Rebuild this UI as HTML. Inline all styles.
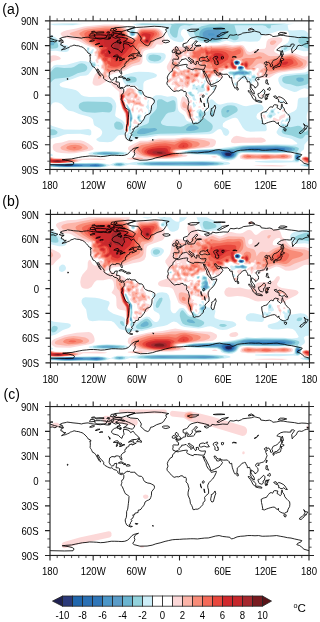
<!DOCTYPE html><html><head><meta charset="utf-8"><style>html,body{margin:0;padding:0;background:#fff;width:320px;height:622px;overflow:hidden}svg{display:block;font-family:"Liberation Sans",sans-serif;will-change:transform}</style></head><body><svg width="320" height="622" viewBox="0 0 320 622" font-family="Liberation Sans, sans-serif">
<rect width="320" height="622" fill="#fff"/>
<g transform="translate(49.92,20.85)">
<clipPath id="clipa"><rect x="0" y="0" width="259.0" height="148.6"/></clipPath>
<g clip-path="url(#clipa)">
<path d="M212.9 145.5l18.5 .1 6.3-.8-15.7-.6-19.1 .6 10 .7zM2.8 142.6l22-1 2.9-.5 5-2.1 17.3 .2 4.5-.3 1.9-.8-10-.8-16.6 .6-23-.6-6.5-1.2 0 6.4 2.5 .1zM254.2 141.8l4.5 .6 0-6.5-3.6-.5-1.4 .2-1.7 1-.5 .8 0 1.5 1.3 2.2 1.4 .7zM81.1 138.9l8.4 .2 10.1-1.1 12.3 .2 9.3-.2 14.2-2.1 2.1-.8-.1-.7-9-2.4-1.6-.6-.7-.7 2.3-1 33.9-3.3 2.6-1.7 1-2.2 .2-2.2-1-1.5-2.8-.9-13.7-1.1-13-.5-11.5 1.4-15.8 0-10.8 2.2-7.2 .1-10.1 5-1.7 1.2-.5 1.5 .5 1.5 4.8 3 3.5 3.7-8 1.2-1.3 .3-.4 .7 4 .8zM195.5 138.9l41.6-.5 4.3-.8 .9-1 .2-1.5-.3-.8-1.3-.6-6.7-.8-9.3 .4-28.1-.5-3.6 .4-2.6 1.2-.8 1.5 .5 1.7 2.2 .9 3 .4zM163.3 136.6l2.6 0 1.4-.7-2.9-.8-3.4 .8 2.3 .7zM11.5 132.2l7.5 .5 5.8-.2 15.1-2.6 2.5-.7 1.1-.7 .2-.8-1.6-2.2-3.7-2.9-4.3-2.3-3.6-1-11.5 .2-7.2 2.2-5.8 .6-2.1 .9-1 1.5-.2 1.5 .4 2.3 .8 1.2 2.9 1.7 4.7 .8zM181.7 121.8l2.9 .7 7.9-.7 19.4 0 3.2-.8 .7-.7 .1-.8-1.8-1.9-2.9-.9-14.4 .2-10.1-2.1-2.9 1-2 2.3-.9 2.2 .8 1.5zM76.5 111.4l.8 .1 1-1.6-.1-3 1.2-3 .2-8.9-.7-3.7-2.6-4.5-.9-4.4-1.7-2.8 0-1.8 .7-.6 .8 .2 1.3 2 .5 2.2 1.8 2.3 .7 .1 .2-.9 1.2-.9 1.5 .2 .8 .7-.1 1.5-1.8 3.7 .3 1.7 1.5 2.4 1-2.6-.2-4.4 .6-.7 3.6-.5 2.9 1.4 2.1 .3 .8-.2 .6-1.8-2.8-1.5-1.3-3 .5-3-2.3-.7-.7-2.2-2.4-2.3 .2-1.4-.3-.8-2.3-1.4-2.9-1.1-3.6 .9-.7 2.4-.7 .6-.8-.1-3.8-2-1.1-4.5-1.5-2.3-1.5-.8-2.1-.3-2.1 .4-.8 .6-.2-2-.8-.8-.4 .8 .2 2.2 1.8 3 2.3 2.4 5 4.2-.1 3.8 .9 6.6 1.8 6 2.9 5.2 .3 1.3 .6 3.9 .2 5.2-.9 5.9 1.4 2.3zM81.6 79l-.6-1.1 .6-1.1 .8-.1 .8 1.2-.5 .8-1.1 .3zM85.2 79.5l-.6-.8 .6-.8 1 .8-.3 .9-.7-.1zM82.6 106.2l1.3 0-.1-1.5-.7 .4-.5 1.1zM88 103.2l1.1-.7-1.7-1.1-2.2-3.1-.7 0-1.2 3.4 .1 .8 .4 .3 4.2 .4zM225.4 100.2l3.1 .4 3.6-3 2.9-1.3 .5-1.3-.5-3.7-.3 1.5-1.2 .9-2.2 .6-2 1.5-.1 2.6-.7 .2-4.3-2-.8 .5-.7 1.6 2.7 1.5zM142.5 99.5l1 .5 1.3-.5 .4-.8-2.2-2.2 .5-2.2-.2-3 1.7-1.1 .4-1.1-1.9 0-.7-.4-1.4-4.1-2.2-.1-.7-1.4 .7-1.3 1.5 .3 .7-.3 .7-1.6-.7-1.3-.7-.1-.8 1.5-.7 .6-.7-.3-.7-1.6-2.9-2.7-1.4-.7-.8 .1-.9 1.5-1.2 4.4-.2 3 .5 2.2 1.1 1.6 3.6 2.4 2.9 6.7 1.4 .8 1.5-1.1 1.1 2.3zM214.5 98l1 0 .2-.7-.6-3-1-.6-.7 .2-.9 1.1 2 3zM92.3 92l.8-.5 .1-.9-.5-.8-.3-1.8-1.4-.6-2.9 2.4 0 .8 .7 1.2 .7-.3 .8-1.2 .7-.1 .8 .4 .5 1.4zM232.5 90.6l1 .2 .7-.2-.2-1.5-.5-.6-1.3 .6-.4 .7 .7 .8zM86.4 88.3l1 .7 .5-.7-.1-1.5-.4-.3-.8 .3-.2 1.5zM152.6 88.3l.3 .4 1-.4 .2-.7-.4-.8-.8 0-.6 .8 .3 .7zM149.1 86.8l1.6-.1 .1-1.3-.8-.3-2.3 1 1.4 .7zM146.2 82.4l1.1 0-.9-1-.7 .2 .5 .8zM148.9 81.6l.4 .8 .7 0 .7-.8 .7-2.2-.7-.8-.7-.2-.7 1-.4 2.2zM153.9 80.9l.4 .3 .6-.3-.6-1.1-.8 .4 .4 .7zM95.9 79.4l.8-.5 .6-1.7-2.7-1.6-.7 .8-.1 1.5 2.1 1.5zM228.7 77.2l1.2 .6 .9-.6-.1-.8-.8-.3-1.4 .3 .2 .8zM139 76.4l1.7 .6 .1-.6-1.6-.4-.7-1.9-2.2-.9 .1 1 2.6 2.2zM211 75.7l.9 .7 .7 0 .5-1.4-.5-1.5-1.4 .1-.9 .6 .7 1.5zM148.8 75l.5 .5 .7 0 2.9-1.2 .2-.8-.9-.9-2.2 .3-1.2 2.1zM202.1 75l1.2 .4 .3-.4-1-.9-.5 .9zM161.8 71.2l.5 .6 .4-.6-.4-.8-.5 .8zM203 71.2l.9 0-.6-1-.7 .3 .4 .7zM156.4 70.5l.8 .5 1.5-.2 1.3-1.8-.2-7.4 1.7-.6 1-.9-.2-.8-2.2-.7 2.9-3.7 .7-.2 2.2 1 .7-.2 2.1 1.5 2.9 .7 .6-.6 .9-3.7-1.6-1.5-.1-.7 .9-1 2.7-1.2 3.8-1.1 .8 1.1 2.1-.4 3.6 .7 1-.3 1.1-3.8-2.8-1.4-.9-2.3 .5-1.5 1.8-.9 2.2-.1 2.3 1 .6 1.5-1.1 2.3 .3 .7 3.6 1.1 .9 1.1 .3 1.5 1 .7 2.1 .5 2.9-.4 2.9 1.7 1.4-1.3 1.5-2.2 1.4-.1 .6 1.1-.5 2.2-1.7 2.3-.1 .7 1.7 3 .7 .4 8 .6 2.8-.6 5.8-3.6 3.6-1.4 13-1.9 9.3-.8 3.2-.9 1.9-1.5 2.1-3.1 0-8.4-2.9 .5-2.8-.2-7.7-2.9-2.4-.5-10.8 1.6-2.9-.4-3.4-1.4-1.6-1.5 .1-1.5 3.6-4.5 4-3.7 .7-1.5-.4-1.5-.8-.7-2.9-.7-6.5 .6-3.6 1.6-1.6 2.2-.9 6-1.1 1.1-8.6 .7-4.4 2.2-2.1 .5-2.2-.9-3.6-5.1-1.4-.9-2.2-.5-7.2 .9-7.9-1.3-7.2 1.1-9.3 .1-.8 .6-2.1-.7-2.2 1.2-3.6-.4-1.4-.6-2.9 .2-5-1.3-5.1 1.3-.5 1-.9 .4-7.9-.9-1.9 .5-1.9 2.3 .1 1.4 1.1 1.5-1.6 .8-.6 5.2-3.9 6.7-.8 2.2 .4 2.2 1.9 2.6 .7 .4 2.1-.5 .3 .5-1 3 .4 2.2-.4 .5-1.4 .5-1.7 2-.6 1.4 .2 .8 1.4 .3 5-2.9 .3 .4-1.3 .7-1.3 2.2-.2 1.5 1.1 .7 1.4-.8 1.1 .9 .4 .7-1.6 1.5-.4 2.2 .5 1.3 2.2-.2 1-.3-.3-2.3 3.6-1.8 1.2 .3 .1 2.3 .8 .5 .8-.5-.1-1.5 .8-.9 2.1 1.1 1.5-.1 2.2-3.1 .7-2.3 1.1 .8 1.7 0 2.9-2.1 .7 .1 1.5 1.9 .6-.6 .3-1.5-.2-.7-1.8-1.5 .1-.8 1.7-1.8 .7 .3 1 1.5 1.2 .9 1.4 .1 1.5-1.1 .8 .1 1.2 3.7 0 2.3-1.6 2.2 1 2.6-.1 2.6zM171.6 56l-.3-.4 .3-.4 .6 .4-.6 .4zM209.8 54.6l-.5-1.2 .5-1.1 1.4-.1 .7 .4-.7 1.8-.7 .4-.7-.2zM128.4 60.9l-.8-.8-.3-1.5 .4-.9 .7-.3 .7 .3 .5 1.7-.5 1.4-.7 .1zM132.7 57.9l-2.8-1.5 0-.9 .7-.4 2.1 .5 .6 .8-.6 1.5zM141.4 50.5l-.3-.8 .3-.4 1.2 .4 .1 .7-1.3 .1zM143.5 51.6l-.3-.4 .3-.6 1 .6-.2 .6-.8-.2zM151.5 53.4l-.6-3 .6-.7 .7-.1 .4 .8-1.1 3zM127.7 50.7l-2.6-1.7-.5-.8 .2-.6 3.6 2.1 .4 .7-.4 .5-.7-.2zM130.6 49l-1.3-1.5 .8-.8-.1-.7-1.5-.8 1.3-1.4 0-3 .8-2.6 1.3-1.1 .8-1.8 .8-.3 2.1 .4 4.3 3.6 1.2 1.8-1.2 0-2.2-1.5 .9 4.5-.5 2.2-1 1.8-.8 .5-2.1 .1-2.2 1.2-1.4-.6zM141.4 26.1l-.5-.9 1.2-.5 .5 .5-.4 .7-.8 .2zM137.1 34.5l-.6-1.1 1.3-1.1 .7 .7 .3 1.1-.3 .5-1.4-.1zM128.2 69.8l.9 .3 .5-.3-1.4 0zM44.7 64.6l2.4 .3 2.9-.6 5.7-3.5 1.6-1.4 2-.8 .7-.7 0-.8-.2-.7-2.2-2.2-.2-.8 .5-.4 1.3 .4 .8 .9 3.7-1.6 11.5-3.1 8-4.4 6.3-1.3 1.5-.6 .9-1 .6-1.5 .5-8.2 .9-2.2 2.1-1.2 7.6-1.8 1.6-1.5 1.6-2.6 4.3 .7 1.5-.4 1.5-1.4 .6-1.7 0-2.8-1-4.4-1.4-3-2.6-2.2-4.3-1.3-14.4 .2-1.5 .5-1.6 1.3-.6 1.5-.7 3.7-.8 1.5-1.3 .9-2.1 .4-2.2-.8-1.4-1.2-2.4-7.5-1.2-1.7-1.5-.9-5.5-1.1-13.9 0-20.2 2.1-7.9 2-9.4 1.6-3.1 1-2.5 1.5-.5 .7 .3 1.5 2.2 2.4 15.2 3.6 7.2 4 4.6 1.9 4 .7 2 2.3-.1 .7-1.6 1.5-.1 .8 .5 1.5-.3 1.4 1.8 .5 .3 1-.1 1.5-1.4 1.5 .4 .1 1.4 2.9 .8 0 .9-.8-.4-1.5 .2-.9 1.5-.7 .7 .3 1.3 2.1 .4 1.5 0 .7-1.1 1.5-.3 3 2.3 1.5 .4 1.4-1.6 2.1-.8-.6-.6-1.5-1.5-.7-.7 .1-3.6 4.2-1.6 3.9-.7 3.7 .3 1.5 1.8 1.5zM151.3 62.3l.9 .1 .7-.5 0-.8-1.4-.2-.7 .7 .5 .7zM46.6 47.5l1.2 .5 .2-.5-.9-1.2-.9 .4 .4 .8zM130.9 45.2l1.1 .4 1.3-.4-1.3-.6-1.1 .6zM.3 42.3l0 .3 1.4-1.6 1.5-.8 6.9-1.6 .7-.8 0-.7-1.8-1.5-3-1-2.8-.1-2.9 .6 0 7.2zM199.6 8.8l.9 0 .8-.7-1.6-.4-.9 .4 .8 .7z" fill="#fcd8d8"/>
<path d="M.3 141.8l0 .4 5.7 .2 11.6-.6 7.3-.7 2.4-.8 .6-.7-1-.7-2.1-.4-20.2-.8-4.3-1.2 0 5.3zM256.7 141.8l2 .3 0-5.8-3.6-.4-2.4 .7-.7 .8 .2 1.5 2.4 2.2 2.1 .7zM81.1 138.1l7.7 .4 3.7-.4 .7-.7-2.9-.5-5.1 .1-3.5 .4-.6 .7zM196.4 138.1l9.8-.2 9.3 .4 10.1-.6 9.4 .2 3.8-.5 1.5-.8 .6-.7-.1-.8-.9-.7-5.7-1-9.3 .6-8.7-.5-9.3 .4-10.1-.5-2.9 .4-2.3 1.3 .1 1.5 .8 .6 3.9 .9zM99.2 136.6l8.3 .7 8.7 0 7.2-.5 6.5-1.1 2-.6 1.1-.7-1.2-.7-6.8-2.3-.6-.7 .5-.8 2.1-.6 9.3-.6 17.6-2.5 4.9-1.5 .8-.7 .6-1.5-.9-1.5-4.6-1.5-6.1-1-11.5-.9-5.1 .1-7.9 1.6-14.4-.3-4.3 .6-7.2 1.8-7.9 .6-5.5 3.5-2.4 2.2 0 1.5 .7 .7 6.4 4.3 5.8 1.9 3.9 .5zM18.8 130.7l6 .2 6.8-1 5.6-1.4 .8-.8 .2-.7-1.9-2.2-3.6-1.8-3.6-.9-5.1-.3-3.6 .2-3.6 1-5.1 2.5-1.3 1.5 .9 1.5 1.4 .7 6.1 1.5zM76.2 110.6l1.1 .4 .7-1.1 0-3 1.2-3 .2-8.9-.7-3.7-2.9-5.2-.8-3.7-1.3-2.2-.3-2.3 1.8-1.5 .7-3.1 .7 1.7 .7 .5 1.5 .2 .7-.2 2.1-3 .8 0 2.1 1.6-.7 2.3 .7 .8 2.2 .1 1-2.3-.4-1.5-2.6-1.5-.8-1.5-.2-1.5-.8-.7-2.7-.8-2.9 1.2-1.1 1.8-1.8 1.3-3.6 1.1-.9 2.1 .7 6.6 1.9 6 3 5.2 .7 4.5 0 5.9-.8 5.9 .8 1.5zM80.9 70.8l-1.4-1 2.1-.2 0 .9-.7 .3zM142.9 98.7l1 0-.3-.7-.5 0-.2 .7zM139.1 96.5l.8 .2 .8-.7 1.4-.1 .7-.9-.2-1.5-1.2-.6-.4-.9 1.6-2.2-1.9-3.7-1.5 1.9-.5-.4 .1-2.2-1-1.1-.7 .2-2.2-3.6-1.4-.2-1.1 1.7-.1 3 1.2 1.5 2.8 .4 1.6 7 1.2 2.2zM82.2 89.8l.2 .4 .7-.4 0-2.8-1.2 1.3 .3 1.5zM90.6 84.6l2.5 .4 .5-.4-1.9-1.2-1.4-2.4-4.4 0-2.1-2-2.2 .8-2.1-1.2-.7 .4-2.2-1.4-.4 .3 1.2 1.5 .3 2.2 1.1 1 1.4-.9 2.2 .1 1.2 .6 .9 1.2 1.4 .3 2.2-.3 2.5 1zM149.9 80.9l.5-.7-.4-.4-.1 1.1zM87.4 78.7l.7 .6 .7-.3 .4-1.1-1.5 0-.3 .8zM95.7 77.9l.4 0-.1-.7-.7 0 .4 .7zM151 73.5l.5 .4 .6-.4-1.1 0zM157.9 70.5l1.5-.8 .5-1.4-.5-3.4-.7-1.3-.8 .4-1.3 2 .4 3.8 .9 .7zM124.3 69l.5 .4 .9-.4-.1-1.5-.8-.5-.5 .5 0 1.5zM128.2 66l.9-.1 1.9-1.3-1.9-1-2.8-3.3-1.7 .5-.4 .8 1.8 2.2 1.2 .8 1 1.4zM136.3 65.3l.8 .5 .7-.3 1.5-2.4 .4-3 1-1.6 .8 .1-.2 2.2 .4 .8 1.1 .4 3.5-2.6-1.3-2.3 2.9-1 2.2-3.4-.1-.8-2-1.5 .6-.7 1.4-.1 1.5-1 .7-.1 1.3 1.2-1.1 5.2 .5 2.2 .7 .2 2.2-1.3 .7 0 2.2 2.1 1.4-.8 2.2-3.6 3.6-.8 .7 .1 1.1 1.2 .3 1.7 .7 .5 .9 0 1.3-2.2 .2-1.5-.9-1.3-.9-.2-.3-.8 .3-.7 .9-.6 .7 .8 2.2-.6 1-1.1-.7-.7 1.1 0 1.4 .8 4.3-1.2 2.9 1.5 2.9 0 .7-1 .5-1.6-.4-.8-2.2-1.1-1.1-3.3 1.1-1.4 1.4-.7 2.9 .1 2.1 1.1 .7 .9-.2 .7-1.1 2.3 .5 .7 3 .8 1.2 1.4 .3 1.3 2.1 .8 3.6-.3 2.9 1 1-.5 .7-1.5-1-.6-2.1-.2 1.7-.7 4-3.2 2.2-.5 2.1 .7 1.2 1.5 .5 2.2-2.6 1.5-2.1 2.2 .5 .8 2.9 .7-.9 3 .5 .3 3.6-2 1.5 .6 2.1-.2 8.7-3 23.7-3.2 1.7-.7 1.6-1.5 1.1-2.2 .3-2.2-.3-.9-1.5-1.1-5-1.8-5.1-2.7-2.8-.8-9.4 1.4-12.2 .5-2.2-.6-5-2.9-4.4-.8-2.8 .5-5.1 2.2-2.9 .1-1.4-.7-.7-1-1.8-4-1-1.5-1.5-1.1-1.5-.4-7.9 1-6.5-1.1-10.8 .6-2.8 0-.8-.7-2.8 .8-2.9-.1-2.2 1-2.1-.8-2.2 .5-1.4-.7-2.9 1.3-1.5-.3-2.1 .8-.7-.1-1.1-2.2-1.1-.2-.4 .2-.7 2.2-2.5 2.5-.6-.3-.1-.6-5.1-.6-.4 .5 1.4 1.5-1 .2-.8-.2-.1-1.5-.5-.7-1.4-.7-.8-.9-1.3 3 1.6 7.5-1 .4-.7 1.1 2.2 .8 1.4-.7 1.4 .3 .8-2.3 1.4-.7 .7-1.2-.7-.9-.8 .2-.1-.7 2.3-2.7 1.2 .4 1 2.3 2.9-2.6 2.9-1.5 .7 0 .4 .3-.4 1.1-1.5 .5-.3 .7 .4 2.2-.6 1.5 2.7 2.2 .1 .8-.6 .7 .9 3 1 1.7 .8 .5 .7-1.5 1.1 .8-.9 2.2-1.7 .4-1.6 1.1 .9 .8 1.5-1.4 1.5 .6-1.6 1.5-.1 .7 1.5 1.5 .1 .7-1.4 .7-.8 0-1.4-1-1.4 .2-.5-2.1 .4-1.5-.7-.6-1.4 .1-.7 .9-1.5 .8-1.4-.4-2.2 1.1-2.1-.1-1.5 1.9-1.4-.4-3.6-2.4-1-.1-.3 2.9-.9 2.3 .8 3.6 4.1-2.2 .1-.7-.8-.7 .2-1.1 .7 .1 .1 1.7 .6 .4 .7 .1 1.5-1.8 4.3 1.6 .6 1.2 0 1.5 .9 1.5 0 .7-1.1 1.5 0 1.5 1.7 2.2zM136.3 53.8l-1.2-1.1 .5-1.4 2.6 1.4 .4 .7-2.3 .4zM149.3 43.9l-.2-1.6 1.7-.8-.6 2.3-.9 .1zM161.5 49.1l-.3-.1 .3-.8 .4 .8-.4 .1zM127 37.1l.7-.5 .4 .5-.4 .5-.7-.5zM145 40.3l-1.8-1.7 1.1-.6 1.2 .6-.1 1.4-.4 .3zM127 32.9l-.3-.3 .3-.3 .4 .3-.4 .3zM131.6 64.6l1.1 .4 .8-.4-.8-.7-1.1 .7zM157.9 62.3l.8 .3 0-.3-.8-.8 0 .8zM118.1 60.8l.2 .5 .8 0 .7-.5 1.7-2.2 0-.7-1.7 .5-1.5 1.5-.2 .9zM130.5 60.8l2.2 .6 .7-.6-.4-1.4-2.4-1.7-.4 .9 .3 2.2zM53.8 57.9l.5 .3 1.3-1.8 1.6-.6-1.1-2.4 .5-1.5 .6-.2 2.1 .8 2.2-1.3 10.8-2.2 3.4-1.5 5.9-4.1 6.5-1.9 1.3-.7 .9-1.1 .6-1.9 .1-6.7 .7-2.2 1.4-1 7.2-1.6 1.5-1.2 2.9-4.8 1.4-.8 5-1.5 .8-1.3 .1-1.9-.4-2.3-1.2-1.9-2.3-1.8-3.4-1-10.8 0-2.8 .3-2.3 1.5-1.8 5.2-1 1.5-1.5 .8-1.4 .3-2.2-.4-2.3-1.5-1-1.5-1.7-4.6-1.6-2.1-2.7-1.5-3.6-.8-13.7 .1-17.3 1.9-5 1.1-11.3 3.7-.8 .7 0 .8 .6 .7 10 4.1 5.8 4.2 6.7 3.6 2.2 .8 1.9 1.6 .1 1.3-2 2.3 .4 .7 1.5 0 .5 .8-.1 4.4 .3 .5 2.9-.5 2.3 3.7 .3 2.3-.8 .7-.5 2.2 1.6 .9 .8 2.1 .1 .7-1.4 3.8 .7 3.7zM48 57.1l.5 .7 .7 0 2.1-1.4 .8-1.5-.7-1-.7-.6-1.8 .9-.9 2.9zM57.8 57.1l1.1 0-1-.6-.1 .6zM208.8 55.6l.6 0-.4-.3-.2 .3zM207.7 54.2l.6 .6 0-2.3-.8 .2 .2 1.5zM127.8 48.2l.6 .3 .5-.3-.5-1-.9-.5-.4-2.2 .9-2.2-.3-.5-2.2-1.4-3.6 1.4-1.4 3.4 .7 2.6 .7 .3 1.5-1 2.1-.1 2.3 1.2zM46.9 40l.2 .7 0-1.6-.2 .9zM220.7 23.7l1.3 .5 2.2-.5 2.2-2.2-.1-1.4-2.1-.7-2.9 .6-1.3 1.5 .1 1.5 .6 .7zM199.6 8.1l.8 0-.8 0z" fill="#fcb4a8"/>
<path d="M.3 141.8l6.5 .4 8-.4 8.5-.9 2.1-.6 .4-.7-3.9-.9-18.1-.6-3.5-1.2 0 4.9zM256.1 141.1l2.6 .7 0-5.1-2.9-.5-2.8 .8-.5 1.1 .5 .7 3.1 2.3zM197.2 137.4l9-.6 10 1 9.4-1 7.9 .5 3.6-.5 1.4-.9-.2-.8-1.4-.7-3.4-.4-8.6 .9-8.7-.8-10 .8-8.7-.9-2.7 .4-1.3 .7-.1 .8 .7 .7 3.1 .8zM109.7 136.6l10.1-.2 7.4-1.3 1.6-.7-.4-.7-4.9-2.3-.6-.7 .5-1 2.9-1 8.6-.3 11.2-2.2 2.9-1.5 .8-1.4-.1-.8-2.1-1.5-2.8-.7-7.7-1.5-3.6-.1-9.4 2.5-9.4-.7-9.3 .8-6.5 1.6-7.2 1.2-2.3 1.4-1.8 2.2-.2 1.5 .3 .7 3.2 3 2.7 1.5 7.5 1.6 8.6 .6zM20.2 129.2l3.8 .4 4.1-.4 2.7-.7 1.8-1.5-1.1-1.5-2.4-1-3.6-.5-4.3 .2-3.7 1.3-1.2 1.5 .3 .7 1.1 .8 2.5 .7zM75.9 109.9l.7 .7 .7 0 .5-.7-.1-3 1.3-3 .2-8.9-.7-3.7-3-5.2-.8-3.7-1.4-3 0-1.5 1.6-2.2-.1-1.5-1.1-1.2-2.1 .2-.8 .4-.5 1.4 .5 5.9 2.1 6.7 3 5 .6 4.7 0 6.6-.9 5.2 .3 .8zM139.3 95l.6 .3 1.3-1-.8-2.3 1.1-2.2-.8-1.5-2.2 .7-.4 .8 .4 3.5 .8 1.7zM86.6 83.1l1.5-.4 2.2 .4-.8-1-4 .3 1.1 .7zM84.3 81.6l.4 0-.2-.7-.7-.8-.8 .1-.5 .7 1.8 .7zM85.3 76.4l.6 .2 1-.9 .2-1.5-.4-.5-.8 0-.4 .5-.4 1.5 .2 .7zM77.3 74.2l.7 .7 .8-.2 1.6-2-.1-.7-.8-.2-1.5 1.1-.7 1.3zM157.6 69.8l1.1 .2 1-1.7-1-3.5-.9 .5-.7 1.5 .5 3zM137.2 63.1l.6 .3 .7-.5 0-3.1-1.9 1.8 .6 1.5zM142 60.8l.8 .6 2.3-2-1.6-1.2-1.5 2.6zM138.2 58.6l1-.1 .8-.6 .3-1.5-1.8-1.4-2.9-.2 .3 3.1 2.3 .7zM158.5 57.1l.9 0 .7-.7 1.4-3.2 2.2-.8 4.3-.5 .8-2.9-.1-1.7 5.1-.4 2.8 1 2.5-1.2 .4-.6 3.6 2 2.2 .4 .7-.4 .9-2.1-2.3-1.6-1.3-3.6 .5-1.1 2.2-1.7 5-1.2 1.8-1.2 .6-1.5 .2-2.2-.3-2.3-.8-1.5-1.5-1.2-1.4-.4-7.9 1.5-7.2-1.3-12.2 .1-.8-.9-.7 .9-.7 .2-2.2 .1-1.4-.6-2.9 .9-2.1-1-.8 .2-1.4 1.6-2.9 1.5-.7 .1-1.4-.8-1.5 .8-.6 2.1 .7 1.5-1.5 1.7 .3 1.2 1.8 1.1 2.9 .1 .4 .3 0 2.2 1.1 .9 2.8-1.3 1.5 .9 .2 1.8-1.2 1.5 .3 .6 2.1 .2 2.2 2.1 1.4 .6 2.2 .6 2.1-.6 1.5 .9 .2 .8-.9 .8-6.5 0-1.1 .6-.1 .8 1.2 1.4 2.9-1.5 1.3 .8 .2 .8-2.3 .9-.7 1.3 1.3 2.2zM155.8 45.5l-1-1.7 1-1.1 .7 0 .8 1.1-.2 .7-1.3 1zM160.8 45.3l0-.9 .7-.4 .2 1.2-.9 .1zM153.5 56.4l1.5-.8 .1-.7-.8-1-.7 0-.3 1 .2 1.5zM122.6 55.6l.8 .6 2-.6-.1-2.2 1.3-1.5-.3-.7-2.2-1.1-.6 .3-1.1 3.8 .2 1.4zM143.8 55.6l.5 .5 2.8 0 1.3-1.2 .7-2.2-1.2-.8-3.8 1.5-.6 .8 .3 1.4zM141.3 54.2l.8 .2 .7-.2 .3-.8-1.3-.7-.7 .7 .2 .8zM131.5 53.4l.5 .4 .6-.4-.6-1.6-.8 .1 .3 1.5zM58 51.2l1.3 .4 1.8-1.2 .4-1 6.5-.7 4.2-1.2 2.6-1.5 5.4-4.5 7.2-2.8 1.4-2.4-.4-6.7 1.1-3.2 1.5-.8 5.7 .2 2.9-1.1 4.3-5.9 5.3-3.3 .5-2.2-1-2.2-2.1-1.5-2.7-.8-12.2 .2-1.4 .6-1.3 1.5-1.2 3.7-1.1 2-1.5 1-2.1 .4-2.9-.7-1.8-1.2-1.2-1.5-2.2-4.5-2-2-2.2-1.1-2.8-.7-13 .2-15.8 1.7-5.2 1.2-4.1 2.2-.6 .7 .5 1.5 6.5 6.1 9 5.8 2.9 .8 1.2 1.5 0 1.4-.9 .6-.4 .9 .1 5.2 .3 .7 2.2 0 .7 .7 .6 1.6 1.4 1.5 .7 2.2 1.1 3.7 0 2.3 2.8 2.2zM93.9 18.4l-.6-.7 0-.7 .6-.5 .7 0 .3 1.2-1 .7zM133.2 51.2l1 .3 .3-1.1-.8 0-.5 .8zM137 51.2l1.5 .6 .7-.1 .5-1.3-.5-1.4-1.9 .7-.6 .7 .3 .8zM146 50.4l1.1-.4 .2-1-1.9 0-.4 .7 1 .7zM211.2 50.4l1.4 .1 0-1.2-.7-.2-.7 1.3zM219 50.4l2.3 .2 5.7-1.2 8.7-.8 14.4-2.5 2.7-1.6 .4-2.2-1.3-1.5-6.5-4.5-3.2-1.3-2.9-.1-12.3 2.1-8.7 2.3-1.3 .8-.5 2.2 .3 5.2-2 .3-.5 .4 0 .8 1.2 1.1 .7 .1 1.5-.6 1.3 .8zM154.1 49l.2 .2 .8-.7 0-1.4-1.2 1.1 .2 .8zM197.1 48.2l4-.7 .7 .1 1.5 .9 1.4-.3 .2-.7-.9-.3-2.9 .2-2.8-.7 4.2-3.7 3.7-4.9 5-.4 1-.6-.2-.8-1.4-.7-1.6-.1-4.3 1.7-8.6 0-4.3 1.3 1 2.3-1.8 1.8-.3 1.2 .8 .7 2.4 .4 1.5 2.6 1.7 .7zM125.1 43.8l1.2-.2 .5-.6-.1-.7-1.9-.9-.9 .9 .3 .7 .9 .8z" fill="#f88c78"/>
<path d="M1.9 141.8l10.6 0 10.1-1.3 .9-.2 .3-.7-4.1-.6-16.5-.6-2.9-1.1 0 4.3 1.6 .2zM257.5 141.1l1.2 .3 0-4.3-2.9-.6-2.6 .9-.1 .7 .6 .6 3.8 2.4zM211.9 136.6l5.1 .4 2.7-.4 1.1-.7-2.4-.9-4.3-.1-1.9 .2-1.4 .8 1.1 .7zM106.5 135.9l9.7 .1 7.9-1.1 1.3-.5 .2-.7-4.1-3 0-.8 1.2-1.1 2.8-.9 7.2 .2 4.4-.5 4.1-1.4 .9-.7 .5-1.5-1-1.5-2.5-1.5-2.8-.8-2.8-.2-3.6 1-5.1 2.8-9.3-1.4-10.1 .8-10.1 2.6-2.1 1.2-1.3 1.5-.4 1.4 .5 1.5 2.7 2.3 4.9 1.4 6.9 .8zM196.4 135.9l2.6 .4 2.3-.4-.6-.8-2.5-.2-1.6 .2-.2 .8zM230.6 135.9l2.2 .3 2.4-.3-.3-.8-2.1-.1-1.5 .1-.7 .8zM22.4 127l2.4 .7 1.8-.7-1.8-.8-2.4 .8zM76.2 109.9l.4 .4 .9-.4-.1-3 1.5-3 .1-8.9-.7-3.7-3.1-5.2-.5-3-1.6-3.7 0-1.5 1.3-2.2 0-.8-.7-1.2-2.1-.1-1.1 1.4 .7 6.6 2 6 2.8 4.4 .8 5.3-.1 6.6-.8 5.2 .3 .8zM139.2 92l.7-.1 .8-2.1-.8-.6-1.2 .6 .5 2.2zM157.7 69l1 .6 .7-1-.7-2.8-.8 .2-.4 .8 .2 2.2zM137.6 57.9l.9 .1 1.1-.9-.1-.7-1-.8-1.4 0-.8 .8 .1 .7 1.2 .8zM146.7 55.6l1.2-.5 .2-.9-.2-1-.8-.2-1.5 .4-.8 .8 .2 .9 1.7 .5zM158.3 55.6l.4 .6 1.4-.7 .4-1.3-.4-.5-.7-.2-1.3 .7-.2 .7 .4 .7zM123 54.9l1.1 .6 .8-.6-.1-1.5 .6-1.5-.4-.7-.9 .1-1.2 2.9 .1 .7zM156.4 51.9l1-.7-.1-.8-1.6 0-.4 .8 .5 .7 .6 0zM161.1 51.9l.4 .3 1.2-.3 1-1.1 0-.6-2.9 .7 .3 1zM138.4 51.2l.8-.8-.7-.6-1 .6 .9 .8zM166.6 51.2l.7 0 .5-.8 .2-3.3 1.6-.4 4.2-2.3 .5 .1 .4 2.2 1.9 .8 1.7-.8 .1-1.5-2.1-2.2 2.5-1.1 .7 .4 1.1 2.9 1.7 2.3 2.3 .6 1.4-.4 .5-1.7-2.2-1.5-1.1-3 0-1.5 1-1.4-.4-2.3 1.5-1.7 5.2-2 .8-2.2-.7-1.5-1-.5-1.4 0-4.4 2-1.4 .3-7.2-2-4.3-.5-9.4-.3-1.4 1.7-.7 0-1.5-.5-1.4-1.5-.7-.1-2.2 .8-2.1-.9-1 1.5-1.2 .7-3.6 1.2-2.2-.4-.4 1.5 .9 2.2-1.3 1.5 .3 .7 4.1 .4 1.5 2 .8-.9 .1-2.2 1.7-1.5-.4-1.5 2.8 0 .7-1.3 .8 .9 .3 1.9 2.5 2.8-.1 .9-1.3 .4-1.7-1.9-1.9-.7-.7 .2-1.3 1.3 .5 1.5 2.2 1.4 0 1.7 .7 .4 .7-2.1 .8-.2 5.7 3 .8 3 1.2 .9-.5 .8 .9 .7 .5 1.2 1.5 .8 .7 1zM58.6 50.4l1.1 0 .6-.7-2.4-1.6-.4 .1-.5 .8 1.6 1.4zM61.4 47.5l5.1 0 5.1-1.5 2-1.5 4.4-4.7 6.1-3.5 1.1-1.6 .7-6.5 2.2-5.2 1.4-.6 6.5 1.9 2.9-.9 1.4-1.4 2.8-4.3 3.7-3.2 .6-1.2-.5-1.5-2.1-1.5-2.3-.5-7.9-.1-2.9 .5-1.4 .9-.8 1-2.1 6.1-.7 .7-2.2 .4-2.9-.4-2.8-1.2-1.7-1.4-4.1-6.2-2.2-1.3-2.8-.8-11.6 .3-15.1 1.5-3.6 .7-2.5 1.3-.6 .7-.2 1.5 1 2.3 1.7 2.2 2.6 2.2 5.2 3.2 2.4 2 2.2 .8 .5 .6 .6 2.3-1.6 3 .2 2.7 .8 .6 1.5 .4 .7 2.3 3.1 4.4 .4 1.8 .7-.3 .8-1.3 .7 .3 .7 1-1 1.5 .3 .4 .7 .5 2.2-.1 .6 .7zM93.1 18.6l-.3-1.6 1.1-1.1 .7 0 .7 .8 .1 1-.8 1-1.5-.1zM196 47.5l2 0-.5-.8 .8-1.5 .4-2.2-.7-2.2-1.9-.8-2.2 1.7-2.1 .5-.9 1.6 .9 .6 2.1 .2 2.1 2.9zM220.5 47.5l2.9 .5 13-.7 10.1-2.7 1.2-.8 .3-1.5-2.1-3-3-2.4-2.9-.7-3.6 .4-7.2 1.7-7.9 3.5-1.3 1.2-.5 1.5 .1 1.5 .9 1.5zM158.2 45.2l1.2 0-.7-.4-.5 .4z" fill="#f46a58"/>
<path d="M4.7 141.8l4.9 0 6.9-.7 4.6-.8 0-.7-11.5-.9-7.2 0-2.1-.7 0 3.2 4.4 .6zM257.5 140.3l1.2 .7-.1-3.6-2.8-.5-1.8 .5-.2 .7 3.7 2.2zM104.5 135.1l5.9 .4 6.5-.1 5-.9 1.4-.8-3.2-3 0-1.5 1.2-2.2-1.5-1.2-2.9-.8-7.2 0-7.2 1.1-5.8 1.7-2.3 2.1 0 1.5 1.6 1.6 3.6 1.3 4.9 .8zM129.1 127l3.6 .5 3.7-.5 2.2-1.5-.1-1.5-1.4-1.5-1.5-.6-2.1-.2-1.5 .3-2.1 1.3-1.3 1.4-.4 1.5 .9 .8zM76.5 109.9l.5 0 .4-.8-.8-1.6-.5 1.6 .4 .8zM77.1 105.4l.2 .4 .7-.6 .8-1.8 0-9-.6-3.1-3.3-5.2-.5-3-1.5-3.7 0-1.5 1.1-2.9-1-1-1.4 0-.8 1 .7 6.6 2 6 2.8 4.4 .7 5.3 .1 8.1zM158.2 69l.5 .2 .4-.9-.4-1.5-.8 .2-.1 .5 .4 1.5zM137.5 57.1l1 .2 .2-.9-1.3 0 .1 .7zM145.9 54.9l1.2 .2 .4-.9-1.1-.4-.6 .4 .1 .7zM165.3 48.2l1.3 .3 .6-1-1.3-.3-1.7 .3 1.1 .7zM183 47.5l2.3 .3 .7-.5 .1-1.3-2.1-1.5-1.3-3.7 .4-1.5-.4-.7-1-.2-1 .9 0 4.5 1 2.2 1.3 1.5zM175.4 46.7l1.2 .5 .8-.3 .5-.9-.3-.8-1.7-.4-.7 1.2 .2 .7zM195.4 46l.7 .6 .7 0 1-1.4 0-2.2-1-1.6-1.4 .1-1.5 1.3-1.4-.5-1.2 .7-.1 .8 .6 .3 2.1-.2 1.5 2.1zM228.7 46l4.8 .3 5.2-1.1 4.4-2.2 .5-.7-.1-1.5-1.3-1.9-2.2-.9-3.6 .1-4.7 1.2-4.1 2.2-2.2 2.3 0 .7 .8 .7 2.5 .8zM60.5 45.2l3.1 .7 2.9-.1 2.3-.6 2.1-1.4 3.5-5.5 4.9-4.2 1.8-2.2 3.3-6.7 .1-3.1-1.4-1.3-5.3-2.3-1.5-1.5-3.6-5.2-1.9-1.3-2.1-.8-4.3-.3-7.2 .5-15.2 1.8-2.8 .9-.8 .7-.5 1.5 .4 1.5 1.6 2.2 7.2 5 2.2 2.4 3.6 .8-.1 .7-1.3 .8-1.2 4.4 3.5 3 .1 .7-1.1 1.5 .1 .8 2.1 2.2 2.2-.7 .5 2.2 1.6 1 1.2 1.9zM60.8 41.9l-.8-1.5-2.1-.4-.3-.7 .2-1.5 .8-.6 2.2 0 0 4.7zM55 27.6l-.3-.2 .3-.7 1.4 0-1.4 .9zM166.8 43.8l1.9 .1 2.2-.8 7-4.5 1-3-.7-2.2-2.3-1.9-3.6-1.3-5-.5-5 .2-.8-.5-.7 1.1-1.4 .3-1.5-.4-1.6-1.5-1 0 .2 2.2 1 2.9 .7 .3 3.6-1.7 1 .8-.3 1-2.1 1.2-.6 .7-.2 1.5-1.1 1.5 .4 .6 2.2 .2 1.4 1.9 .6-.5 .2-1.1 2.1 2.1 2.4 1.3zM153.1 38.6l1.9 0-.1-.8-.6-.8-1.4-.6-.9 .7 .1 .7 1 .8zM144.8 32.6l.9 0-.7-.7-.2 .7zM95.7 23l2.5-.3 1.5-1.2 1.7-3.8 2.9-3.7 .1-1.5-.7-.7-2.6-.7-6.5-.2-2.2 .3-1.7 1.3-1 3 .3 3 2.8 3 2.9 1.5zM93.1 19.7l-1-1.2 0-1.5 1-1.4 1.5-.2 1 .9 .2 1.4-1.2 1.5-1.5 .5z" fill="#e8473c"/>
<path d="M1.2 141.1l7.7 .5 8.9-1.3-1.4-.7-6-.6-10.1 .1 0 1.5 .9 .5zM258.5 139.6l.2 .5 0-1-.2 .5zM256.4 138.9l1.6 .2 .5-.2 0-.8-1.2-.8-2.4 .1-.3 .7 1.8 .8zM103.5 134.4l10.5 .6 5.1-.5 1.9-.8-.1-.8-2.4-2.2-.9-2.3-.7-.7-2.2-.6-5.7 0-6.5 .8-4.2 1.3-1.5 1.5 .4 1.5 1 .7 5.3 1.5zM132.4 125.5l1.1 .4 .9-.4-.2-.8-.7-.1-1.1 .9zM76.4 109.1l.2 .4 .4-.4-.4-.5-.2 .5zM77.3 104.7l.7 .1 .5-1.6-.3-3 .4-4.4-.6-4-3.4-5.7-.6-3-1.4-3.7 .9-4.4-.5-.6-1.4-.1-.5 .7 .5 6 1.9 5.8 3.1 5.2 .7 5.3 0 7.4zM158.4 68.3l.3 .2 0-.8-.3 .6zM184.1 47.5l1.2 0 .6-.8-.3-.7-1.8-1.1-1.4-3.8-.7 0-.6 1.9 .3 1.5 1.5 2.2 1.2 .8zM176.5 46.7l.8-.7-.7-.6-.8 .6 .7 .7zM195.9 46l.9 0 .6-1.5-.2-1.5-1.1-.9-.7 .3-.7 1.4 1.2 2.2zM191.6 43.8l1.5 0 .2-.8-.8-.4-.7 .2-.2 1zM232.5 43.8l3.3 0 1.6-.8 1.1-1.5-.6-.7-.8-.2-2.9 .4-2 1.3-.3 .7 .6 .8zM64.8 40.8l1 0-.4-1.5 .7-.7 6.2-3.8 3.3-2.9 5.3-6.4 .4-1.1-.2-1.4-5.2-3.9-4.3-6-3.6-1.8-4.4-.3-6.3 .8-13.9 3-.8 1.5 .7 1.4 5.9 4.9 2.4 3.3 6.1 .8-1.3 1.7-3.6 .7-1.5 2 .1 1.5 .7 .3 2.6-.3-.4 1.5 1.4 2 5.1-.1 .7 1.2 2.9 1.4 .6 .7-.2 1.5zM55 32.3l-.2-.4 1.6-2.2 0 1.9-1.4 .7zM161.5 40.8l0-1.2 0 1.2zM167.8 40l2.4 0 3.2-2.2 .7-2.2-.7-1.5-.9-.7-1.6-.8-2.9-.5-2.9 .4-1.3 .9-.4 1.4 1 2.3 1.5 1.7 1.9 1.2zM55.5 38.6l.9 0 0-1-.7-.2-.2 1.2zM159.2 38.6l.2 .3 1.3-.3 .7-2.3-1.3 .2-.9 2.1zM156.6 32.6l.6 .4 .6-.4 .1-.7-.7-.7-.7-.1 .1 1.5zM161.5 31.9l0-.9 0 .9zM96 22.2l2.2-.2 1.3-1.3 .3-3 1.2-3.7-1.4-1.1-2.9-.5-2.8 0-1.5 .7-.6 .9-.1 .8 2.9-.2 1.6 1.7 .1 1.4-2.2 3 .5 .8 1.4 .7z" fill="#d0292d"/>
<path d="M2.6 141.1l7 .3 5.5-1.1-1.7-.7-5.9-.4-5.7 .4-.8 .7 1.6 .8zM256 138.1l.9 0-.9 0zM108.7 134.4l7.5-.2 2.3-.5 .5-.8-3.5-3.2-3.6-1.1-4.4 0-4.3 .6-2.9 1-1 1.2 .4 .8 2.1 1 6.9 1.2zM77.7 103.9l.3 .3 .3-1-.3-2.5-.3 3.2zM77.9 98.7l.1 .5 .2-4.2-.7-3.7-2.3-3.6 0 1.2 1.9 3.1 .8 6.7zM74.4 87.6l.6 0-.6-1-.3 .2 .3 .8zM73.6 86.1l.1 .3 0-2.9-1.4-4.1 .7-3.7-.2-.7-1.2-.2-.1 3.1 .6 .8-.1 2.2 1.6 5.2zM183.8 46.7l.8 .3 .7-.3-2-1.5-.2-2-.7-1.3-.7 .4-.1 1.5 2.2 2.9zM195.7 45.2l.4 .4 .7-.4 .2-.7-.2-.9-.7-.7-.9 .9 .5 1.4zM192.5 43.8l0-.9-.4 .1 .4 .8zM56.3 34.8l1.6 .5 1-.5 0-1.4 1.6-1.5 .3-1.9 .7 1.9 5.7 1.1 2.9-.8 2.9-2.6 1.6-3.7 0-2.9-3-6.3-2.2-2.4-2.9-1-3.6 .2-5.7 2-3.2 2.2-.4 1.5 1.4 6.7 2.9 .3 .5 .5-.3 2.2-1 3.7-1 1.5 .2 .7zM95.6 21.5l1.9 .3 1.5-1.1 .1-1.5-.9-1.4-.7-.3-2.5 2.5-.1 .7 .7 .8z" fill="#c6282c"/>
<path d="M4.3 141.1l6.1 0 2.8-.8-2.1-.7-3.6-.2-3.6 .2-1.6 .7 2 .8zM107.6 133.7l6.4 0 2.5-.8-.2-.7-1.6-1.2-3.6-1.1-5 .1-2.8 .7-.9 .7 .3 .8 1.4 .7 3.5 .8zM72.1 77.2l.2-1.4-.2 1.4zM182.1 43.8l.3 .5 .3-.5-.3-1.1-.3 1.1zM58.1 31.9l.5 .4 .9-.4 .2-1.5-.4-1.1-1.1 1.1-.1 1.5zM66.1 28.9l2.6-.2 1.1-1.3 .5-1.5-.2-2-.7-1.8-1.4-1.8-.8-.3-.7 .2-1.4 1.8-1.2 3.2 .4 2.2 1.8 1.5zM59.2 26.7l1.1 0-1.1 0zM95.6 20.7l1.9 .6 .9-.6 0-1.5-.9-.6-.8 .1-1.2 1.3 .1 .7z" fill="#a5282e"/>
<path d="M3.8 140.3l3.7 .7 3.9-.7-3.9-.6-3.7 .6zM110.1 132.9l1.8-.1 1.1-.6-1.4-.8-2.6-.2-1.8 .2-.4 .8 3.3 .7zM96.3 20.7l1.2 .2 .7-.9-.7-.8-.8 0-.7 .8 .3 .7z" fill="#781b20"/>
<path d="M5.9 140.3l3.1 0-3.1 0z" fill="#5a1418"/>
<path d="M.3 146.3l54.5 0 6-2 4.3 1.2 5 .4 3.6-.5 5.8-1.8 10 1.1 13.7 .6 56.2 .1 14.4-1 5.7-1.1 .9-.7-1.6-1.1-2.9-.6-17.2-.9-59.1 .3-13.7 .7-7.9 1.3-6.4-.9-4.4 0-3.6 .7-3.6 1.8-6.4-1.6-6.5-.4-46.8 1.1 0 3.3zM252.9 145.5l5.8 .8 0-3.3-6.9 .3-2.2 .8 3.3 1.4zM216.9 141.8l11.6 .2 14.4-.7 4.3 .4 1.4-.4 1.1-1 1.7-5.2-.8-3.7 3.5-2.9 .3-4.5 4.3-5 0-15.5-1.3-2.5-.7-4.5 .3-3 1.7-5.8 0-12.9-.7 1-1.4 .9-6.5 .2-1.5 .8-.7 1.7-.5 6-.9 3-2.2 1.9-6.9 3.2-.3 1.1 .7 .4 .8-.6 .7 .1 .4 .5-.3 1.5-2.3 .4-2.8 3.3 1.4 1.3 2.1-1 .7 1.2-.3 1.5-1.1 .5-2.1-.9-3-.3 .1-1.1 2.1-1.2-.7-1.4-1-.1-1.9 3 .2 1.5-1.4 .7 .1 2.3-2.8 4.4 0 1.5 2 2.2 3.4 1.5 7.2 1.5 2.9 1.1 4.7 3.4 .5 .7-.3 .8-4.2 .5-17.3-.5-11.5 .7-20.2 .2-25.6 3.5-25.5 1.4-11.2 1.6 .3 .7 2.8 .8 7.4 1.1 10.1 .7 14.4 .3 2.9 1.1 .5 .5 .4 1.5 1.2 .9 2.9 1.1 2.9 .5 4.3-.5 2.9-1 2-1.8 2.7-3.7 3.2-1 32.4 .4 16.5-.3 2.2 .2 .7 .7-.6 6-1.5 .9-17.3-.3-19.7 .8 .2 .8 11.5 .7zM.7 135.1l1.8 0 .4-.7-.5-1-1.4-.5-.7 .4 0 1.5 .4 .3zM44.2 134.4l9.4 .6 12.9-.2 7.9-.6 3.3-1.3-.2-.7-1.5-.8-3-.6-16.6-.7-12.2 .9-5.1 1.2-.8 .7 1.5 .8 4.4 .7zM49.2 121l8.7 .4 3.6-.5 2.5-1.4 3-3.7 1.7-1.3 2.9-.7 2.8 .2 .8-1 0-1.6-.9-2.3 .6-5.2-.5-2.3-2.1-2.3-6.3-3.5-.8-1.5 1.2-8.9-.4-3-1.5-3-3-2.7-2.9-.9-19.4 .3-5.1-.6-2.7-1.3-3-3.3-2.2-1.4-3.6-1.2-10.1-1.9-2-1.1-.9-1.5 .7-1.5 3-1.5 8.6-2.4 8.6-3.2 5.8-.6 2.1-.9 4.7-6.2 1.1-.5 2.2-2.4 .6-.1-.6-.5-1.5-3.2-2.1 .5-.8-1.3-1.4-.7-1.4 2.2-3.6-1.2-5.1-.1-13.7 3.6-4.3 .4-5.7-.2-2.9 .7-3.6 4 0 37.6 1.4-2.9 1.5-1.4 2.1-.7 2.9 .3 3.6 1.7 4.3 4.7 2.2 1.6 5 1.1 5.8 2.5 9.3 2.4 2.9 1.2 1.7 1.9 .8 4.5 .8 1.5 5.4 3 1.4 1.4 .8 1.5 .1 1.5-.9 2.3-1.4 1.4-3.6 2.3 .3 1.4 2.5 1.5zM78.8 119.5l.7 .3 3.6-.6 6.4-2.2 8-.3 10.8-2 15.8 0 10.8-.7 24.5-.5 3.6-1.1 5-3.7 2.2-.6 1.4 1 2.2 4.9 2.1 1.2 1.5-.6 1-1 .9-1.5 .1-1.5-1.5-2.2-4.8-2.2-.4-1.5 .5-2.2 2.8-2.3 6.4-2.9 2.2-.5 1.4 .2 1.7 1 5.2 8.9 2.2 2.2 1.7 1.1 3.6 .7 15.1-.6 1.4-1.2-.5-5.2-3-1.6-1.1-1.3 .6-1.5-.2-2.2-.8-.3-.3 .3 0 1.4-.4 1-1.1-.2-2.8-1.5-.9-2.2 .7-2.3 1.2-1.4 4.8-3 .5-1.5-.2-1.5-1.5-2-2.1-.8-3.6 .1-10.1 1.9-2.9-.5-6.5-2.4-4.3-.8-5 .2-6.5 1.8-2.2 0-2.1-1.2-3.6-3.6-1.5-.4-1.4 .7-.7 1.1 0 6.6-.9 3-1.3 1.1-1.4-.2 0-.9 1.5-2.2-.8-.9-.7 .4-1.3 2.7-.9 .7-.7-.1-2.2-2.3-2.8 .7-1.5 1.8 .2 .7 1.7 1.5 .3 1.7-.7 .8-1.5-.2-.9 .7 .1 .7 .8 .7 2 .8-.7 2.2 .4 .8-2.4-.3-2.9 1.5-1.4-1.4-2.2 .2-2.1-.9-1.2-1.4-1.9-4.4-4.1-3-1.3-1.5-.8-3-.5-8.1-.5-1.5-1.3-1.4-2.8-.6-5.1 .7-6.5-1.6-5 .1-2.6 1.3-1.2 1.5-.1 .7 1.7 2.3 .4 1.4-1.1 1.6-1.2 .7 .4 1.5-.4 1.4-2 0 .1 1.5-.5 .8-1-.8 .8-1.5-1-4.4 .6-3-.8-.3-.2 .3-.7 2.2 .5 1.5-1.1 1.8-.7 .5-.1 .7 2.5 3 0 2.9-.9 1.7-2.6 1.3 0 1.5-.6 1.5-1.9 1.3-1.4-.4-.5-.9 0-.7 1.3-2.3-1.5-1.3-2.2-.1-1.3 2.9 .2 .8 2 3.7 2.1 .7 .3 .8-1.1 1.2-1.5 .7-2.9-.2-.4 .5-.1 2.2-1.6 1.2-.7 1.4-.7 .5-1.5-2.3 1-3.8-.4-2.2 1.3-3.7-.1-3-2.5-7.4-2.9-4.2-.7-.5-.2 .2-.1 2.3 3 5.9 .6 3.7-.1 8.9-1.2 3.8 .3 2.9-.9 1.8-1.7 1.2 .1 3 2.4 2.9zM164.4 91l-.5-2.7 .8-2.9 .4-.5 .5 1.2-1.2 4.9zM78.8 114.7l-.2-1.1 1.7-.7-.3 1.4-1.2 .4zM.3 118.1l0 .4 2.1-1 6.5-1.5 5.1-2 3.6-.8 12.9-.2 9.4 1.6 1.4-1 .1-3-.8-1.7-2.2-.8-7.9 .7-16.5-.1-11.6-3.6-2.1-1.1 0 14.1zM216.9 100.2l.8-.4 0-.6-1.3 .3 .5 .7zM219.2 97.3l1.4 .4 .7-.3 2.1-2.3 2-.8 .5-.8-.1-.7-1.4-1.5 0-1.5 .5-.9 .7-.4 2.2-.2-1.5 0-.2-.7-1.2-.2-1.5 1.1-2.1 0-.7 .3-.8 2.6-2.3 2.9-.5 1.4 .7 1 1.5 .6zM94.5 93.5l.8 .2 1.1-2.4-.4-.2-1.2 .9-.3 1.5zM228 92.8l.5 .1 1.1-.9 .1-.7-1.9-.7-.4 1.4 .6 .8zM214.7 92l1.5 .6 1.7-.6-.1-.7-1.6-1-1.4 .3-.5 .7 .4 .7zM231.1 87.6l1 .3 .7-.3 .7-.8-.2-.7-.5-.4-.7 .3-1 .8 0 .8zM143.3 86.1l.2 .5 .8 0 1.4-1.1 .5-.9-.2-.7-1.1-.8-.6-1.7-.8-.4-.9 1.4 .7 3.7zM81.2 84.6l.5 0-.1-1.1-.8 .4 .4 .7zM155.3 83.1l.5 .6 2.5-2.8 .4-4.7-.8-.1-2.1 2.6 .4 2.9-.9 1.5zM208.4 81.6l.6 .5 1.5 0 .7-1.2-1.4-1.1-.8 0-.7 .3-.3 .8 .4 .7zM75.1 80.9l.8 .1 0-.8-1.5-2.1-.2 1.3 .9 1.5zM229.7 80.9l.9 .7 1.5 0 2-.7 0-.7-4.2-.7-.2 1.4zM143.5 79.4l.8 .4 2.5-.4-1.8-2.2 0-2.2-.7-1.3-1.7-1-1.2-2.1-.7-.2-3.2 .8-.1 .8 2.5 2.7 2.7 1.7 0 1.5 .9 1.5zM90 74.2l1.7 .5 1.1-1.2 .1-.8-1.2-2.9 1.4 0 .3-.8 0-5.9 .8-2.3 2.5-1.4 9.1-3 1.3-1.5-.6-1.5-3.3-1.4-5-.9-9.4-.3-4.3 .6-8.1 2-2.7 1-1.4 1.2-.3 1.5 1.1 3 1.3 2.4 1.5 1.3-.4 1.5 1.6 0 .1-.7 .8-.3 1.5 .1 2.1-.4 4.3 .8 1.6 1.2 1.4 2.3 .1 .7-1.1 .8-.2 1.4 2.3 3zM155.5 74.2l2.1 0 .5-.7-.2-.8-1.1-.7-1.4 0 .1 2.2zM147.2 72.7l.7 .4 2.1-2.3 .7 .5 1.5 .1 2.9-1.5 .4-1.6-1-1.5-.3-1.5 1.8-4.5-.9-1.5-.8 .1-.4 .7 .8 1.5-3.1 2.2-.9 1.8-.7 .3-.7-2.1-2.9 1.7-.7-.3-.7-2-2.7 .6 .4 2.2-.6 2.3 .7 .4 2.2-.4 2.7 1.5 .2 .7-.7 2.2zM199.9 72l.8 0-1-.9 .2 .9zM213.8 72l.3 0 .1-.8-.8-1.2-.8 0-.3 .5 .2 .7 1.3 .8zM242 70.5l2.3 .6 2.2-.1 5-2.6 2.9-.9 2.9 .3 1.4 1 0-19.4-1.4 1.2-2.2 1-20.1 1.9-3.6 1-2.2 1.6-.8 1.8 0 2.2 1.1 3 1.6 2.2 3.1 2.2 7.8 3zM163.7 69.8l1.7-2.3 .4-1.5-1.4-.7-.7 .2-1.2 2.8 .1 .7 1.1 .8zM185.2 64.6l1.4 0 .4-.8-.3-1.1-1.4-1.4-.7 .4-.5 1.4 1.1 1.5zM162.2 62.3l2.1-.7-.6-.7-1.5 1.4zM200.1 62.3l.3 .6 1.7-.6 .5-2.9 .7 .6 .7 2 1.3-2.6 .9-.2 0-1.3 .7-1.5-2.2-2.7-.7-.2-.8 .7-1.4 .2 .4-3.2-1.1-1.1-1.4-.2-1.5 .4-4-1.3 .1-2.3-1.1-1.1-3.6-.7-1.4 .7-.7 1.9 .6 2.2-3.5 .6-4.4 0-1.9 .9-.3 .7 1.1 1.5 .1 1.5 1 .3 1.5-.8 .7 .1 .7 1.1-.1 1.5 .5 .8 1.1-.1 .7-.7-.1-1.5 .5-.7 3.2-.4 1.1 .4 .6 .7-.8 .8-2 .7-.1 .8 1.2 1 .7 .2 2.2-1.2 5.7 .9 2 1.3 .6 2.2zM200.4 57.4l-.7-.3-.7-1.3-2.2 0-.5-.9 1.2-.8 1.5 .7 2.1-.3 .4 .4-.4 2.2-.7 .3zM165.7 60.1l.9 .7 2.1-2.2-1.4-.6-.9 .6-.7 1.5zM48.1 45.2l1.1 .6 .3-.6-1-1.3-.7-.1-.7 .7 1 .7zM185.1 43.8l1.6 .5 2.2-.2 1.3-1.8 0-1.5-2-1.3-2.9 .2-1.2 1.1-.1 .7 1.1 2.3zM100.6 42.3l6.9 .4 2.2-.4 2.2-.9 2.3-2.1 1.4-2.2 .3-2.3-.6-1.4-1.3-1-2.9-.4-10-.1-3 .7-1 .8-.8 1.4 .1 3.8 1.8 2.6 2.4 1.1zM40 32.6l1.3 .6 1.3-.6 1.3-3.7-.3-.7-.9 0-2.8 3.1-.7-1.7 .5-2.2-.2-.7-1.8-.3-.5 1 .1 3 1.1 1.5 1.6 .7zM13.6 31.1l2.5 .1 2.2-.8 1.2-2.2-.5-2.5-1.4-1-5.8-1.5-5.7-6.2-5.8-3.6 0 16.8 5.7-.2 7.6 1.1zM233.3 31.1l2.4-.2 5.7-2.2 2.9-.4 2.9 .3 6.5 1.7 5-.1 0-17.4-2.1-2.2-2.2-1.1-2.9-.3-9.3 .4-2.9-.2-.7-.6-.9-4.4 1.3-.8 5.7-.7-162.5 0 4.5 1.9 18.7-.1 8.6 1.1 1.8 1.5 2.5 7.3 2.2 3.3 3.6 2.3 5.8 1.1 2.8-.5 1.4-1.6-.3-1.5-2.5-3.3-.5-1.9 .8-2.9 1.9-1.5 1.4 .2 1.6 1.3 2.9 5.9 7.2 5.2 4.1 1.1 12.3 .7 5.7-.4 7.9-2.5 7.2 2 9.4-1.3 6.5 .6 7.9-.3 2.2-1.1 1.9-4 2.3-1.5 7.2-1.5 8-2.5 7.9-.1 1.3 1.2 .7 2.2 .4 3-.2 2.9-1.5 2.7-5.3 3.3-1.8 2.2 0 2.2 .7 .8 1.9 .7zM199.7 9.6l-1.5-.2-1-1.3 1.8-1.1 1.4-.1 1.4 .4 1.2 .8-.2 .7-1 .6-2.1 .2zM81.5 15.5l2.4 0 1-.7 .8-1.5-.8-6.7-.4-.8-1.4-.1-1.5 .6-1 1-.6 1.5-.7 3 .1 1.5 .9 1.5 1.2 .7zM4.2 4.4l19.1 0 9.4-1.2 7.7-.3-40.1 0 0 .6 3.9 .9zM256.6 2.9l2.1 .5 0-.5-2.1 0z" fill="#cdeef8"/>
<path d="M.3 145.5l9.3 .8 40.8 0 3.9-.6 2-.9 0-.7-1.6-.8-6.2-.8-27.3 .1-20.9 .7 0 2.2zM257.3 145.5l1.4 .2 0-2.3-5 .7 .3 .7 3.3 .7zM65.6 144.8l3.1 .4 2.9-.2 2.8-.9 .4-.8-1.2-.7-2-.5-5.1 .1-2.6 1.1 .1 .8 1.6 .7zM148.1 144.8l18.5-.4 6.7-1.1 .7-.7-2.3-.8-5.1-.6-14.4-.5-50.4 .2-10.1 .7-4.8 1 .8 .7 3.3 .6 10.1 .7 47 .2zM224.4 140.3l1.8 0-1.8 0zM245.6 140.3l1.6 .3 1.4-.4 1-1.3 1-3-.5-2.3-1.5-1.6-1.3-.6-.2-.7 1.5-1.5 .4-1.5-.7-.7-2.5-1.1-6.5-1-13-.6-29.5 .5-6.5 .6-11.9 2.3-9.9 .8-22.3 .7-7.9 .7-3.4 .8-.1 .7 7.3 1.3 24.5 1 3.6 1.4 2.9 2.6 5 .9 3.6-.3 2.9-1.2 1.4-1.2 2.6-3.7 2.4-.9 35.3 .5 18.7-.8 1.5 .4-1.4 2.3-.6 2.2 .4 3.7 .7 .7zM45.6 133.7l8.7 .6 10.8-.2 7.2-.7 1.7-.5 0-.7-6-1.1-13.7-.3-7.9 .6-3.1 .8-.4 .7 2.7 .8zM248.5 117.3l2.3 .5 2.1-.5 2.9-3.4 2.9 .5 0-5.5-3.6 2.6-2.9-4.6-2.1-1.7-2.2-.2-7.2 1.3-2.9-.4-.3-1.2-2.5-.1-1.5-.9-1.4 .2-.7 .8 1.4 .7 2.2-.4 .6 1.2-.6 .4-1.5-.2-1.4 2.4-.4 1.8 1.1 1.8 2.2 1.1 6.4 1.2 7.1 2.6zM82.9 115.8l13.1-.8 8.7-1.6 5.7-.6 28.8-.4 18-1.2 2.4-.6 1.9-1.3 1-1.6 .4-2.3-.5-1.5-1.2-1.4-6.9-5.4-2.1 1.8-.6-.9 .2-1.5 1.1-1.3 .1-.9 1.6-1.5-.3-.9-1.4-.2-.7-.6-1.5-2.1-.7 .1 .2 .7-1.5 1.5 .2 4.5 1.4 1.5 0 .7-1 1.5 .3 1.5-1 1.2-1.5 0-1.4-.8-1.1 .3-1.1 1.1-2.1-.5-3.6 .6-4.4 2.5-2.8 .6-5.8-.7-7.9-.1-4.3-1.2-1.5-1.5 0-1.5 5.1-7.5 2.1-1.7 5.8-1 1.2-1 .5-2.2 0-4.5-.4-2.2-1.3-1.5-1.4-.1-5.1 2-1.4-.4-4.3-2.4-2.2-.2-1.4 .4-1.2 1.5 0 5.2-.4 2.2-1.5 2.2-4.9 5.2-.6 1.5-.9 5.2-1.7 1.5-6.8 2.4-7.7 5.8-.7 2.9 1 1.5zM.3 114.3l2.9 .2 3-.9 1.4-1.5-.2-1.5-2.8-1.9-2.2-.4-2.1 .2 0 5.8zM79.7 109.9l.5 .6 .8-.6-.6-2.2 .8-2.3-.2-3.7 .8-1.5 .7-2.9-.5-3-1.8-6-1.4-1.6-1.5-2.7-.7-.3 0 1.6 2.6 5.3 .7 2.2 .2 11.1-1 2.3-.1 1.5 .7 2.2zM66.6 108.4l2.1 .6 2.1-.1 1.5-.4 .7-.8 .3-1.5-.5-2.3-1.2-1.7-2.2-1.3-2.9-.2-2 1.8-.3 1.4 .3 2.3 1 1.5 1.1 .7zM90.1 101l1 0 .2-.8-1.6-1.5 .3-2.9-.3-.8-.9-.4-1 1.2-.3 1.5 2.6 3.7zM236 99.5l.4 .4 1.4-.4 .6-.8-.4-.7-1.1 0-.9 1.5zM173.8 96.5l2.1 .3 2.2-.6 8.2-4.9 .9-.7 .7-1.5-.7-2.3-2.6-1.8-3.6-.7-3.7 .3-3.5 1.6-2.1 2.1-.5 2.3 .6 3.7 .9 1.5 1.1 .7zM219.6 96.5l1 .4 .9-.4 .8-1.5-.3-.7-.7-.6-.7 .1-1.5 .9-.3 .3 .8 1.5zM161.3 95l1 .5 1.2-2-.3-3.7-.9-1.8-.8 .3-.2 .8 .6 2.2-1.4 1.5-.2 .7 1 1.5zM222 92l1.4 0 .4-1.4-.4-1.1-1.4-.2-.9 .5-.1 1.5 1 .7zM37 91.3l7.9 .7 7.9-.8 6.5 .5 1.5-.7 1.3-1.9 .5-3.7-.6-1.5-1.2-1.5-3.6-1.2-19.5-.6-4.3 .4-2.9 1.1-1.1 1-.6 1.5 .2 2.2 .8 1.4 2.9 2.1 4.3 1zM143.3 82.4l.2 .7 .4-.7-.4-.4-.2 .4zM208.9 80.9l1.5 0-.6-.3-.9 .3zM75 80.2l.3 0-.1-.8-.8-.1 .6 .9zM144.2 78.7l.1-.9-.8 .1 .7 .8zM141.7 75l1.1 .5 1.2-.5-.5-1.1-1.8-.4-.4-2.3-1.3 0-1.1 .8 1.3 2.2 1.5 .8zM90.8 73.5l1.2 0 .3-.8-.3-.7-1.7-2.1-1.5 .2-.3 1.1 2.3 2.3zM146.4 68.3l1.4 0-.1-.8-1.3-.5-.4 .5 .4 .8zM152.7 67.5l1-.7 0-1.5 .5-1.5-.6-.5-1.4 1-.8 1.7 .1 .8 1.2 .7zM143.5 65.3l.8 0 0-1.4-.8 .4 0 1zM246.5 65.3l2.1 .1 4.3-.8 3.7-1 2.1-1.1 0-9.9-2.9 1-8.6 .2-11.5 1.7-2.2 .7-.9 .9-.4 2.3 .6 1.4 1.4 1.4 2.2 .7 4.3 .4 5.8 2zM185.2 63.8l1 0-.2-.8-.7-.1-.1 .9zM.3 61.6l0 .5 2.9-2.9 2.1-1.2 13.7-1.7 3.8-1.4 4.8-2.5 7.2-1.8 1.5-.9 .9-1.5 .2-1.5-.5-1.5-2.1-2-2.8-.7-2.9 .5-5.1 3.1-2.8 .9-7.2 .2-6.5-.8-2.2 .3-1.9 1.5-3.1 3.8 0 9.6zM77.7 61.6l3.2 .4 4.3-.6 1.4-1.3 .1-2.2-1.3-1.5-1.6-.6-2.9-.2-2.9 .6-1.5 .9-.6 1.5 .7 2.1 1.1 .9zM199.7 59.4l.7 .5 .8-.5-.2-.8-1.3-.3-.5 .3 .5 .8zM202.2 57.1l2.5 .4 1-1.1-1-1.3-.7-.2-1.8 .7 0 1.5zM183.6 54.9l.2 .7 1.5-1.1 2.9-.7 2.1 .4 2.2-.1 1.4 1.2 .7 .1 1.5-1.4 3.6-.3 1.4-2.5-.7-.8-2.2 .4-5-1.5-.2-.3 1.1-2.3-.6-.7-1.7-.7-2.2-.1-.7 .2-1 1.3 .1 1.5 .8 .8 .1 .7-.7 .5-3.6 .7-4.4 0-1.4 .9 1.4 1.4 2.2 .5 1.2 1.2zM43.6 45.2l1.3 .1 .5-.8-.5-1.8-1.4 .2-1.5-.9-.6 .3 .6 1.5 1.6 1.4zM185.4 43.8l2 .3 1.5-.5 1-1.3 0-1.5-2.5-1.2-2.4 .4-.8 1.5 .4 1.4 .8 .9zM41.2 41.5l.1 .6 .2-.6-.2-.3-.1 .3zM100.9 40l3.8 .7 3.6-.6 2.5-1.5 .7-2.3-1.4-1.5-2.4-.7-4.5-.4-2.9 .4-1.4 .9-.6 2.1 .6 1.5 2 1.4zM41.2 31.9l.8 .1 0-.9-.8 .8zM37.6 29.6l.8-.3 .4-1.1 0-.8-1.1-.5-.1 2.7zM233.9 28.9l1.1 .2 1.4-.6 1.2-1.1 .1-.7-1.3-.5-1.8 .5-1.2 1.5 .5 .7zM.3 27.4l0 .3 2.1 .1 3.8-.4 1.7-.7 .6-1.5-.9-3-1.9-3-2-1.5-3.4-1.2 0 10.9zM257.3 27.4l1.4 .2 0-11.3-4.3-1.2-2.8 .4-2.9 3-.5 2.2 1.1 1.5 3.3 3 2.4 1.5 2.3 .7zM155.4 20.7l6.9 .6 5-.3 3.4-1 4.5-2.5 2.2-.6 1.4 .3 5 2.2 2.2-.1 1.8-.8 .7-.8 .3-1.4-2.4-5.2-1.9-6.7 28.1 .1 3.1 .6 2 2.1 1.4 .5 1.1-.4 .7-.7 .1-2.2 16.1-1.5-151.3 0 5.9 .9 16.6 0 8.6-.5 3.9 .3 .9 .8-1.9 4.4 .4 3.7 2.1 3 1.8 1.1 1.4 .2 1.5-.5 .4-.8 .9-5.9 .8-2.5 1.5-1.8 1.4-.7 2.9-.4 5 .5 3.7-1.1 4.3-.4 12.2 .4-8.6 1.9-7.6 4.1-.1 1.5 1 2.9 3.1 4.5 2.8 1.5 4.7 .7zM81.2 14.8l1.2 .4 1.4-.2 1.3-1.7-.6-2.6-1.4-1.4-1.5 .2-1.4 1.9-.1 1.9 1.1 1.5zM2.1 2.9l20.5 .4 6.5-.4-27 0z" fill="#92d2dc"/>
<path d="M2 145.5l12 .6 21.6-.3 10.8 .3 5-.3 3.1-1-.1-.7-2.1-.8-5.2-.5-11.5 .3-17.3-.2-18 .8 0 1.6 1.7 .2zM256.9 144.8l1.8 .4 0-1.4-1.8 .3 0 .7zM65.9 144.1l4.2 .5 2.4-.5 .3-.8-2-.7-2.7 0-2.4 .7 .2 .8zM101.4 144.1l55.1 .2 9.4-.6 2.4-.4 .7-.7-6-1-10.8-.4-46.1 .2-9.3 .4-3.7 .8 1 .7 7.3 .8zM246.3 139.6l.9 .2 1.4-.5 1.4-2.7-.2-2.2-1.9-1.6-1.4 .2-1.4 2.1 .1 3 1.1 1.5zM174.3 137.4l4.5 .6 4.3-.9 2.6-2 1.8-3.7 2.1-1 15.8 .7 25.2 .1 10.1-.7 2.9-.7 1.7-1.3-.2-.8-2.2-1.1-7.9-1.3-8-.3-25.2 .2-9.3 .7-8.7 2.3-14.3 .8-18 .3-9.7 .6-4 .8 0 .7 5.7 1 23.8 .7 2.2 .9 4.8 3.4zM52.8 133.7l11.6-.2 4.5-.6 .1-.7-11.8-.9-5.1 .1-4.7 .8-.2 .7 5.6 .8zM87.8 112.9l2.5 .5 4.3-.3 10.8-2.9 1.8-1.1-.1-.7-1-.7-1.4-.5-5.8 .5-6.5-.3-2.1 .7-2.3 1.8-.9 1.5 0 .7 .7 .8zM137 109.9l3.7 .3 3.6-.5 3.5-1.3 .9-.7 .2-.8-1.8-1.5-1.9-.7-2.4-.4-2.1 .3-2.2 1.1-2 2-.5 1.4 1 .8zM79.4 106.9l.1 .4 .7-.1 .6-1 .1-.8-.7-.7-.8 2.2zM80.1 100.2l.8 .6 .4-.6 .8-2.9-1.9-8.2-1.4-1.6-.3 .8 1.4 3 .6 3.7-.4 5.2zM88.1 97.3l.7 .4 .3-.4 .2-.8-.5-.7-.8 .7 .1 .8zM149.7 95l1 .7 .7-.7-.3-1.5-1.1-1.5-.5 .8 .2 2.2zM161.3 94.3l1 .3 .2-.3 .3-.8-.5-1.1-1.1 .4-.3 .7 .4 .8zM176.6 91.3l.8 .3 .8-.3 1.2-1.5-.2-.7-1.8 .1-.8 .7 0 1.4zM221.8 90.6l.9 .3 .2-.3-.2-.3-.9 .3zM89.7 71.2l.6 .5 .2-.5-.2-.2-.6 .2zM248.6 60.8l2.2 .2 2.2-.7 .9-.9 0-1.5-1-.8-2.1-.5-2.2 0-1.6 .5-.7 .8 .2 1.5 2.1 1.4zM203.1 56.4l1 0-1 0zM184.3 54.2l3.9-1 5.7 .7 5.1-.9 .4-1.1-2.6-1.1-5.7-1.1 2.1-1.8 .6-1.2-1.3-1-2.9-.3-1.1 .6-.6 1.5 2.3 2.2-2 1-6.1 1.2 2.2 2.3zM185.9 43.8l1.5 .1 1.5-.6 .8-1-.2-1.5-2.1-1-2.1 .3-1 1.4 .6 1.5 1 .8zM37.7 28.2l0 .4 0-.8 0 .4zM1.3 24.4l2.2 0 1.1-1.4-.9-2.3-2-.8-1.4 .3 0 3.7 1 .5zM258.7 23l0-2 0 2zM155.8 19.2l8.6 .7 5.1-1.1 3.3-2.5 3.4-3.8 .6-1.4-.5-2.3-2.4-2.2-3-.7-13.7 .8-3.6 .9-2 1.2-1.3 1.5-.9 2.2 0 2.3 .6 1.5 1.5 1.4 4.3 1.5zM81.2 14l1.2 .7 1.7-.7 .4-1.5-.7-1.2-1.4-.6-.8 .4-.9 1.4 .5 1.5zM88.9 2.9l4.2 .3 17.9-.3-22.1 0zM123 2.9l4 .5 13.1-.5-17.1 0zM167.4 2.9l6.4 .4 7.5-.4-13.9 0zM188.3 2.9l26.6 0-26.6 0z" fill="#6ab4d0"/>
<path d="M5.6 145.5l13.4 .5 17.3-.6 10.1 .4 4-.3 2.5-.7-.1-.7-.7-.3-4.3-.7-12.2 .4-14.4-.5-17.3 .7-3.2 .4-.3 .7 5.2 .7zM68.7 144.1l.8 0 .9-.8-2.4 0 .7 .8zM100.6 143.3l12.7 .5 18.7-.7 22.3 .8 9.1-.6 1-.7-5.5-.8-6.7-.1-21.6 .7-21.6-.6-10 .8 1.6 .7zM246.5 138.9l1.4 .1 .7-.5 1-1.9-.2-2-1.5-1.1-1.4 .3-.9 1.3-.1 2.3 1 1.5zM176.8 137.4l4.2-.2 3-1.3 1.7-2.2 0-3-1.9-1.2-5-.4-9.3 .5-16.6 0-11.6 1.1 .2 .7 6.6 .8 19.9 .4 1.5 .6 4.3 3.3 3 .9zM53.3 132.9l8.3 0 .4-.7-9 0 .3 .7zM221.3 130.7l15.1-.3 3.6-.6 1.5-.6 .7-.7-.3-.8-1.2-.6-2.9-.7-10.8-.8-28.8 .3-6.3 1.1-1.6 .7-.4 .8 1.9 .9 6.4 .8 23.1 .5zM79.9 106.2l.3 .3 .2-.3-.2-.8-.3 .8zM80.6 99.5l.3 .5 .8-2.7-.8-1.2-.3 3.4zM79.4 89.8l.1-1-.1 1zM185.1 53.4l4.5-1 1.4 .6 2.2 .2 1-.5 .4-.8-.7-.7-1.4-.4-5.8 .6-2 1.3 .4 .7zM195.6 52.7l2 0 .2-.8-1.7-.7-1.4 .7 .9 .8zM188.8 48.2l1.5 .6 1.5-.2 1.8-1.9-1.1-.9-2.9-.2-1.3 1.1-.1 .8 .6 .7zM185.1 43l.9 .6 2.2-.1 1.2-1.2 .2-.8-.4-.7-1-.7-2.2-.1-1.4 1.1 .5 1.9zM157.9 17.7l5.8 .5 4.3-1 1.5-1 1.5-2.2 .5-1.5-.3-1.4-1.7-1.7-2.9-.6-7.9 .1-3.6 .9-2.2 2-.3 1.5 .2 1.5 1.5 1.7 3.6 1.2zM81.6 13.3l.8 .6 .7-.1 .5-.5-.1-.8-1.1-.6-.8 .6 0 .8z" fill="#5a9cc8"/>
<path d="M9.5 145.5l12.4 .2 14.4-.7 10.1 .6 4.9-.8-.1-.7-4.1-.7-10.8 .5-15.9-.7-15.1 .7-2.1 .2-.4 .7 6.7 .7zM150.3 143.3l4.8 0 3.2-.7-12 0 4 .7zM108.8 142.6l7.3 0-7.3 0zM246.5 138.1l1.4 .3 1.3-1.8-.1-1.5-1.2-1-1.3 .3-.6 .7-.2 1.5 .7 1.5zM175.5 136.6l4 .4 3.6-1.1 1.8-2.2-.2-2.3-2.3-1.4-3.6-.4-10.1 .8-12.2-.5-9.8 .8 .6 .7 6.3 .5 14.4-.2 2.2 .9 2.9 2.8 2.4 1.2zM217.9 129.9l14.9 .2 5-.8 1.4-.8-.5-.8-2.3-.7-9.4-.8-11.5 .4-15.1-.1-4.3 .5-2.1 .7-.1 .8 2 .7 5.2 .6 16.8 .1zM191.8 52.7l1.4 0 .3-.8-1-.5-.7 .2-.5 .3 .5 .8zM189.4 48.2l2.4 0 1.6-1.5-1.6-.9-2.2 0-1.1 .9-.1 .8 1 .7zM185.3 43l1.4 .6 1.5-.3 1-1 .1-.8-1.1-1.2-2.2-.2-1.1 .7-.3 .7 .7 1.5zM159.8 14.8l3.9 0 1.1-.8 0-.7-1.8-.8-3.9 0-1 .8 .2 .7 1.5 .8z" fill="#4b96c8"/>
<path d="M15.9 145.5l16.7-.7-.3-.7-12.6-.7-13.9 .7-.6 .7 10.7 .7zM40 144.8l5.6 .4 4-.4-.2-.7-3.8-.4-5.4 .4-.2 .7zM246.5 137.4l1.4 .4 .7-.8 .3-1.1-1-1.3-1.4 .6-.3 1.4 .3 .8zM174.8 135.9l3.3 .7 3.6-.6 2.2-1.6 .2-2.2-1.8-1.5-3.5-.7-5 .4-2.9 1 1.8 3 2.1 1.5zM154.1 130.7l2.4 .4 3.1-.4-5.5 0zM219.7 129.2l10.2 .4 3.9-.4 1.8-.7-.9-.8-1.2-.2-6.5-.6-11.5 .7-12.9-.4-3.8 .5-.1 .8 5.3 .6 10.8-.3 4.9 .4zM188.7 47.5l.9 .5 1.4 .2 1.5-.7 .6-.8-1.1-.7-1.7-.2-1.4 .7-.2 1zM185.6 43l1.1 .4 1.5-.4 .9-1.5-.9-1-2.2-.2-.9 .5-.3 .7 .8 1.5z" fill="#2f76b8"/>
<path d="M7.6 144.8l10.7 .5 11.1-.5-.3-.7-10.1-.5-10.6 .5-.8 .7zM43.9 144.8l3 0-.5-.7-.8-.1-1 .1-.7 .7zM246.8 136.6l.4 .5 .7-.1 .3-1.1-.3-.5-.7 0-.4 1.2zM176 135.9l2.8 .3 2.9-.7 1.8-1.8-.3-1.5-1.5-1.1-2.9-.6-3.6 .2-2.3 .7-.4 .8 .5 1.5 1.4 1.4 1.6 .8zM189 47.5l2 .4 1.8-1.2-1-.6-1.5-.2-1.4 .8 .1 .8zM185.9 43l.8 .2 1.5-.4 .6-1.3-.4-.7-1.7-.5-1.4 .5-.2 1.5 .8 .7z" fill="#2a70b4"/>
<path d="M10.3 144.8l8 .3 8-.3-.3-.7-7-.3-7.7 .3-1 .7zM175.4 135.1l2.7 .7 2.1-.2 2.2-1.2 .3-1.5-1-1.2-1.5-.6-2.1-.2-2.9 .3-1.4 .8-.3 .9 .8 1.5 1.1 .7zM189.4 47.5l1.6 .2 1.5-1-2.2-.6-1.1 .6 .2 .8zM186.6 43l1.8-.7 .2-.8-.6-.7-1.3-.3-1.4 .7 0 1.1 1.3 .7z" fill="#2167ad"/>
<path d="M14.1 144.8l8.4 0-1-.7-3.2-.1-2.7 .1-1.5 .7zM176.6 135.1l3.6 0 1.3-.7 .4-1.5-.7-.7-1.7-.7-3.6 .1-1.1 .6-.3 .7 .7 1.5 1.4 .7zM190 47.5l1.2 0 1-.8-1.9-.4-.8 .4 .5 .8zM185.5 42.3l1.2 .5 .7-.1 .7-.4 .2-.8-.9-.8-1.4 .1-.7 .7 .2 .8z" fill="#2b3a7a"/>
<path d="M176.3 134.4l1.8 .5 1.4-.1 1.5-1-.1-.9-1.4-.8-2.9 0-1.1 .8 .1 .8 .7 .7zM189.9 46.7l1.1 .5 .8-.5-1.9 0zM185.8 42.3l1.6 .2 .6-1-1.3-.7-1.1 .7 .2 .8z" fill="#1f2152"/>
<path d="M176.8 133.7l1.3 .5 1.7-.5-.2-.8-1.5-.3-1.1 .3-.2 .8zM186.3 42.3l1 0 .4-.8-1-.4-.7 .3 .3 .9z" fill="#1f2152"/>
<path d="M60.4 9.9L63.3 10.3L66.9 8.7L64.8 7.4L61.2 7.8L60.4 9.9M56.8 14.9L59.7 15.3L60.4 13.6L58.3 13.2L56.8 14.9M58.3 17.7L60.4 17.5L60.4 16.7L58.3 16.9L58.3 17.7M56.8 12.0L59.7 12.0L59.7 11.1L57.6 10.9L56.8 12.0M41.7 11.6L45.3 11.1L44.6 10.3L41.7 10.7L41.7 11.6M71.9 14.0L74.8 14.2L74.1 13.4L71.9 13.6L71.9 14.0M69.8 23.0L71.2 22.5L70.5 22.3L69.4 22.6L69.8 23.0M0.0 15.7L1.4 15.2L2.9 15.4L1.4 15.8L0.0 15.7M149.3 39.6L149.6 37.6L151.1 36.7L153.2 36.3L155.0 37.0L156.5 35.5L157.6 35.3L156.8 36.7L157.9 38.0L159.4 40.0L156.8 40.5L154.7 39.6L153.2 39.7L151.8 40.3L150.4 40.3L149.3 39.6M163.1 37.4L163.7 36.6L164.8 35.9L166.6 35.5L167.6 35.8L167.8 37.0L166.4 37.6L165.7 37.8L166.6 38.8L167.4 39.8L167.6 41.3L168.3 40.8L168.3 42.2L168.3 43.5L166.6 43.9L165.7 43.4L164.8 42.9L165.1 41.1L164.5 39.8L163.7 38.8L163.1 37.4M171.4 36.1L172.7 35.8L173.7 36.2L173.4 37.6L172.7 38.3L171.6 38.0L171.4 36.1M182.4 36.2L183.5 35.7L184.9 35.7L186.3 36.0L186.3 36.5L184.9 36.2L183.5 36.1L182.4 36.4L182.4 36.2M204.2 31.7L205.0 31.2L206.5 30.4L207.6 29.3L208.3 28.2L208.5 28.5L207.7 29.9L206.5 31.0L205.0 31.7L204.2 31.7M63.3 35.7L65.5 34.4L67.6 34.0L68.7 35.7L66.9 35.9L63.3 35.7M66.3 39.9L66.5 38.0L67.3 36.5L68.3 36.3L67.5 38.0L67.3 39.5L66.3 39.9M69.1 36.3L70.1 38.8L70.7 37.6L71.9 37.5L71.2 36.4L69.1 36.3M69.4 39.9L71.2 39.5L72.7 39.0L71.9 39.2L69.8 39.6L69.4 39.9M72.1 38.6L74.7 38.4L74.5 37.8L72.7 38.1L72.1 38.6M39.6 20.5L42.4 19.0L44.6 19.4L43.2 20.2L41.0 20.6L39.6 20.5M45.3 23.8L47.5 22.7L50.0 22.5L48.2 23.3L46.0 24.0L45.3 23.8M59.7 32.6L59.4 31.4L58.6 29.9L59.0 30.1L60.1 31.4L60.1 32.5L59.7 32.6M49.3 25.8L51.1 25.2L52.9 25.4L51.1 25.6L49.3 25.8M152.4 74.7L153.2 74.1L154.0 74.3L154.3 75.1L153.6 76.4L152.5 76.4L152.3 75.5L152.4 74.7M150.5 77.0L150.8 78.8L151.4 80.5L151.8 81.5L151.4 81.2L150.6 79.7L150.4 78.0L150.5 77.0M154.0 82.1L154.4 83.4L154.7 85.0L154.9 86.1L154.5 85.4L154.2 84.2L154.0 82.1M163.3 7.8L166.9 7.5L171.2 7.4L174.8 7.8L171.2 8.1L165.5 8.2L163.3 7.8M85.3 116.6L87.9 116.8L87.4 117.5L85.6 117.4L85.3 116.6M17.3 57.6L18.0 57.8L18.1 58.4L17.4 58.7L17.3 57.6M102.2 118.9L103.6 119.0L103.2 119.4L102.2 118.9M8.6 20.1L11.2 19.4L13.0 19.7L11.9 18.6L9.7 17.9L12.2 16.7L16.5 15.8L16.9 15.4L20.1 15.9L23.0 16.3L28.1 16.8L31.7 17.3L33.1 16.8L36.0 16.5L38.1 16.3L40.3 17.0L43.2 17.3L46.8 17.7L50.4 18.2L53.2 17.7L56.8 18.3L59.0 18.3L60.4 17.7L61.2 15.0L63.3 16.5L65.5 17.5L68.3 16.7L70.5 19.0L67.6 19.4L66.9 21.1L64.4 21.9L61.9 23.9L61.5 25.6L63.0 27.2L66.2 28.1L68.3 28.6L70.3 30.7L71.9 31.8L72.7 29.3L74.1 27.7L73.7 26.0L73.4 24.4L73.7 22.7L77.0 23.1L79.1 23.9L80.6 26.0L82.7 24.8L83.1 24.5L84.9 26.8L86.3 28.5L88.5 30.1L89.2 31.4L86.3 32.9L82.7 32.9L80.6 33.8L78.4 35.7L82.7 34.4L83.1 33.8L83.3 34.7L83.1 36.2L85.6 36.7L86.3 36.3L84.2 37.6L82.0 38.4L82.0 37.1L81.3 37.6L79.1 38.2L78.8 39.8L78.4 40.0L76.3 40.9L76.3 42.1L75.2 42.5L74.8 43.8L75.2 45.2L74.1 45.8L72.7 46.6L71.2 48.3L71.1 49.9L71.9 52.2L71.6 53.5L70.6 52.4L69.9 51.2L69.8 49.9L68.7 49.5L67.6 49.2L65.5 49.3L65.1 50.4L64.0 50.1L61.9 49.9L59.6 51.3L59.4 53.2L59.1 55.7L60.4 58.2L61.5 59.3L63.7 58.9L64.4 57.0L66.9 56.6L66.4 59.0L66.0 61.1L68.3 61.2L69.6 61.9L69.3 65.2L70.5 66.9L72.3 66.5L73.7 67.1L74.8 66.5L75.2 65.6L76.3 65.1L77.7 64.4L78.1 65.4L79.1 64.4L80.6 65.5L83.5 65.5L84.9 65.5L85.6 66.9L87.1 67.7L88.5 69.3L91.4 69.7L92.8 71.0L93.5 73.1L94.2 74.3L95.0 75.1L97.8 76.4L100.0 76.7L101.8 77.4L104.2 78.8L104.5 80.5L104.2 81.7L102.9 83.4L101.6 85.0L101.4 88.7L100.7 90.8L100.0 92.5L98.6 93.3L97.1 93.8L95.0 95.4L94.5 97.4L93.5 99.1L92.1 100.7L91.0 102.4L89.9 103.2L88.5 103.2L88.1 104.4L88.1 105.7L84.9 106.5L84.5 108.1L82.7 108.1L83.5 109.4L82.7 111.4L80.9 112.7L82.0 113.9L80.6 115.6L80.2 117.5L79.1 118.1L80.2 119.3L82.4 119.7L80.6 120.1L78.4 119.3L76.6 118.1L75.5 115.6L75.2 113.1L76.3 110.6L76.6 108.1L76.6 104.8L77.7 102.4L78.1 99.1L78.4 96.6L78.8 93.3L79.0 89.6L77.7 88.3L75.5 87.1L74.6 85.4L73.4 82.6L72.3 80.1L71.0 78.4L71.6 76.8L71.9 76.0L71.6 74.7L71.9 73.5L72.8 73.1L73.7 71.4L73.9 68.9L73.4 68.1L72.3 67.3L71.6 68.1L70.1 67.5L67.8 66.0L67.8 65.1L66.5 63.6L63.7 62.7L61.9 61.1L60.1 61.3L57.6 60.3L54.7 58.6L53.6 57.4L53.7 55.7L51.8 53.2L49.6 51.2L48.3 48.3L47.1 48.3L47.3 49.5L48.2 50.8L50.0 54.1L50.7 55.3L50.0 54.9L48.9 53.7L47.5 51.2L46.4 49.1L45.3 47.5L44.2 46.2L42.7 45.7L41.7 43.8L41.4 42.9L40.5 41.7L40.1 40.9L40.3 38.8L40.3 36.3L39.8 34.3L41.0 34.5L40.6 33.4L38.1 32.2L37.4 31.0L36.0 29.3L33.8 27.2L32.0 26.0L30.6 25.8L28.8 25.0L26.3 24.8L24.1 24.2L22.7 24.8L21.6 25.2L20.5 25.4L19.1 26.6L17.3 27.2L15.5 28.1L13.7 28.5L11.5 29.1L13.7 27.7L15.8 26.0L13.3 25.9L13.0 24.8L10.8 24.2L11.2 22.3L13.7 21.1L10.8 21.1L8.6 20.1M77.0 9.9L80.6 11.4L87.8 12.0L89.9 14.9L91.4 17.3L90.6 19.8L92.8 21.9L95.0 23.9L97.8 24.9L99.3 23.9L100.7 20.6L102.9 20.2L106.5 18.2L111.5 16.5L113.7 14.9L115.1 12.4L116.5 10.7L115.8 8.3L118.7 7.0L111.5 5.8L104.3 5.4L93.5 6.2L86.3 6.6L82.7 7.4L79.1 8.7L77.0 9.9M84.9 19.4L83.5 21.5L82.4 22.7L80.6 22.3L77.7 21.5L75.5 21.1L73.4 21.1L77.0 19.0L77.7 17.7L74.1 16.9L71.9 16.5L68.3 16.3L65.5 15.7L69.1 13.6L73.4 14.4L75.5 14.4L78.4 15.7L81.3 16.9L84.2 18.6L84.9 19.4M44.6 15.7L45.3 14.0L50.4 14.0L56.1 14.4L56.8 16.5L54.0 17.3L46.8 17.3L44.6 15.7M39.6 14.9L40.6 12.8L44.6 13.2L44.6 14.9L39.6 15.3L39.6 14.9M71.9 10.7L77.0 9.1L82.7 7.4L84.9 6.2L77.7 5.8L64.8 7.0L63.3 9.1L66.2 10.7L71.9 10.7M71.9 12.8L64.8 12.8L62.6 11.6L68.3 10.7L71.9 11.6L71.9 12.8M46.0 12.4L54.0 12.0L54.0 11.1L48.9 11.1L45.3 11.6L46.0 12.4M63.3 14.9L61.2 14.4L61.2 13.2L64.0 13.2L63.3 14.9M67.6 21.9L71.6 21.6L69.8 20.2L67.3 20.1L67.6 21.9M86.7 35.0L89.6 31.7L89.6 33.4L91.4 34.3L91.4 35.7L89.2 35.0L86.7 35.0M0.0 17.4L4.3 19.0L7.4 19.7L6.5 20.3L5.0 21.2L2.9 20.4L0.0 20.6M259.0 20.6L256.8 20.8L257.9 21.1L258.3 22.7L256.8 22.7L254.7 23.3L253.6 23.9L251.8 24.8L249.3 24.4L247.8 24.9L247.0 26.4L246.4 28.1L244.6 29.3L243.5 30.5L242.2 32.2L241.7 28.1L242.8 26.4L244.6 23.9L243.2 23.1L241.0 23.5L241.0 25.3L238.9 25.6L236.3 25.3L233.8 25.3L230.9 26.0L228.4 27.7L226.8 29.1L228.4 29.7L231.3 30.5L230.6 31.8L230.6 34.3L228.8 36.3L227.0 38.1L225.2 39.0L223.5 39.4L222.8 40.5L221.8 42.5L222.7 44.2L222.5 45.2L221.2 45.8L220.4 45.4L220.5 43.3L219.6 42.9L218.9 41.3L217.3 41.7L216.7 42.1L216.6 40.6L214.4 41.9L214.4 42.5L215.1 43.6L216.6 43.2L217.6 43.8L216.2 44.4L215.3 45.4L216.2 46.2L216.6 47.9L217.1 48.9L216.2 51.2L215.5 52.8L214.8 54.1L213.3 55.4L211.2 56.0L209.4 56.6L208.5 56.6L207.2 56.6L206.1 57.4L205.5 58.8L206.5 60.3L207.8 61.5L208.1 63.2L207.9 64.8L206.1 66.5L205.0 67.2L204.7 65.7L203.6 65.2L203.2 64.4L202.2 63.9L201.4 63.3L200.9 66.0L201.8 67.7L203.0 69.2L204.0 70.6L204.5 73.1L204.0 73.2L201.8 71.2L200.2 67.7L200.4 66.5L200.4 63.2L199.6 60.7L197.3 61.1L197.3 59.4L195.9 57.2L195.5 55.9L194.6 55.7L193.5 56.1L192.1 56.6L190.7 58.2L188.7 60.3L187.2 61.5L187.3 63.2L186.9 65.8L185.8 66.9L185.3 67.6L184.2 66.0L183.1 63.2L182.4 61.1L181.9 58.6L181.7 56.6L180.2 57.1L179.1 55.9L179.9 55.6L178.8 54.9L177.3 53.3L173.7 53.5L170.9 53.1L170.5 52.0L168.7 52.4L166.6 51.3L165.5 49.4L164.0 49.5L164.4 50.8L165.5 52.4L166.6 52.8L166.6 54.1L168.3 54.4L169.8 53.8L170.1 52.6L171.6 54.7L172.5 55.8L171.6 57.4L170.5 58.8L169.1 60.3L166.9 61.4L164.4 62.7L161.9 63.7L160.7 63.8L160.3 61.9L159.0 59.0L157.6 56.1L156.1 53.2L154.7 51.2L154.5 49.9L154.0 51.2L152.9 49.5L153.6 51.6L155.0 54.7L156.0 56.1L156.5 59.0L157.9 61.5L160.7 64.6L161.2 65.6L164.0 65.1L166.3 64.6L166.3 65.6L164.4 69.8L162.6 72.4L160.4 74.3L159.0 76.0L157.7 78.4L157.8 80.9L158.6 83.4L158.6 86.7L156.1 88.7L154.5 90.8L154.9 92.5L155.0 94.1L153.1 95.8L152.9 97.8L151.1 99.9L149.3 101.5L147.8 102.4L145.7 102.4L143.9 103.0L142.8 102.5L142.7 101.1L141.7 98.7L140.4 96.6L139.9 92.9L138.0 88.3L138.1 85.4L139.0 81.7L138.3 79.3L137.8 77.2L136.0 75.1L136.3 73.5L136.3 71.8L135.6 70.6L133.8 70.8L132.7 69.2L130.9 69.1L128.8 70.2L126.6 70.0L124.1 70.7L121.6 68.7L120.1 66.9L118.7 65.2L117.4 64.0L116.9 62.2L118.0 59.4L117.3 57.0L118.0 54.9L120.1 51.6L122.3 50.4L122.7 47.9L124.8 46.2L125.5 44.7L128.1 45.2L129.5 44.7L133.1 43.9L136.3 43.5L137.4 43.8L136.7 45.8L137.4 46.9L140.7 48.3L143.2 49.1L143.9 47.9L147.5 48.0L151.1 48.5L152.7 48.5L154.1 48.5L154.7 47.1L155.4 45.4L155.4 44.2L152.9 44.5L151.1 44.4L149.3 43.8L148.6 42.9L148.6 41.3L148.2 40.6L146.0 41.0L146.8 42.8L146.0 42.9L145.7 44.2L144.6 42.9L143.5 41.3L143.5 39.6L142.1 38.8L140.3 37.6L139.4 36.7L138.3 36.9L139.2 38.4L141.0 40.0L142.8 41.3L141.7 42.1L141.0 42.9L140.8 41.3L138.5 40.0L137.1 38.8L136.0 37.7L134.9 38.1L133.1 38.6L131.7 38.6L131.7 39.6L129.9 40.9L129.1 41.7L129.5 42.4L128.1 43.9L125.5 44.6L125.2 44.2L123.2 43.8L122.7 42.1L123.2 40.5L122.8 38.8L123.7 38.2L126.6 38.4L128.4 38.4L128.6 36.3L127.7 35.3L126.3 34.3L128.1 34.2L128.8 33.4L130.6 33.0L130.9 32.2L132.4 31.6L133.1 30.5L134.5 30.3L135.6 30.1L135.3 28.5L135.6 27.1L136.7 26.8L137.1 28.1L137.4 29.7L139.6 29.7L143.5 29.4L144.6 28.5L144.6 27.2L145.7 26.4L146.8 25.3L149.6 25.2L151.1 24.8L149.6 24.4L146.0 24.8L145.0 24.4L145.0 23.1L147.5 20.6L145.7 20.0L144.6 21.5L142.1 23.9L142.5 25.6L141.0 27.7L139.6 28.6L138.5 28.1L137.8 26.4L136.7 25.6L135.3 26.4L133.8 26.4L133.1 25.6L133.1 23.1L136.7 21.9L138.1 20.6L138.9 19.0L141.0 17.3L143.9 16.5L147.5 15.7L151.1 16.5L154.7 17.2L159.0 18.6L156.8 19.5L154.0 19.8L156.1 21.5L158.3 21.1L159.0 19.6L161.2 19.4L161.9 17.7L165.5 18.4L169.1 18.0L172.7 17.5L177.7 17.7L178.4 16.5L179.9 14.0L183.5 14.4L187.1 13.6L187.8 14.4L191.4 13.2L192.8 12.2L197.8 11.6L201.4 11.1L204.3 10.2L205.0 10.3L210.1 11.6L210.8 13.5L215.8 14.0L219.4 13.6L221.6 14.4L223.0 15.7L226.6 15.3L230.2 14.4L233.8 14.6L237.4 15.3L241.0 15.7L244.6 16.1L248.2 16.8L251.8 16.5L256.1 16.7L259.0 17.3M125.5 33.0L130.6 32.2L130.7 30.8L129.5 30.1L128.4 28.9L128.1 27.2L127.0 25.9L125.9 25.9L125.2 27.2L125.5 28.5L127.3 29.3L127.3 30.2L126.3 30.3L125.9 31.6L127.3 31.9L125.5 33.0M125.2 31.4L125.2 29.7L124.1 28.6L122.3 29.7L122.3 31.4L123.7 31.8L125.2 31.4M113.7 21.5L112.2 20.2L113.7 19.5L118.0 19.4L119.8 20.6L118.7 21.3L115.8 22.0L113.7 21.5M137.4 9.5L141.0 8.3L148.9 8.3L145.3 10.3L140.3 10.7L137.4 9.5M166.9 15.3L169.8 13.6L171.9 12.0L178.4 10.9L175.5 12.4L170.5 14.9L169.1 15.9L166.9 15.3M198.6 9.5L201.4 8.7L204.3 9.1L201.4 7.4L198.6 8.3L198.6 9.5M228.1 13.2L231.7 13.6L236.7 12.4L233.8 11.6L230.2 11.6L228.1 13.2M223.7 46.2L224.8 45.0L227.0 45.0L227.7 43.6L229.1 43.0L230.2 41.3L230.2 40.1L231.3 40.2L231.7 42.1L230.9 42.9L230.7 44.6L230.1 45.4L229.1 45.7L227.9 45.8L226.6 46.6L224.8 46.2L223.7 46.2M223.0 46.6L224.1 46.8L224.1 48.3L223.4 48.7L222.9 47.5L223.0 46.6M230.2 39.6L231.3 36.9L234.2 38.6L232.7 39.6L230.9 40.0L230.2 39.6M231.7 36.3L232.7 35.9L232.4 33.8L233.5 33.8L232.4 29.5L232.0 30.1L231.7 32.2L231.5 34.7L231.7 36.3M216.0 55.7L216.6 53.4L217.3 53.7L216.4 56.2L216.0 55.7M207.6 58.4L209.0 57.8L209.4 58.1L208.3 59.3L207.6 58.4M215.8 62.3L216.2 59.0L217.4 59.0L217.3 61.1L218.7 63.6L217.3 63.0L216.2 62.7L215.8 62.3M217.3 68.5L218.4 67.7L219.8 66.5L220.5 68.5L219.8 69.6L218.7 68.9L217.3 68.5M207.9 73.1L208.6 75.5L209.4 76.8L211.9 77.5L213.3 76.4L213.0 74.3L214.4 73.5L215.1 70.2L213.7 68.5L213.0 68.9L212.2 70.2L211.2 71.0L209.4 72.6L208.3 72.6L207.9 73.1M198.2 69.8L199.6 70.0L201.8 72.6L203.6 74.3L204.7 75.5L205.8 76.9L205.8 79.1L204.7 79.1L202.9 77.6L201.8 75.1L200.4 72.8L198.6 71.0L198.2 69.8M205.4 79.9L207.2 79.4L209.4 79.7L211.9 80.7L211.9 81.5L208.6 81.1L205.8 80.3L205.4 79.9M215.5 78.8L215.1 76.8L215.5 74.3L215.8 73.6L218.0 73.5L219.4 73.1L218.0 74.0L216.6 73.9L216.9 75.1L218.4 75.1L216.9 76.0L217.6 78.0L216.6 78.4L216.2 76.8L216.2 78.8L215.5 78.8M223.7 75.5L225.9 75.0L227.0 77.0L228.8 75.8L230.9 76.4L233.8 78.0L234.9 79.3L236.0 80.9L237.4 82.8L235.3 82.6L233.8 80.9L232.7 81.7L230.9 81.9L229.5 80.9L228.8 81.2L228.6 78.4L225.9 77.4L224.5 76.6L223.7 75.5M211.2 92.5L211.5 95.8L212.2 98.7L212.7 102.0L212.2 102.6L214.3 103.2L216.6 102.2L218.7 101.5L220.2 101.0L222.3 100.5L224.1 100.3L225.9 101.4L227.2 103.0L228.4 101.5L228.6 103.7L230.2 105.3L232.7 106.3L234.8 106.6L236.0 105.5L237.4 105.2L238.1 102.4L239.6 99.9L239.9 97.4L239.6 94.9L238.1 93.7L237.1 92.7L234.8 90.0L234.1 87.5L232.7 85.9L232.0 83.1L231.4 85.0L231.3 87.9L230.2 88.9L228.4 87.5L227.0 86.7L227.9 84.4L224.8 83.8L223.7 84.4L222.7 86.5L221.2 85.9L219.8 86.3L218.4 87.9L217.4 89.2L216.6 90.5L214.8 91.1L213.3 91.4L211.9 92.3L211.2 92.5M233.8 108.0L236.2 108.1L236.0 109.8L234.9 110.3L234.0 109.1L233.8 108.0M253.7 102.8L255.0 104.4L255.8 104.8L257.9 105.4L256.8 106.7L256.1 108.4L255.3 108.4L255.0 106.9L254.5 106.7L255.0 105.7L253.7 102.8M253.7 107.7L254.9 108.6L254.0 110.2L252.5 111.4L251.1 112.8L249.3 112.3L250.4 110.6L252.2 109.8L253.2 108.6L253.7 107.7M165.0 84.2L165.8 87.1L165.1 88.3L164.0 92.5L163.4 94.9L161.9 95.4L160.8 93.7L160.7 92.0L161.4 89.2L161.2 87.9L163.0 87.1L163.7 86.3L165.0 84.2M186.9 68.5L187.1 66.2L188.1 67.3L188.4 68.9L187.4 69.3L186.9 68.5M68.3 56.3L70.5 55.1L71.9 55.3L74.1 56.6L76.1 57.6L73.7 58.0L73.4 57.2L71.2 56.3L69.8 56.6L68.3 56.3M75.9 59.2L77.1 57.9L79.1 58.0L80.3 58.9L78.4 59.4L76.0 59.2M0.0 143.8L14.4 144.1L23.0 143.9L24.1 142.0L22.3 140.8L18.0 139.7L12.2 138.9L15.8 138.5L21.6 138.1L25.2 137.3L28.8 136.6L32.4 135.9L36.0 135.6L39.6 135.1L43.2 135.2L46.8 135.4L50.4 135.8L54.0 135.6L57.6 135.0L61.2 134.4L64.8 134.4L68.3 134.6L71.9 134.7L74.8 134.4L77.7 133.3L80.6 130.4L82.0 128.8L84.2 127.5L88.5 126.5L86.3 127.5L84.9 128.8L84.2 130.9L84.9 132.5L84.2 134.6L82.7 136.6L84.2 137.9L89.9 139.4L97.1 139.2L102.2 138.3L105.8 137.0L110.1 136.1L115.1 134.6L118.7 133.7L122.3 132.9L125.9 132.7L129.5 132.5L133.1 132.3L136.7 132.1L140.3 131.9L143.9 131.9L147.5 132.1L151.1 131.7L154.7 131.3L158.3 131.1L161.9 130.2L165.5 129.2L169.1 128.8L172.7 129.6L176.3 130.0L179.9 130.4L181.3 132.1L183.5 131.7L187.1 130.0L190.7 129.4L194.2 129.2L197.8 128.8L201.4 128.8L205.0 129.0L208.6 128.8L212.2 129.4L215.8 129.4L219.4 129.2L223.0 129.0L226.6 128.8L230.2 129.4L233.8 130.0L237.4 130.9L241.0 131.3L244.6 132.1L248.2 132.9L251.8 133.7L251.1 135.0L247.5 136.6L246.8 137.9L249.6 138.7L251.8 140.3L254.0 142.4L259.0 143.8" fill="none" stroke="#000" stroke-width="0.85" stroke-linejoin="round"/>
</g>
<path d="M0.00 0V-5M0.00 148.6V153.6M43.17 0V-5M43.17 148.6V153.6M86.33 0V-5M86.33 148.6V153.6M129.50 0V-5M129.50 148.6V153.6M172.67 0V-5M172.67 148.6V153.6M215.83 0V-5M215.83 148.6V153.6M259.00 0V-5M259.00 148.6V153.6M0 148.60H-5M259.0 148.60H264.0M0 123.83H-5M259.0 123.83H264.0M0 99.07H-5M259.0 99.07H264.0M0 74.30H-5M259.0 74.30H264.0M0 49.53H-5M259.0 49.53H264.0M0 24.77H-5M259.0 24.77H264.0M0 0.00H-5M259.0 0.00H264.0" stroke="#222" stroke-width="1.1" fill="none"/>
<path d="M7.19 0V-2.6M7.19 148.6V151.2M14.39 0V-2.6M14.39 148.6V151.2M21.58 0V-2.6M21.58 148.6V151.2M28.78 0V-2.6M28.78 148.6V151.2M35.97 0V-2.6M35.97 148.6V151.2M50.36 0V-2.6M50.36 148.6V151.2M57.56 0V-2.6M57.56 148.6V151.2M64.75 0V-2.6M64.75 148.6V151.2M71.94 0V-2.6M71.94 148.6V151.2M79.14 0V-2.6M79.14 148.6V151.2M93.53 0V-2.6M93.53 148.6V151.2M100.72 0V-2.6M100.72 148.6V151.2M107.92 0V-2.6M107.92 148.6V151.2M115.11 0V-2.6M115.11 148.6V151.2M122.31 0V-2.6M122.31 148.6V151.2M136.69 0V-2.6M136.69 148.6V151.2M143.89 0V-2.6M143.89 148.6V151.2M151.08 0V-2.6M151.08 148.6V151.2M158.28 0V-2.6M158.28 148.6V151.2M165.47 0V-2.6M165.47 148.6V151.2M179.86 0V-2.6M179.86 148.6V151.2M187.06 0V-2.6M187.06 148.6V151.2M194.25 0V-2.6M194.25 148.6V151.2M201.44 0V-2.6M201.44 148.6V151.2M208.64 0V-2.6M208.64 148.6V151.2M223.03 0V-2.6M223.03 148.6V151.2M230.22 0V-2.6M230.22 148.6V151.2M237.42 0V-2.6M237.42 148.6V151.2M244.61 0V-2.6M244.61 148.6V151.2M251.81 0V-2.6M251.81 148.6V151.2M0 140.34H-2.6M259.0 140.34H261.6M0 132.09H-2.6M259.0 132.09H261.6M0 115.58H-2.6M259.0 115.58H261.6M0 107.32H-2.6M259.0 107.32H261.6M0 90.81H-2.6M259.0 90.81H261.6M0 82.56H-2.6M259.0 82.56H261.6M0 66.04H-2.6M259.0 66.04H261.6M0 57.79H-2.6M259.0 57.79H261.6M0 41.28H-2.6M259.0 41.28H261.6M0 33.02H-2.6M259.0 33.02H261.6M0 16.51H-2.6M259.0 16.51H261.6M0 8.26H-2.6M259.0 8.26H261.6" stroke="#333" stroke-width="0.85" fill="none"/>
<rect x="0" y="0" width="259.0" height="148.6" fill="none" stroke="#222" stroke-width="1.15"/>
<g font-size="11.5" fill="#000"><text transform="translate(-11.40,4.20) scale(0.835,1)" text-anchor="end">90N</text><text transform="translate(-11.40,28.97) scale(0.835,1)" text-anchor="end">60N</text><text transform="translate(-11.40,53.73) scale(0.835,1)" text-anchor="end">30N</text><text transform="translate(-11.40,78.50) scale(0.835,1)" text-anchor="end">0</text><text transform="translate(-11.40,103.27) scale(0.835,1)" text-anchor="end">30S</text><text transform="translate(-11.40,128.03) scale(0.835,1)" text-anchor="end">60S</text><text transform="translate(-11.40,152.80) scale(0.835,1)" text-anchor="end">90S</text><text transform="translate(0.00,168.60) scale(0.835,1)" text-anchor="middle">180</text><text transform="translate(43.17,168.60) scale(0.835,1)" text-anchor="middle">120W</text><text transform="translate(86.33,168.60) scale(0.835,1)" text-anchor="middle">60W</text><text transform="translate(129.50,168.60) scale(0.835,1)" text-anchor="middle">0</text><text transform="translate(172.67,168.60) scale(0.835,1)" text-anchor="middle">60E</text><text transform="translate(215.83,168.60) scale(0.835,1)" text-anchor="middle">120E</text><text transform="translate(259.00,168.60) scale(0.835,1)" text-anchor="middle">180</text></g>
</g>
<text x="2.3" y="14.0" font-size="14" fill="#000">(a)</text>
<g transform="translate(50.45,214.42)">
<clipPath id="clipb"><rect x="0" y="0" width="259.0" height="148.5"/></clipPath>
<g clip-path="url(#clipb)">
<path d="M211.8 145.4l19.6 .1 6.3-.8-15.7-.6-19.2 .6 9 .7zM4 142.5l21.5-1.1 2.9-.6 4.3-1.9 17.3 .2 5-.3 1.8-.8-10.4-.9-15.9 .7-25.2-.5-5-1.3 0 6.4 3.7 .1zM254.2 141.7l4.5 .6 0-6.5-3.6-.5-1.4 .2-1.7 1-.5 .8 0 1.5 1.2 2.2 1.5 .7zM81.4 138.8l9.6 0 8.6-1.5 21.6-.2 12.3-1.6 1.9-.4 .4-.8-7.5-2.2-1.5-.8-.1-.7 2.4-.8 33.2-3.5 2.9-1.6 1.1-1.5 .4-1.5-.6-1.5-.8-.7-2.8-1.5-2.4-.7-13.7-.4-14.4-1.5-7.2-1.3-12.9 2.5-13.7 1.4-16.6 3.9-2.1 .9-1.4 1.1-.9 3 .7 2.2 4.6 3 2.5 2.2 3.4 1.5-9.6 1.2-1.2 .3-.4 .7 4.2 .8zM191.3 138l6.2 .8 38.9-.4 5-.9 .9-1 .2-1.4-.3-.8-1.3-.7-5.2-.7-10.8 .3-28.8-.6-3.6 .6-2 1.1-.7 2.2 .3 .8 1.2 .7zM163.3 136.5l2.6 0 1.4-.7-2.9-.7-3.4 .7 2.3 .7zM5 132.8l1.8 .4 12.9 .1 19.2-3.4 2.8-.8 2.1-1.5 .4-1.5-.2-2.2-.7-2.2-1.3-2.2-1.4-1.2-2.2-.6-12.2 .7-11.5 2.3-10.8 4-2 1.4-.8 1.5-.1 2.3 .5 .7 3.5 2.2zM180.3 122.4l2.1 .3 2.9-.4 2.3-1.4 .3-1.4-1.2-1.3-1.4-.5-3.4 .3-1.5 .7-1.5 1.5 .2 1.5 1.2 .7zM76.1 110.5l.5 .5 1.1-.5 1.5-2.9-.6-2.2 1-8.2-.6-6-3.1-5.2-2.1-5.2 0-2.2 .6-1.7 2.9 1.7 .7 2 2.8 1.7 0 .8-1.2 1.5 .6 1.5 2.9 2.7 2.8 .4 .4 .6 .8 4.4 1.2 1.5 0 .7-3.8-.1-.9 .9 .1 2.2 2.1 1.5-.6 1.4-.7 .3-1.4-.6-.7 .3-.1 .8 2.2 2.3 2.2 0 1.2-1.5 .1-1.5-1.4-2.2 .8-.1 1.9 .8-.3 1.5 .5 .5 .8-.2 1.7-3.3-.4-2.2 3.7 .6 1.5-.6 1.4-1.5 1.8-4.5-.4-.7-1.4-.9-2.2-.4-1.5-1.7 .1-.3 2.1-.5 0-2.3 .8-.4 1.4 1.1 .7 .1 .2-1.4-.4-1.5-.5-1-2.2-.2-1.2-1-.2-1.5-1.8-2.2-.6-2.2 .8-1.5-.6-1.1-1.4 0-.5 1.8-1.8 2.3 .6 1.4-.1 .8-.4 .3-.7-.6-.2-2.7-1-1.5 0-.7 1.3-1.5 .6-1.5-2.1-2.2-.7 .1-1.5 1.8-.7 .2-2.9-4.2-2.1 0-2.2-1-1.1 .1-.5 .8-.7-1.5-2.7-1.9-9-3.3-3.3-2.5-.7 1.9-2.1 1-1.9-.4-.3-1.5 .7-.9 1.5 0 1.4-1.4 1.4 .5 .8-1.3 1.4-.8 7.9-1 12.3-3.3 7.1-1.3 2.4-.9 2-1.4 1.6-3.1 .5-8.1 .9-2.3 2-1.2 13-4.8 1.4-1.2 .7-1.2 .5-3.4-.5-4.5-.7-1-2.9-1.6-1-1.1-.7-4.5-1.9-1.3-2.1-.5-8 1.3-6.4-.9-2.2 .2-1.4 .9-1 1.8 .5 3.7-.5 2.3-1.2 1-1.4 .4-2.4-.7-1.7-2.2-.2-8.2 .6-2.2-41 0-12.2 2.5-9.4 .5-7.2 1.7-3 1.2-1.1 1.5 .3 1.5 2.7 3.7 2.6 2.4 2.1 .9 5.1 .3 2.8 .9 10.1 6.5 5.8 1 .7 1 1.5-1.1 1.4 .6 .3 .9-.4 3.7 .6 3-1.1 2.9 .3 3 .3 .3 .8-.3 .6-2.1 .9 .6-1.2 2.2 1.1 2.2 .7 .3 3.6-1.1 1.4 1.7 2.2-.9 2.3 1.6-.2 1.2-2.1-1.3-1.5 .3-1.4 1.2 1 .8-.1 .7-1.6 1-.7 1-1.5 .4-1.4-.4-1.5-1.2-2.1-4.1-.7-.3-1 .7-.9 2.2-.1 4.4-.5 2.3-4.6 5.2-1.6 3.2-.7 4.2 .5 3.7 .9 1.6 1.5 1.1 2.1 .5 2.9-.1 3.3-1.6 3.2-5.2 2.2-1.6 6.4 0 5.8-1.4 2.9 .7 1.6 2.3 .6 4.4-.5 3-1.9 3-.1 .7 3.2 2.3 1.1 1.4 .4 2.3 .1 6.6 .8 2.3 1.9 1.5 2.1 .7 3.6 .3 .8 1 .6 6.9-.6 5.2 .9 1.4zM74.4 75.4l-.2-2.7 1-.4 .5 1.1-.5 2-.8 0zM76.6 70.1l0-.8 .7-.1 .7 .5-.7 .5-.7-.1zM79.5 79.4l-.2-.8 .9-.6 .2 1.4-.9 0zM83.1 76.4l-.7-.7 .4-.8 1.7-1 .4 1-.4 1.4-1.4 .1zM88.1 81.7l-.3-.9 1 0-.7 .9zM89.5 91.6l-.5-.4 .7-1.4 .3-2.3 1-.7 1.4 .1 .7 .6-.2 .8-1.7 1.5-.9 1.6-.8 .2zM225.6 100.9l.7 .3 .4-1-1.1-.4-.6 .4 .6 .7zM229.8 100.9l.1 .5 .4-1.2-.1-1.5 1.1-2.3-2.5-3.7 1.2-1.5-1.2-.7-1.8 0-.5 .7-.1 1.5 1.1 1.5 .5 2.2 1.6 2.3 .2 2.2zM139 97.9l.9 .5 .8-.3 1.9-2.4 .2-3 1.5-2.5 1.4 .8 .7 0 .7-1.2-1.4-1.3-2.2-.2-1-.8 .1-.7 1.1-.8-.1-.7-1.5-.1-.7-.5-.5-2.4 .4-.7 2.2-1.1 1.5 1.1 5 1.5 .9 .7-.7 1.5 .5 .3 2.9 .1 1.5-1.3 1.4 0 1.7-.6 .5-.7-.8-3 1-3.7-1-.2-.7 .6-.8 2.6-.6 .3-1.5-1.5-2.1 .2-1.5-1.4-.7-2.3-.7-.5-1.5 0-.2-.8 2.2-2.9-.3-1.5 .8-2.3-.3-.9-.7-.6-2.2 .5-3.6 3.8-.5-.5-.2-3.5-3.6-.2-1.4 1.3-.7-1.2-.4-2.4 1.8-1.2 .7-.2 3.6 2 2.2-2.8 2.9-.2 1.4-2.2 3.6-.9 1.4 .2 1.5-1.7 .3 1.8-1.1 .8-.1 1.5 1.6 1.1 2.9 0 .4-3.4 1-.4 .6 1.2 .1 2.1 1.5-.2 1.4-2 1.2 2.3 1.7-.5 1.4 .2 2.8-2.7 0-.7-1.7-.8 .4-.8 2.1-.8 .5-.6-.6-1.5 1.6-.4 1.4 1.5 1.5-1.1-.8-.9-1.4-.3 .1-2.5 2.8 .3 2.1-1.6 1.5-.2 2.8 2.3 4.4 .8 1.4-.8-.6-.8-1.8-.7-.3-.8 .5-2.2-2.1-.8-1.3-2.2-.1-1.4 .5-.8 3-.9 2.2 .4 1.6 1.3-1.1 2.9 .3 .8 2.8 .6 1.1 .9 .3 1.4-1.2 1.5 .5 .8 1.5 .5 2.1-.3 2.2 .3 1.4-1.9 3.1 .6 .1 .8-1.7 1.8-2.2 .5-2.9 1.9-1.3 1.7 .6 .6 2.2-1.1 .7 .8 1.4 4.1 1.6-2.2 .3-1.5 1.7-1 3.6 .7 .6 .3-.2 .8 .3 .3 .8 .1 8.6-2.1 5.8-2.7 2.1-.5 2.9 .6 5.8 3.4 3.6 .2 4.3-.6 3.6-1.2 7.2-3.9 2.1-.3 2.9 .3 0-16.8-4.3-1-10.1-.2-4.3-1.3-2-1.8-3.8-4.9-2.5-1.8-1.9-5.9-1.3-1.2-1.5-.6-5.7-.4-7.2 .7-2.9 1.1-4.3 3.6-1.5 .5-1.4-.8-2.8-3.6-2.2-.9-2.2 .5-4.6 2.6-2.6 .6-3.6-.2-5-1.4-2.2 .2-6.5 3.5-2.1 .6-2.2-.1-5.7-2-8.7 2.1-2.9-.8-2.2-1.8-1.7-2.2-3.3-5.9-1.4-1.6-1.4-.6-1.5 .4-1.4 1.3-1 1.9 .1 2.3 1 3.7 0 2.2-1.2 2.2-2 1.5 1.9 .8-1 .8-2.1 .4-1.5-1.4-5.7-.7-1.5 .3-1.9 1.3-1.7 3-.9 7.4-.7 3-1.3 2.2-3.4 4.5 0 2.2 3 4.4-.2 3 .6 .6 2.2-1.2 .7 0 2.3 3.6-1.9 2.2-.3 2.2-1.5 1.1-.7-.2-.4-.9 .5-2.2-1.6-.6-.7 1.3 .3 1.5-.3 1-7.4 2.7-1.6 1.5-.4 1.5 .9 1.5 2 1 8.7 .7 2.8 1.2 1.1 1.6 5.1 12.6 1.8 1.3 5 1.9 4.1 6.4zM139.2 76.7l-.7-1 1.4-.2 .3 .9-1 .3zM140.7 73.4l0-.9 1.4-.3 0 1.6-1.4-.4zM137.1 49.9l-1.2-1-.2-1.5 1.4-.1 1.5 .9 .3 .7-.4 1.2-1.4-.2zM140.7 58.1l-.2-.3 .9-.4 .8 .4-1.5 .3zM199 30l-.8-.5-.5-1.4 .4-2.2 1.6-1.3 1.4-.1 1.1 1.4-.2 2.2-1 1.5-2 .4zM224.2 31.1l-1.5-.5-.6-1 .7-3 2.8-2.5 2.2-.6 1.4 .2 .8 1.5-1 3.7-2 1.7-2.8 .5zM122.7 49.8l0-1 .7-.6 1 0 .4 .7-.7 1.3-.7 .1-.7-.5zM124.8 70.2l-.5-1.2 .5-.7 1.9-.1-.4 1.6-1.5 .4zM134.2 71.4l-2.7-1.7 1.1-1.5-.5-.7-1.5-.4-1.5 .8-2.1 .1-.1-1.3 1.5-.7 2.2 .6 1.4-1 .7 .2 .9 1.7 1.3 .5 3.5-.5 2.3-1.2 .2 1.2-1.4 .7-.3 2.9-5 .3zM137.1 75.2l-1.1-1 .3-.4 2.1 1.1-1.3 .3zM125.5 63.8l-1.3-.8-.1-.7 .7-.9 1.5 .4 .6 1.2-1.4 .8zM129.9 59l-.9-1.2-.2-2.2 1.1-.5 .7 .5 0 2.2-.7 1.2zM132.7 64.2l-2.1-2.1 0-1.6 3.5 1.8 .7 .7-.6 .8-1.5 .4zM126.3 54.9l-.2-.8 .7-.7 .9 .3 .3 1.2-.3 .3-.7 .1-.7-.4zM130.6 50.3l-.6-.6 .6-.9 1.1 .9-1.1 .6zM127 48.5l-1.4-1.1 2.1-.4 2.9 .4-2.9 1.2-.7-.1zM127.7 50.9l-.4-.5 .4-.7 1 .7-1 .5zM128.4 45.2l2.5 0-2.5 0zM145.3 97.2l.4 .7 1.1-.7-.1-1.5-1-1-1 .3-.3 .7 .9 1.5zM232.6 94.2l.9 .7 1.8-.7-1.1-1.7-.7-.2-.9 1.9zM83.5 92.7l1 0-.7-.3-.3 .3zM211.2 92.7l.7 0-.7 0zM233.1 88.3l1.1 .4 .7-.4 .1-2 10.8-5.5 1.8-1.4 .6-1.5-1.3-1.5-1.9-.8-13.6-2-3.6-1.5-1.1-1.6 0-1.5 2.3-3.7 .4-1.5-.2-1.5-1.4-.7-1.7 .7-2.7 3.8-3.6 1.2 .9 .9-.9 1-3.6-1.6-8.6 .5-2.2 1.5-1.4 2.3-2.2 .2-2.1-1.5-.7 0-.4 .6 1.9 3-.8 .6-1.5 .2-2.8-.3-5.8-1.6-5.8 .4-5.7-.6-2.6 1.3-1.6 2.9 0 1.5 .6 1.8 1.2 1.2 1.7 .7 2.8 .1 6.5-.8 5.8 .5 5.7 1.4 6.5 3 2.9 .7 5-.6 5.8-.1 2.2-1 2.1 .4 1.5-1.2 .7 .7 5.7 1.5 2.5 1.4zM230.6 82.4l-.9-.8 .1-.8 .8-.6 .8-.4 .7 .1 1.1 .9 .1 .8-.5 .5-2.2 .3zM98.1 77.1l2.2 .4 1-.4-1.7-.1-1.4-.9-.1 1zM158.6 69l.8 .6 .8-1.4-1.5-4.8-.8 .3-.2 1.6 .9 3.7zM185.2 66.7l.8-.1 .8-1.3-.1-1.5-.7-.9-2.4 .9-.2 .7 1.8 2.2zM204.5 66l.9 .6 1.2-1.3-1.2-2.1-1.4 2.1 .5 .7zM217.3 62.3l.4 .4 0-.6-.4 .2zM188 59.3l.9 .6 2.2-2.1 .2-2.2-.6-.7-3.2 .7-1.1 1.5 1.6 2.2zM203.8 58.6l.9 .5 1.3-.5-.3-.8-1-.3-1 .3 .1 .8zM182.7 57.8l1.2 0-.8-.8-.4 .8zM207.4 57.8l.8 0-.8 0zM.4 51.1l2-.6 3.4-3.8 4.2-3.7 .6-1.5-.8-2.2-1.8-1.5-7.7-3.7 .1 17zM197.6 8.8l1.4 .7 2.1 0 1.4-.7 .3-.7-1.7-1.1-1.4-.1-2.2 1 .1 .9z" fill="#fcd8d8"/>
<path d="M.3 141.7l0 .4 5.7 .2 11.3-.6 7.6-.7 2.4-.8 .6-.7-.9-.7-3-.5-20.1-.7-3.6-1.2 0 5.3zM256.7 141.7l2 .3 0-5.8-3.6-.4-2.4 .7-.7 .8 .2 1.5 2.4 2.2 2.1 .7zM81.3 138l7.5 .4 2.9-.4 .2-.7-7.4-.3-2.5 .3-.7 .7zM197.2 138l9-.3 9.3 .5 10.1-.6 9.4 .2 3.8-.5 1.5-.8 .6-.7-.2-.7-.9-.8-5.6-1-9.3 .6-9.4-.6-9.3 .5-9.4-.6-2.9 .4-2.3 1.5 .1 1.4 .8 .6 4.7 .9zM110.8 136.5l9.7-.3 7.7-1.1 2-.8-.5-.7-4.6-2.3-.1-.7 1-.7 27.8-3.8 4.5-1.4 1.4-1.5 0-1.5-2.2-1.5-2.8-.7-16.2-2.2-7.2-.4-10.1 .3-9.3 1.4-8.7 .3-6.5 1-12.9 3.8-2.2 1.5-1 1.7-.1 1.5 1 1.5 8 4.2 10.1 1.9 11.2 .5zM15.8 131.3l6.1-.1 13.2-2.1 3.1-1.5 .5-1.5-1-1.6-2.9-1.3-6.4-1.2-5.1-.3-5 .5-4.3 .9-7.7 3-1.9 1.5 0 1.5 1.6 1.1 9.8 1.1zM75.8 109.8l.8 .7 .7-.1 1.4-2.8-.3-2.2 .7-3 .3-5.2-.6-6-3.1-5.2-2.1-5.2 0-2.9 .5-1.5-.4-4 .7-.9 1.2-.3-.2-2.2 .5-.5 2.1 0 1.6 1.2 .4 .8-.5 .6-1.4 .1-1.1 .7-1.1 3 1.2 2.2 .9 .9 .8-.1 5-4.6 1.4-.5 .7 .4 .7-.5 1.4-3-.6-1.2-.7 .3-.8 2.4-.7 .5-2-1.2-.1-1.5-1.5-2.8-1.4-.1-1.4 .6-1.5-.7-2.9 1.3-2.5-1.3 0-.7-1.8-1.3-2.9-.5-1.4 .9-.3 .9 .3 6 .9 2.9 2 2 .7 1.4 .6 4 1.7 5.9 3.6 5.2 .7 5.2 .1 6-.6 5.2 .3 .7zM78 72.7l.8-.6 .5 .6-1.3 0zM86.1 103.9l.6 0 0-1.4-.6 .6 0 .8zM85.1 99.4l2.3-.6 1.4 .8 1.5 .2 .8-1.1-.8-.7-2.2 .3-1.4-1.2-1.5-.2-1 1 0 .8 .9 .7zM139.8 97.2l.9-.1 1.3-1.4 1-5.9-.9-1.1-1.7-.4-1-.8 1.1-2.9-.6-2.3-2.8-2.6-2.2-1-3.6-.8-2.2 .5-.7 1-.2 1.4 .2 3 .7 2.3 2.2 2.2 4.3 1.5 .7 .9 2 5 1.5 1.5zM229.7 97.2l.8-.8-1.3-1.1-.6 .4 .2 .7 .9 .8zM92.8 96.4l1.8 .1 2.9-2.6 .5-1.2-.5-1-2.2 1.6-2.7 .2-.3-.8 2.3-1 .4-1.2-.4-1.2-2.2 .5-.8 .7-.6 1.8-1.5 .4-.8 .8 .1 .7 1.1 1.5 2.9 .7zM87.2 90.5l.2 .4 .7-.3 .5-.8-.5-1.1-.8 .3-.1 1.5zM83.5 88.3l1.7 .2 1.1-1 .3-.7-1.4-1.5-.1-.7 .8-.9 2 .9 .1 2.2 .8 .4 3.6-1.9 2.9 .6 .8-.6-.7-2.2 .2-1.5-1.7-1.4-.1-.8-.7-.5-2.1 0-1 2.7-1.9 1-.7-.1-.9-1.7 1.6-1.4 .2-.8-1.2-1.5 .3-1.4-.7-1.3-.8 .3-.7 2.7-2.8-.2-.9 .7-.1 2.9 .6 1.5-.4 3 1.3 1.5 .6 1.5zM232.9 87.5l.7 0-.1-.7-.7-.5-.5 .5 .6 .7zM151.8 85.3l1.8-.3 .7-1.6 .6-.3 1.6-.1 .4-.7-.4-1.5-2.9 .3-2.1-2.1-2 1.8-.1 .8 .7 .7 2.8 .8-1.5 1.5 .4 .7zM97.7 83.1l1.2 .5 0-.8-.7-.7-.8 .2 .3 .8zM147.3 81.6l1.3 0 .6-.8-1.3-2-1.1 2 .5 .8zM235.4 81.6l.6 0 .1-.8-1.1-2-2.9-1.1-1.5-1.5-2.1-.2-1.5 1-1.4 0 1.4 .3 1.7 1.3 .5 1.6 1.4-1.5 1.5-.2 3.3 3.1zM208.5 80.8l1.3 .6 .9-.6 0-.7-.9-.5-.8 .1-.5 1.1zM140.5 80.1l.9 .4 .7-.5 .8-2.1-.8-2-.7 .1-1.9 1.9 0 .7 1 1.5zM144.4 78.6l.6 .6 .7-1.1 .7-.3 2.2 .8 1.2-1.5-.5-2.1-2.2-.3-.5-.5 .3-2.3 1.7-.6 .7-.8-.5-1.5 1-2.3-.5-.9-1.8 .2-.6 .7 .6 1.5-.4 .5-1.4-.1-.6 .4-2 2.9-.5 3 .3 .8 2.1 1.4-.6 1.5zM204.5 78.6l.5 0-.3-.6-.2 .6zM203.1 77.1l.9 .7 .9-2.1-2.3-1.8-.6 .3 1.1 2.9zM215.2 77.1l.3 .5 1.5-.5 .6-.7-.3-2.2-1.1-1-1.1 1 .1 2.9zM91.6 76.4l.8-.7-.7-.7-.7 .7 .6 .7zM211.8 74.9l.4-.7-.3-1-.1 1.7zM208.3 74.2l3.6-2.3 2.9-.6 .2-.8-.9-1.3-1.5 .1-4.4 3.4 .1 1.5zM137.4 73.4l1.8 .7 .3-.7-.3-1-.7-.5-.8 0-.8 .8 .5 .7zM92.2 72.7l.2 .3 .4-.3-.4-.5-.2 .5zM140.2 70.5l.5 .6 .7 0 .4-.6 .3-1.5-.7-.8-1.3 .8 .1 1.5zM124.1 66.7l.7 .5 2.2-1.6 2.9-.1 1.2-1-.1-.7-1.2-1.5-.2-2.2-1.7-3.8-1.6-.2-.8-.6-.2-1.4 1.8-2.2-.8-1.5-.8-.3-1.4 1.2-2.2-.6-.7 .3-2 2.4 2 .6 1 .9 1.1 2.2 1.7 .7-2.3 3.1-.5 2.1-2.4 2.3 .1 .7 .6 .2 2.9-.6 .7 1.1zM124.1 64.2l-1-1.9 1-1.4 1.4-.5 2.5 2.6-1 1.2-2.9 0zM134.6 66.7l1 0 .6-.7-.6-2.1-1.8 1.4 .1 .7 .7 .7zM185 65.3l.8 0 .1-.8-.6-.9-.8 .2-.4 .7 .9 .8zM204.9 65.3l.5 .3 .3-.3-.3-.8-.5 .8zM133.8 61.5l3.3 .4 2.1-2.1 1.5 2.1 1.4 .2 2.9-1.9 2.3-.1 2.1-3.8 .6-.2 1.5 1 .7-.5 2.1-.1 1.6-2.4-.5-1.5 .4-.8 1.9 1.6-.2 2.2 1.2 2.7 .8-1.2 1.3-.5 .7 .3 .8 2.2 .7 .2 2.1-2.4 1.5 .3 1.4-.8 1.3-1.5-.1-1.5 .8-1.5 2.3-.1 1-.7 .7-2.9 3.4 .3 1.4-1.1 2.2-.3 3.6 2.1 3.6 .8 .7-.3-.7-.7-1.5 .2-.3-1 .7-1.5-.3-1.5-2.2-1.2-.9-2.5 .9-1.9 2.1-.8 2.2 0 2.5 1.2 .5 .8-.2 .7-1.3 2.2 .6 .8 2.9 .8 1.1 1.4 .4 2.1 1.4-.2 2.2 .9 .7-.2 1.4-1.7 2.7-.2-.6-.7 2.2-1.6 .3 1.6-.5 1.5 .2 1.5 1.4 1.4-1.1 3 1.9 1 2.2-.8 1.4 .1 .7 .6 1.5-.4 1.4-1.4 3.6-.5 7.2-2.5 2.9 .2 6.5 2 4-.5 5.3-2.9 14.4-4.9 0-7.3-4.3-1.6-9.4-.7-4.3-.9-2.1-1.1-3.6-3-1.5-.6-5 3.4-5.8 2.3-4.3 3-2.2 .4-4.3-.9-2.1 .5-1.8 1.7-1.8 2.9-.9-4.4-1.2-2.2-1.5-.9-5.1-1.3-1.4-1.2-.8-1.8-.8-6-.9-1.5-1.1-.5-14.4-.6-8.6 2.5-2.2-.4-4.3-2-1.5-.2-6.4 2.4-2.2 .3-2.9-.3-5.7-1.6-3.6 2-.6 .7 .4 1.4-.3 .8-1 .8-1.4-.5-1 1.2 .2 .7-.5 .8-1 0 .1-2.4-2.1 .9-4.4-.6-.9-.2-1.4-1.5-1.3-.2-2 4 .6 1.4-.8 5.2 .4 3 1 1.5-.6 1.2-1.5 .3 .1 1.2 2.1 0 1.5-.8 1.2-1.2 .2-1.7 .7-.8 .7-.2 1.5 1.4 2.1-1.6 0-4.5-3.2-3.7 .4-1.1 .7 .2 .7 1.1 1.4-.7 1.8 .5 .1 .7-.8 3 .6 .8 .5 1.6 3.2 2.1 .1 1.5 1.3 3.7-.3 2.9 .4 3-.3 1.5-.8 .5-2.2-2.1-2.1 1-1.5-.9-4 1.5-.7 .7 1.1 1.5 2 .8 0 4.4 .5 .8 2.2 1.4zM135.6 57.2l-.4-.9 .4-.7 .7-.1 1.2 1.6-1.2 .5-.7-.4zM139.2 58.6l-.4-.8 .4-.4 2.9-.8 1.3 .5-.1 .7-1.2 .9-2.2 .5-.7-.6zM144.3 42l-1-1.2 .2-1.5 2.2-1.4 .8 .6 .2 .8-2.4 2.7zM145 56.2l-.5-1.3 .5-.8 1.4-.5 .5 .5-.3 .8-1.6 1.3zM151.5 51.9l-.1-1.5 .8-.9 .5 .9-.3 .7-.9 .8zM209 51.9l-.3-.8 1.8-.3 .5 1.1-.5 .7-1.5-.7zM139.9 37.4l-1.1-1.1 .4-.8 .7 0 .8 1.5-.8 .4zM145.7 33.6l-.3-.3 .3-.5 0 .8zM151.5 29.1l-.7-1-2.1-1.5 .6-.5 1.4-.2 .8 1.6 1.3 .6-.2 .8-1.1 .2zM57.8 60.1l.8 .3 .8-.3-.1-.5-1.5 .5zM155.8 60.1l.7 .3 .4-.3-.3-.8-.7 0-.1 .8zM165.8 59.3l.8 .3 .1-.3-.1-.4-.8 .4zM54.2 57.8l.8-3.7 1.4-2.2 .8-.4 .7 .3 .7 1.5 .7 .3 1.3-2.5 .2-1.6 0 .9 .7 .5 6.5-.1 2.8-.4 11.6-4.9 6.4-1.7 2.5-1.6 1.1-1.5 .8-2.2-.2-5.9 .7-2.2 .9-.8 6.7-2.2 1.4-1.5 1.2-4.5 .9-1.4 2-1.2 3.6-.6 1.1-1.2 .2-1.5-3-3.7-1.2-3.8-1.4-.9-2.2-.4-6.4 1.2-8-.3-1.4 .9-.8 1.1-.5 4.4-.8 1.5-1.5 1.1-1.4 .2-2.2-.5-1.9-1.5-2-6-1.8-2.8-2.2-1.2-3.6-.6-23.8 0-20.8 4-8 .9-3.6 1-1.6 1-.6 .7 0 1.5 1.5 1.6 8.7 1.8 11.2 7 8.9 3.7 .6 .7-.6 4.5 .7 4 .5 1.2 1.7 .7-1.1 3.7 .3 .8 1.5 .4 1.8-.4 .9-.8 .8-1.4 .8-.2 .3 .9-1.6 1.5 .6 1.1 2.9-.2 2.2 1.3 .1 2.2-.9 1.5-1.4 1.6-1.4-.7-.4 .6 .4 .8 1.4 .1 .5 2.1 1.8 2.2 .5 2.2zM43.5 28.3l-.6-.2-.2-.7 .8-.5 .4 .5-.4 .9zM201.1 57.1l.4-1.5 1.6-1.5-.5-1.3-.8-.3-.7 0-.8 .9 .8 3.7zM189.4 56.3l.4 0-.1-.7-.3 .7zM50.4 48.2l.3 .3 .6-1.1-.6-.7-.8 .7 .5 .8zM.3 43.7l1.8-1.5 .6-1.4-.8-2.3-1.6-1.4 0 6.6zM128.9 43l.8-.8-.6-.3-.6 .3 .4 .8zM217 23.7l.7 .5 1.4-.5 1.4-2.3-.6-.7-1.5 .1-1 .6-.5 .8 .1 1.5zM198.6 8.8l1.8 .4 1.1-.4 .4-.7-1.5-.7-1.4 .2-.8 .5 .4 .7z" fill="#fcb4a8"/>
<path d="M.3 141.7l6.5 .4 7.8-.4 8.7-.9 2.1-.6 .4-.7-3.9-.9-18.6-.6-3-1.2 0 4.9zM256.1 141l2.6 .7 0-5.1-2.9-.5-2.8 .8-.5 1.1 .5 .7 3.1 2.3zM197.8 137.3l8.4-.6 10 1 9.4-1 7.9 .5 3.6-.5 1.4-.9-.2-.7-1.4-.8-3.4-.4-8.6 .9-9.4-.9-9.3 .8-8.7-.9-2.9 .5-1.2 .8 0 .7 .8 .7 3.6 .8zM107.7 135.8l9.9-.1 7.2-1.2 1.3-.9-2.4-2.3-.2-.7 1.3-1.1 2.9-.7 7.9-.5 10.7-2.2 3.1-1.4 .9-1.5-.1-.8-.9-.9-2.2-.8-12.9-2.3-3.9 .3-5.5 1.5-6.5-.4-7.2 .9-8.6 .1-5.8 1-8.6 2.7-3.2 1.6-1.1 1.5 .1 1.5 .7 .8 7.5 3.7 7.5 1.5 8.1 .7zM18.2 129.9l9.4-.8 3-.7 1.5-.8 .6-.7-.7-1.1-2.2-1-7.2-1-6.5 .8-1.8 .8-1.6 1.5-.1 .7 1.4 1.1 4.2 1.2zM76.1 109.8l.5 .4 .9-.4 .9-3-.1-2.2 .6-2.2 .3-5.2-.6-6-3.1-5.2-2-5.2 .2-5.1-.7-3.4-2.5-1.1 .2-1.5-1.3-1.6-.7 .2-.4 1.4 .4 1.1 1.6 1.1-.7 3 .9 6.7 1.9 5.9 3 4.5 .5 1.5 .5 4.4 0 6-.7 5.2 .4 .7zM140.5 96.4l.9-.5 .3-.9 0-4.5-.3-.5-3.6-1.2-.3 1.7 .9 3.7 .9 1.5 1.2 .7zM92.8 95.7l1.1 .1 .4-.8-.4-.5-1.5 .2-.2 .3 .6 .7zM132.1 86l1.4 .7 1.7-.7-.1-2.2-1.6-1.5-1.1 0-.8 .8-.3 1.5 .8 1.4zM137.6 86l.9 0 1.3-1.4 .1-.8-.7-.9-1.4 .9-.4 1.5 .2 .7zM83.1 85.3l.7 .3 .6-1 .1-1.5-.7-.4-.7 .2-.5 .9 .5 1.5zM93.8 83.8l.7-.7 .1-1.1-2.9-2.2-.3 1 .3 1.8 2.1 1.2zM85.1 82.3l.8 .3 .2-.3-1 0zM150.4 81.6l1.1 .6 .8-.6-.1-.8-.7-.5-1.1 1.3zM82.8 80.8l.3 .3 .5-1-.5-.3-.3 1zM84.6 79.4l.6 .6 1.2-.6 .4-.8-.9-.2-1.3 1zM140.8 79.4l.6 .1 .5-.9 .2-.7-.7-.7-1.1 1.4 .5 .8zM77.9 77.1l.9 .1 .7-.8 1.2-1.5-.1-.7-3.3-.6-.6 .6 .2 1.5 1 1.4zM147 77.1l1.6 .3 .4-1-.3-.7-2.6-.8-.3-3-.8-.6-.7 .1-.9 1.3 .1 1.8 3.5 2.6zM228.4 77.1l.8 .4 .9-.4-.9-.5-.8 .5zM216.1 76.4l.9-.2 .2-.5-1-1.5-.5 1.5 .4 .7zM81.5 73.4l.9 .2 .7-.5 .7-1.2-1.4-.4-.8 .2-.3 1 .2 .7zM147.5 70.5l1.1 0-.7-.9-.4 .9zM81.1 69.7l.5 .1 .5-.8-.5-1.9-.7-.6-1.6 1-.1 .7 1.9 1.5zM148.5 67.5l.8-.8-.7-.4-.8 .4 .7 .8zM128.7 64.5l1.2 .2 .2-.9-1-.3-.4 1zM127.6 61.5l.8 .5 .8-1.2-1.5-3-.7-.5-.5 2 1.1 2.2zM133.6 60.8l3.5 .5 .5-.5 .3-1.5-.1-.4-2.2 0-.7-.7-1.4-.3-1.1 .7-.2 .7 1.4 1.5zM140.5 60.8l.9 .7 1.4-.3 1.5-1.4 3.6-2 1.4-2.2 .7-.4 1.5 .1 .7-.4 1.7 .7 .5-1.5-.8-2.2-.7 2.7-.7 .1-.7-1.1-2.2-.8 .2-1.7-1.9-.7 .3-.7 1.8-1.5-1.8-1.1-2.9 .6-2.2 1.7-2.1-.1-.5 2.6-1.7 1.5-.7-.1-1.5-1.6-2.1 1.5-2.2-1.6-1.4 .5-.3 1.3 2 1.5 .4 1.4 .8-.1 1.4-1.9 2.1 .6 1.8 1.4 1.9 .2 2.3-.9 1.1-1.5 1.3-.7 1-.3 1 .3 .2 .7-1.9 2.8-2.2 1.7-2.8 1.2-.2 1zM142.1 54.3l0-1.2 .6 .3 .1 .7-.7 .2zM162.9 57.8l4.4-2.6-.6-2.6 .6-.7 1.4-.2 1.5-.8 2.1 .1 .6-.6 .2-3 .7-.3 2.8 1.1 2.9-1.7 .7 0 4.4 2.1 1.1-.4 1.1-1.5 .1-.7-2.3-1.6-1-2.2-.1-1.4 1.8-1.8 4.5-1.2 2.4-3 .7-2.2 .1-3.7-.5-2.3-1.1-1.4-2.5-.8-5.8 .5-5.7-.2-8.7 1.9-7.9-2.1-.7 .1-1.4 1.9-1.5-.2-.5-.4 .5-.7-.7-.3-1.6 .3-1.2 .7 1.5 3-.1 .8-4.4 .9-2-2.5-1.6-.6-1.7 1.4-.1 .7 .4 .6 1.4 .8 .8 1 .7 .2 1.4-.5 .4 .9-.4 1.3-3.5 2.4 1.4 3-1 1.5 .2 .6 1.5 1.3 1-1.9 .9-.8 .2-1.7 2.2-.3 .7 .5-.2 .8-2.1 .7-.4 .8 .1 2.9-.9 .8 2.2 2.2 2.4 .7 0 .8-1.1 1 0 1.1 2.9 1 1.4 1.4 1.5 .5 .8 1.7 1.3 .7 1.4 2.2zM157.2 45.3l0-.5 .6 .4-.6 .1zM123.1 54.1l.3 .5-.5-2.7-.9 0-.1 1.3 1.2 .9zM53 53.4l1.3 .3 2.1-2.7 .8-.3 2.1 .6 .1-1.6 1.4-1.5 .7 .9 5 .3 5.1-.8 9.3-5.5 7.2-3.2 1.3-1.4 .5-1.5-.1-6.6 .5-2.3 1.4-.9 5 0 2.9-.9 1.8-1.9 2.5-5.7 4.9-3.2 .1-1.5-2.1-4.7-1.4-1-1.5-.3-6.4 1.1-7.2 0-1.6 1.2-2 5.9-1.5 1.1-1.4 .3-2.9-.5-2.1-1.5-2.9-5.3-2.2-2.5-2.1-1.1-3.6-.7-22.4 .3-13.6 2.8-3.6 1.2-2.7 1.5-.7 1.5 .7 1.5 6.8 5.9 8.8 5.4 3.1 .5-.2 2.2-1.4 .4-.6 1.9 .1 1.5 1.7 1.5-.2 .7-.9 .8-.1 .7 .7 .9 2.1 .2 .5 .4-.5 1.2-1.4 1.7-.2 1.5 .9 .7 .7-.1 1.7-2 2.7-1.1 .4 1.1-.4 2.2 3.6 .7 .7 .5-.1 4-1.9 2.9 .1 1.5 .6 .8zM212.4 52.6l1 .3 .7-1.1 1.4 .4 2.2-2 7.2-1.7 2.9 0 5.7 1.2 2.2-.1 2.1-1.1 4.4-3.9 6.4-1.8 2.9-1.3 1.3-1.5 0-.7-2.1-1.5-10.7-2.3-5.8-2.5-2.1 .1-7.2 2.7-5.1 4.3-6.4 3.1-.9 1.3-.3 2.2 2.6 .7 .1 1.5-.8 .7-1.5 0-.9 .8 .7 2.2zM206.5 49.7l3.3 .1 .6-.9-.3-.7-2.5-1.1-1.5 1.1-.1 .7 .5 .8zM150 48.9l.7 .5 .4-.5-.4-.6-.7 .6zM198.5 48.2l.5 .5 .7-.4 .3-.9-1.5-.7 2-3.7 .3-3-.7-1.5-1.1-1-2.9-.3-2.4 1.3-.5 .8 0 1.5-2.2 1.9-.3 1 .9 .8 2.3 .4 1.5 2.4 .7 .5 2.1-.5 .3 .9zM124.7 40l.8 .6 .8-.4 .8-1.7-2.3-.1-.4 .9 .3 .7zM130.4 39.3l.9 0 .4-.8-.4-2.1-.7-.3-.5 1.7 .3 1.5zM142.3 37.8l.5 .3 1.1-.3 1.6-1.5 0-.7-1.2-.6-2.9 0-.2 1.3 1.1 1.5zM128.4 34.8l.3-.7-.3-.1 0 .8zM139.4 32.6l1.3 .7 2.9-.7-1.5-.6-.6-.9 .5-1.5-.6-.5-1.2 .5-.8 3zM141.2 25.9l.9 .3 .4-1-1.1-.3-.4 .3 .2 .7zM198.8 8.1l.9 .7 .7 0 .8-.7-1.5-.3-.9 .3z" fill="#f88c78"/>
<path d="M2.2 141.7l10.3 0 10.1-1.3 .8-.2 .3-.7-12.6-1-7.9-.1-1.5-.3-1.4-.8 0 4.1 1.9 .3zM257.6 141l1.1 .3 0-4.3-2.9-.6-2.6 .9-.1 .7 .6 .6 3.9 2.4zM211.9 136.5l5.1 .4 2.7-.4 1.1-.7-2.4-.9-4.3-.2-2.2 .4-1.1 .7 1.1 .7zM196.3 135.8l2.7 .4 2.3-.4-.3-.7-2.8-.4-1.9 .4 0 .7zM230.6 135.8l2.2 .4 2.4-.4-.3-.7-1.4-.2-2.3 .2-.6 .7zM104.9 135.1l9.8 .1 7.3-.9 1.4-.7-1.2-3 1.9-1.7 2.9-.7 10-.6 4.3-1.5 .9-.7 .4-1.5-1.2-1.5-2.7-1.5-3.1-.8-2.9-.1-2.8 .9-3.6 2.1-1.5 .4-7.2-1.2-17.4 1-8.5 2.6-2.3 1.1-1.5 1.5 0 .7 1.2 1.5 4.1 2.2 5 1.4 6.7 .9zM18.4 127.6l4.2 .4 2.4-.4 1-.7-2-.9-3.6-.1-2.3 1 .3 .7zM76.5 109.8l.8-.4 .8-2.6 0-2.2 .9-5.2-.1-4.4-.5-3.8-3.2-5.2-1.9-5.2 0-6.6-.3-.9-1.4-.5-1 .6-.5 1.5 .7 5.9 2 6.7 3.3 5.2 .6 4.5 0 6.7-.7 5.2 .5 .7zM140.4 95.7l.5 0 .4-.7-.4-1.5 .1-1.5-.3-.9-1.5-.6-.7 .4 .1 1.1 1.8 3.7zM77.6 75.7l.4 .7 .8-.1 .4-1.4-1.2-.6-.7 .4 .3 1zM144.2 74.2l.8-.2 .2-.6-.2-1.2-.7 0-.3 .5 .2 1.5zM134 60.1l.7 0-.5-1-.5 .2 .3 .8zM141.7 60.1l.4 .4 .7-.4-1.1 0zM146.6 57.1l.5 .3 .8-.4 .9-2.1-.2-.4-1.5 1-.5 1.6zM162.8 56.3l.9 .2 .7-.7 2.1-.9 .1-1.2-.7-.9-.8-.1-2.1 2.1-.2 1.5zM139.1 55.6l.8 .4 1.3-.4 .2-.7-.7-1.9-1.6 1.1-.3 .8 .3 .7zM160.9 53.4l1.4 .4 2.1-1.4 .4-.5-.6-1.5 .9-.9 2.1 .2 .8 1.2 .7 .1 3.6-1.1 .2-1-.7-2.2 1.3-.6 2.8 1.6 1.5-.2 1-.8 .4-2.6 .7-.1 2 2.7 2.3 1.3 1.5 0 1.3-1.3-.1-.7-2.1-1.5-1.1-3.7 .5-1.1 3.9-3.4 2.1-3.7 .9-2.2-.4-2.3-.7-.7-1.4-.5-5.8 .6-5-.1-7.9 1.4-7.2 0-.8 .8-1.4-.5-.7-1.2-2.9-.4-.5 .6 .5 1.2 2.3 1.1 .5 1.4-.7 3-.7 .8-.8 0-.1-.8 .8-1.5-.2-.7-1.7-1.5-3.7 .1-.7 .4 .1 4 .5 .7 1.5 .4 2-.4 .2 .7-.9 1.5 .2 .8 2.8 .1 .7 .6 .1 .8-1.1 2.2 1.5 3 3.8 1.4-.6 .6-.3 .9 .8 2.2-2 1.5 .1 .8zM53.5 52.6l1.3-.7 .2-1-.7-.1-.7 .4-.1 1.4zM143.5 52.6l.8 .7 2-.7 1-.7-3.8-1.5-2.1-.1-.3 .8 .3 1.1 1.4-.2 .7 .6zM157.6 51.9l1.1 .4 1-.4 .4-.8 .2-.7-1.1-2.2 .2-1.1-.7-.1-.8 .7-1.4-.7-1 .4 .3 1.4 1.4-.6 .3 .7-.9 .8-.1 .7 1.1 1.5zM154.9 49.7l1.4 0-.5-.7-.9 .7zM57.2 48.9l.7 .6 .7-.2 2.2-2.8 .7 .9 4.3 .5 2.9 0 2.1-.6 2.5-1.3 5.5-4.7 6.1-3.5 1.2-1.5 .5-1.5 .5-8.2 1-4 1.4 .1 2.9 2 2.2 .9 2.1 .1 2.2-.7 1.8-2.1 2.5-5.4 3.7-3.5 0-1.5-.8-1.8-1.4-1-1.5-.2-5.7 .8-6.5 .2-1.5 1.3-2.1 6.5-.7 .8-.8 .2-3.5-.7-2.9-1.3-2-1.8-2.4-3.7-2.1-2.2-2.2-1.2-2.8-.6-22.4 .4-10.6 2.9-2.8 1.4-.5 .8-.1 1.5 2.9 4.4 2.6 2.2 4.2 2.7 1.9 1.8 1.6 .7 .1 2.4-.7 .9-1.3 .5 .2 1.4 1.8 1.5 1.5-.3 1.9 1.1 .9 2.4 2.3 1.3 .2 2.2-.8 2.2 2.7 .7 2.1 1.3 1.5 .2-.8 .8 .8 3.7zM145.8 48.9l1.3 .2 1.1-.9-1.8-.3-.7 .3 .1 .7zM207.5 48.9l1.4 0-.2-.7-1.1-.3-.6 .3 .5 .7zM216.1 48.2l.1 .3 .7-.3 0-.8-.7-.3-.1 1.1zM195.6 46.7l.5 .6 1.6-.6 .8-2.2-.4-3-1.3-1.3-1.4 .2-1.5 1.5-1.4 0-1.4 1.1-.1 .7 .8 .6 2.1 .2 1.7 2.2zM227.8 46.7l5 .6 2.2-.6 1.6-1.5 1.3-2.2 .9-2.2-.2-1.3-3.1-1.7-4.1-1.3-2.9 .1-2.9 1.1-2.3 2.3-3.9 5.2 .4 .8 .8 .2 7.2 .5zM55 46l.7 .2 .6-.2 .1-.8-.7-.5-.7 1.3zM153.5 43.7l1.1 0-.3-.6-.7 .2-.1 .4zM44.6 41.5l.3 .7 .7-.1 1.5-2 1.6-.8 .2-.8-1.1-.6-.7 .2-.7 1.3-1.5 1.2-.3 .9zM160.8 26.6l.8 0-.1-.8-.7-.4 0 1.2z" fill="#f46a58"/>
<path d="M5.3 141.7l10.9-.7 4.7-.8-.1-.7-11.2-.8-7.2 0-2.1-.8 0 3.2 5 .6zM257.6 140.2l1.1 .7-.2-3.6-2.7-.5-1.8 .5-.2 .7 3.8 2.2zM103.1 134.3l10.2 .4 7.2-1 1-.9-.6-2.2 .3-.7 3.2-3-3.9-1.8-2.9-.6-12.9 .2-8 1.6-3.1 1.3-1.7 1.5 .3 1.5 2.1 1.5 3.9 1.3 4.9 .9zM127.3 126.9l4 .7 3.6-.3 3.1-1.2 .5-1.4-.7-1.2-1.5-1-3.6-.5-3.4 1.9-2.2 2.2 .2 .8zM76.4 109.1l.2 .3 .3-.3 .8-2.3-.2-2.2 1-2.2 .3-6.8-.6-4.4-3.2-5.2-1.9-5.2 .1-5.9-.2-1-.7-.8-1.5 .7-.4 1.1 .6 5.9 2 6.3 3.3 5.6 .7 4.5 .2 7.4-.8 4.5zM157.6 51.1l1.1 .5 .5-1.2-.5-.6-.8 .1-.4 .5 .1 .7zM168.6 49.7l2.3-.1 .9-.7-.5-.7-2.6-1.3-2.1 0-1.3 .5 1.3 1.4 2 .9zM162.9 48.9l.8 .5 .4-.5-.4-.6-.8 .6zM57.9 47.4l.7 .7 .7-.7 0-.7-.7-.7-.7 1.4zM183.6 47.4l1 .4 1.7-1.1-.2-.7-2-1.5-1.1-3.7 1.5-2.3 1.3-4.4 0-2.3-1.2-1-4.4-.5-4.3 .1-9.3 1.3-4.3 1.4-.8-2-1.6 2.2-.6 2.3-2.1 1.4 0 .9 2.5 1.4 .8 2.2 1 1.2 3.6 2.4 2.2 .5 2.2-.3 6.4-3.5 2.9-.7 .9 .4 1.9 4.5 2 1.4zM175.1 46.7l.8 .6 1.5-.2 .7-1.1-.2-.8-.5-.6-1.5-.3-1 .9 .2 1.5zM196 46.7l.9 0 .9-1.5-.1-2.2-.9-1.4-1.4 0-1.4 1.4-.1 .6 0-.6-1.4-.7-1.1 .7-.1 .7 .5 .4 2.1-.4 2.1 3zM63.6 46l4.4 .4 2.8-1 1.9-1.7 3.2-4.2 6.5-4.7 1.3-3 .8-5.2 0-2.9-1-2.3-5.5-3.7-5.7-6.5-2.2-1.2-2.1-.6-4.4-.2-9.3 1-7.9-.2-3.9 1.1-4.5 2.2-1.5 2.2 .5 2.2 1.8 2.3 5.5 4.4 1 1.5 .7 3.7 1.1 .5 2.1-1.2 .6 .7-2 .8-1 1.4 1 1.2 1.7 .3-.2 2.3 .7 .7 2.1 .7 1.5 2.6 1.4-1.8 .4-3.7-2.6-1.5 1.5-.6 1.6 1.3 1.2 3 0 1.5-1.2 1.5-2.3 1-.7 1.2 2.1 1.3 1.4 .2 1.5-.3 2.1-1.9 .8 .1 .1 1.3-.7 1.5 .6 1.4 2.8 .9zM159.1 43.7l.3 .3 .4-.3-.4-.8-.3 .8zM227.5 43.7l2.4 .3 1.3-.3 .7-.7-.2-1.5-1.8-1.4-2.2-.1-1.1 .8-.5 1.4 .2 .8 1.2 .7zM152.9 34.8l.7 .5 2.2-1.1 .7-.9-.7-.8-2.2 .3-.7 2zM94 23.7l2.7 .6 1.5-.5 1.4-1.2 1.1-1.9 1.1-3.4 2.4-4-.4-1.5-2-.4-7.9 .3-1.5 .2-1.4 .8-1.1 2.8 .3 3 1.4 2.9 2.4 2.3z" fill="#e8473c"/>
<path d="M1.3 141l7.6 .5 8.5-1.3-1.5-.7-5.5-.6-10.1 .3 0 1.3 1 .5zM256.4 138.8l1.6 .1 .4-.9-1.1-.8-2.4 .1-.3 .7 1.8 .8zM102.1 133.6l9 .7 7.1-.7 1.4-.8-.1-2.2 1-3-1.4-1-2.9-.5-10.8 .1-7.2 1.5-2.2 1-1 1.2 .7 1.4 1.2 .8 5.2 1.5zM132.6 126.1l1 0 .7-.7-1.6-.2-.3 .2 .2 .7zM77.2 103.1l.1 .4 .8-.4 .5-4.4-.6-7.1-3.2-5.6-1.6-4.4-.2-6.7-.7-1.4-.7 .1-.9 1.3 .6 5.9 1.9 6 3.3 5.2 .7 5.2 0 5.9zM167.3 48.2l1.3 0 .2-.8-1.6 0 .1 .8zM184.4 47.4l1.5-.7-.3-.7-1.8-1.2-1-3.3 0-1.5 .6-1.5-1-.8-1.4-.1-.8 .9 .7 2.3 .1 2.9 1.4 2.5 2 1.2zM175.8 46.7l1.4 0 .2-1.2-.8-.5-.7 .2-.4 .8 .3 .7zM195.8 46l1 .1 .6-1.6-.3-1.5-1-.8-.7 .4-.6 1.1 1 2.3zM64.8 43.7l2.4 .4 2.2-1 2.3-5.3 7.8-6.8 1.4-2.5 .8-2.6-.2-2.2-.8-1.5-4.1-3.8-4.7-5.1-1.8-1.3-2.1-.8-3.6-.2-9.4 1.3-7.9 0-4.1 1.7-1.4 1.5-.3 1.5 .6 1.5 3.7 3.8 2.3 3.6-2.3 .7 .8 1.9 .7 .3 1.4-.6 1.5 0 1 .7-.3 1.1-2.9 1.9 2.9 .2 2.9-.9 2.1 .4 1.8 1 1.1 2.3 .3 2.1-.5 1.5-3.2 2.3-.4 .7 .2 .4 .7 .5 1.5-.1 2.1-2.2 1.5-.2 .5 .9 .2 1.3 3.3 1.6zM52.8 27.3l-.5-.7 1.3 0-.8 .7zM191.6 43.7l1.4 0 .1-.7-1.3-.2-.2 .9zM166.5 41.5l1.5 .6 2.2-.4 6.4-4.9 2.9-.5-.3-.7-2.6-.1-4.3-1.2-2.8-.1-2.2 .6-2.1 1.5-.7 1.5 .5 2.2 1.5 1.5zM161.4 40.8l.4-.8-.3-1.1-.4 .4 .3 1.5zM52.8 36.3l.8 .3 .7-1 0-.8-.7-.6-2.2-.5-1.4 1 .1 .9 .6 .3 2.1 .4zM160.6 34.8l1.1 0-.2-2.1-1 1.4 .1 .7zM95.6 22.9l2.6-.2 1.8-2 .6-5.2-.3-1.2-.7-.6-2.1-.5-2.9 .1-1.5 .5-.9 1-.3 2.2 .7 3 1.3 1.9 1.7 1z" fill="#d0292d"/>
<path d="M2.8 141l6.8 .3 5.3-1.1-1.8-.7-5.6-.4-5.4 .4-.9 .7 1.6 .8zM256.1 138l.7 0-.7 0zM106.6 133.6l6.7 0 4-.8 .7-.7 0-3.7-1.2-.8-2.1-.3-7.9 0-5.7 .9-3.2 1.7-.1 .7 .5 .7 1.2 .8 7.1 1.5zM78 102.4l.3-5.2-.8-6-2.7-4.4-2.2-6 .2-5.9-.5-1.1-.7 .2-.6 .9 .6 5.9 1.9 6 3.5 5.2 1 10.4zM183.9 46.7l1.4 0-2-1.5-.2-2.4-.7-1.6-.7 0-.3 2.5 2.5 3zM195.7 45.2l.4 .4 .7-.4 0-1.5-.7-.7-.8 .7 .4 1.5zM56 41.5l1.2 .1 .6-.8-.6-.6-1.1 .6-.1 .7zM60 37.8l.8 .6 .3-.6 .1-1.5-.4-.9-.9 .9 .1 1.5zM63.6 34.8l2.2 .3 3.6-.9 2.9-1.6 2.2-2.2 2.2-3.8 .5-2.2-.6-2.2-1.6-2.2-4.6-5.2-1.7-1.1-2.2-.5-4.3 .3-10.7 2.8-1.4 .7-.7 1.5 1.1 3.7 1.6 2.5 2.6 1.9-1.1 1.9-1.5 0 0 1.4 5.1 .9 1.4-.5 .4 .8-.3 1.5 .6 1.2 2.2-.6 2.1 1.6zM57.2 27.5l-.8-.9 .8-.5 1.8 .5-1.1 .9-.7 0zM49.6 27.4l1.1-.2 .4-.6-1.1-.3-1.1 .3 .7 .8zM95.9 22.2l2.3-.2 .7-.6 .7-1.4-1.4-3.7-1.5-1-1.4 .2-.7 .6-.7 2.1 .2 2.5 1.8 1.5z" fill="#c6282c"/>
<path d="M4.6 141l5.7 0 2.7-.8-2.2-.7-3.3-.2-3.1 .2-1.9 .7 2.1 .8zM105.5 132.8l4.9 .3 3.8-.3 1.7-.7 .4-.8-.2-1.4-.6-.9-1.8-.6-5.4-.2-5.8 .9-1.5 .8-.5 .7 .4 .7 1.5 .8 3.1 .7zM73.7 86l0-1.1 0 1.1zM72.9 83.8l.1-1.5-.1 1.5zM72.2 81.6l.1 .4 0-7.9-1 .8 .9 6.7zM182.4 44.5l.5-.8-.5-1.6-.7 .9 .7 1.5zM59.9 31.8l.1 .6 .8-.2 .4-1.1 .1-3.7-.5-.7-1.5 .8-1 1.4 1.1 1.5 .5 1.4zM67.1 31.1l2.3-.4 2.2-1.8 1.1-2.3 .2-2.9-.7-2.3-2.1-2.8-2.1-1.5-2.2-.4-2.2 .7-1.4 1.1-.9 1.5-.2 1.4 .9 3.8 1.6 3.7 1.5 1.5 2 .7zM95.6 21.4l1.9 .4 1.4-1.1 0-1.5-.7-.9-1.5-.5-1.4 .6-.6 1.6 .9 1.4z" fill="#a5282e"/>
<path d="M4.1 140.2l3.4 .6 3.6-.6-3.6-.5-3.4 .5zM106.2 132.1l6.4 0 1.2-.8 0-.7-1.2-1-3.6-.4-3.6 .5-1.7 .9 .4 .7 2.1 .8zM72.1 77.9l.2 .4 0-1.8-.5 .6 .3 .8zM60.7 31.1l.3-1.5-.2-2.1-1.3 1.4 1.2 2.2zM95.5 20.7l1.2 .7 .8 0 .9-.7 .2-.7-.4-.9-1.5-.5-1.1 .6-.1 1.5z" fill="#781b20"/>
<path d="M6.8 140.2l1.4 0-1.4 0zM96.2 20.7l1.3 .2 .6-.9-.6-.8-.8 0-.8 .8 .3 .7z" fill="#5a1418"/>
<path d="M.7 146.2l54.2 0 5.9-2 5 1.3 4.3 .3 3.6-.5 5.8-1.7 9.3 1 13.7 .6 57.6 .1 14.4-1.1 4.9-1 .9-.7-1.5-1-3.6-.7-15.8-.8-56.9 .1-15.8 .7-8.7 1.4-6.4-.9-4.4 0-3.6 .8-3.6 1.7-6.4-1.5-6.5-.5-46.8 1.1 0 3.3 .4 0zM252.8 145.4l5.9 .7 0-3.2-6.9 .3-2.2 .8 3.2 1.4zM215.7 141.7l12.8 .2 14.4-.7 4.3 .4 2.2-.9 2-5.6-.6-3.8 2.9-1.9 .7-1.1 .1-1.4-1.2-3.7 1.9-1.5 3.5-.5 0-15.8-1.4-3.2-1.5-1.8-2.1-1.1-3.6-.5-10.1 1.5-.7-4.9-.7-.7-.8-.1-1.2 1.1-.2 2.2-.7 .7-2.2-2-.7 .2-.8 1.1 .1 .8 1.9 1.5-.4 2.2 .9 2.2-.3 1-2.1 .1-1-.3-.5-1.1-.7 0-.7 1.5-2.2 1.8-2.8 1.1-5.3 1.1-1.4 .7-.3 .8 .3 1.5 .9 .9 3.6 1.2 5.8 .1 9.3-1.2 5.1 .7 2.6 2 3.1 5.2 .3 .7-.5 .8-1.2 .4-5.1 .4-8.6-.7-19.4-.3-8.7 .5-8.6-.7-13 3-7.2 1.1-11.5 1-23 1.2-9.2 1.5-.3 .7 4.4 1.2 6.5 .9 23.8 .8 2.9 1.1 .5 .5 .4 1.5 1.2 .9 2.9 1 3.6 .5 3.6-.4 2.9-1.1 2-1.7 2.7-3.7 3.2-1.1 32.4 .5 16.5-.3 2.2 .3 .7 .6-.6 6-1.5 .9-17.3-.3-20.1 .8 0 .8 10.9 .7zM.9 135.1l1.2 0 .5-.8-.4-.7-1.2-.4-.7 .4 0 .9 .6 .6zM43.5 134.3l9.3 .6 13.7-.1 7.9-.7 2.1-.5 1.1-.8-.3-.7-1.4-.8-2.9-.6-16.6-.8-12.2 .9-5.5 1.3-.7 .7 1.3 .8 4.2 .7zM.3 120.9l0 .4 1.4-.2 3.6-.9 7.2-4.7 5.9-2 1.8-1.5 .2-1.5-.7-.8-2.1-.9-14.4-1.4-2.9-1.3 0 14.8zM76.8 118l1.2 .7 .8-.2 2.8-2.2 5.8 .5 4.3-.3 15.1-3.8 6.5-1 3.4-1.2 4.5-2.7 2.2-.6 2.9 .6 4.3 3.5 3.6 1.3 13.7 1.6 3.6-.5 5.7-1.6 2.9-.2 2.2 .4 6.4 2.7 3.6 .7 4.3-.6 7.5-3.1 1.3-.7 .5-1.5-1.2-1.5-2.3-1.1-13.4-1.8-4.2-1.5-.7-.8-.2-1.5 1.1-4.4-.3-2.2-1-.2-1.4 .8-1.5-2.8-2.1 .6-2.2-.9-1.6-2-1.7-.7 .2-2.3-.5-.8-1.8 .1-.4 .7 2.2 2.3-.7 .9-2.2-1.4-.7 0-.7 .6-.2 1.3 1 1.5-1.1 2.3 .9 1.4-2.1 3.4-2.1-.6-1.5-2.1-.7-.2-1.3 1 .3 2.3-.4 .7-2.2-.2-1.7-1.3-3.3-4.8-1.5-.9-1.4-.2-2.3 .7-4.2 4.6-2.1 0-1.5-1.2-1.1-2.6-.1-8.2-1.7-6-2.1-2.2-4.3-.8-2.9 .2-2 .6-3.1 3.2-.4-2.4-1-.7-.8 .7 .1 2.9 1.9 1.5-1.2 6 .4 5.2 1 1.7 4.4 2.5 1 1.7 0 3-1.6 2.9-1.6 .9-1.4-.1-1.5-.8-4.3-4.2-2.9-.6-3.6 1.5-8.6 6.1-.7-.6-1.6-5.9 .7-5.2-.2-7.4-3.2-4.7-.6-2-2.3-4.4-1.5-.6-.3 1.3 .3 1.3 4.9 9.8 .7 8.2-1 6 1.3 2.2-.9 2.2-.1 1.5 2.6 2.2-.3 .8-2.8-1.3-2.1 .5-2-3.7-.2-5.2-.8-1.2-2.1-1.2-8.7-2.8-3.6-2.2-1.6-1.5-.5-.7 .1-1.5 1.9-4.5-.3-1.5-.7-.7-9-2.7-4.3-.8-10.1-.4-2.1 .7-.9 1-.7 1.4 .1 2.3 1.1 2.2 3.4 4.5 1.3 8.1 .7 1.8 1.1 1.2 3.2 .8 6.5-.7 12.3 .3 2.8 1.7 5.1 6 2.1 1 3.6 .6 2.4 2.2zM148.6 101l-.9-.8 1.6-1.1 .7 .2 0 1-.7 .7-.7 0zM198 106.8l13.2 .7 1.4-.5 .7-.9 .4-2.2-1.2-.8-.5-.7-.1-1.2-.7-.7-7.9-1.6-3.6-.1-2.9 1.3-1.4 2.3-.1 1.5 .5 1.5 2.2 1.4zM215.7 101.6l.5 .4 1.5-.5 3-2.8-.1-1.4-.8 .5-.7-.2-.4-.4 .4-.4 .7-.4 .8 .8 .7-.1 2.1-.9 .3-.5-3.1-6-.8-.4-1.4 .5-.7 1.4-.4 2.3 .9 4.4-2 .5-2.1-1.2-1 .7-1 2.3 .5 .7 2.2 0 .9 .7zM83.5 90.5l1 .3 .5-.3-.5-.3-1 .3zM231.9 89.8l.2 .3 .5-.3-.7 0zM164.4 87.5l.7 .1 0-.5-.7 .4zM152.7 77.1l2.4-.5 1.4-1.3 2.6-1.1 .7-.8 .1-.7-1.9-2.2-.2-2.3-.9-2.2 0-3-.5-.7-3.5-1.5-.7 .1-.8 1.4-.4 2.2 .3 2.2-.8 2.3 .5 1.5-1.2 2.2 .9 1 1.1 2.7 .9 .7zM161.9 71.9l.4 .1 1.6-1.5 1.2-3-1.4-1.6-.7 .1-.3 .7 .3 1.8-1.5 1.2 .4 2.2zM146.4 64.5l2.2-.1 1.1-2.1-.4-.8-1.4 0-2.1 .8 .6 2.2zM182.9 62.3l.9 .3 1.3-1.1-1-1.4-1-.5-.6 .5 .4 2.2zM118.8 58.6l1.7 .6 1.2-.6-.5-1.4-.7-.7-1.7 1.3 0 .8zM9.9 57.1l1.2 .4 1.4-.1 2.5-1.8 .5-1.5-.1-1.5-1.4-1.9-1.5-.5-1.4 .2-1.9 1.5-.7 1.5 0 1.5 .4 1.2 1 1zM180.8 54.9l.2 .7 2.8-.2 2.2-1.2 4.3-.2 4.3 1 2.1-1.6 .4-1.5-5.3-1.8-2.9 1-3.6-.2-2.2 .9-1.4-.7-1.5 0-.8 1.5 1.3 1.5 .1 .8zM188.6 48.2l1.7 .6 2.2-.3 1.4-1 .3-.8-.5-.7-1.2-.7-3.6-.4-1.2 1.8 0 .7 .9 .8zM185.1 43.7l1.6 .6 2.2-.2 1.4-1.9-.1-1.4-2-1.2-2.9 .2-1 1-.2 .7 1 2.2zM102.8 42.2l1.9 .5 2.1-.1 3.9-1.8 2.5-3 .3-1.5-.6-1.5-2.5-1.5-2.9-.5-3.6 .3-2.1 1-1.5 2-.1 2.4 .9 2.3 1.7 1.4zM8.5 31.8l3.3 .1 2.8-.8 1.5-1.5-.2-2.2-5.5-4-5.8-6.2-2.2-1.1-2.1-.5 0 14.2 8.2 2zM258.6 29.6l.1-14-5.7 .3-8.7 1.4-2.9 1.5-1.4 1.9-.3 2.2 .6 3 1.1 1.9 1.5 1 3.6 .6 7.9-.6 4.2 .8zM120.4 17l1.5 .4 2.2-.3 3.4-1.6 1.1-2.2 .6-5.2 4.3-1.9 3.3-3.3-7.7 0-.2 3.7-.5 .6-.7 .1-2.2-.3-2.1-1.1-1.9-1.5-1-1.5-14.2 0 4.1 1.7 2.6 2 .1 .7-2 1.2-.8 1.1 0 1.5 .7 .7 1.6 .5 3.6-1 2.9 4.7 1.3 1zM153.7 17l2.1 .4 6.5-1.2 6.4 0 1.3-.7 1.1-1.5 .2-2.9-1.1-1.9-2.2-1.5-8.9-3.3-2.8-1.5-10.3 0 4.8 11.1 1.4 1.9 1.5 1.1zM81.8 14.8l1.3 .2 1.4-1 0-1.9-1.4-1.2-1.5 .2-1.1 1.4 .3 1.5 1 .8zM93.7 3.6l3.8 .5 4.7-1.2-10.5 0 2 .7z" fill="#cdeef8"/>
<path d="M.3 145.4l10.1 .8 40.2 0 3.7-.6 2-.9 0-.7-1.7-.8-6.1-.8-27.3 .1-20.9 .7 0 2.2zM257.3 145.4l1.4 .2 0-2.3-5 .7 .3 .7 3.3 .7zM65.6 144.7l3.1 .4 2.9-.2 2.8-.9 .4-.8-1.2-.7-2-.5-5.1 .1-2.6 1.1 .1 .8 1.6 .7zM148 144.7l18.6-.4 6.6-1.1 .7-.7-2.3-.8-5-.6-14.4-.5-49 .2-11.5 .6-5.2 1.1 1 .7 2.8 .5 10.8 .8 46.9 .2zM245.6 140.2l1.6 .4 1.4-.5 .8-.8 1-2.8 .3-1.4-.6-1.5-1.5-1.6-1.4-.7-.2-.7 1.6-1.5 .4-1.5-1.1-.9-2.9-1-10-1.3-38.9-.4-15.9 3.4-12 1-24.7 .9-8.3 1.3-.4 .7 3.7 1 6.5 .6 21.6 .7 3.6 1.5 2.9 2.5 5 .9 3.6-.3 2.9-1.2 1.4-1.2 2.5-3.7 2.5-1 34.6 .6 19.4-.8 2.1 .4-.6 .1-.7 .9-1.1 2.8 0 3.7 .9 1.4zM44.9 133.6l8.7 .6 11.5-.1 7.2-.7 1.8-.6 0-.7-4.7-1-12.2-.5-8.7 .3-5.8 1.2-.3 .7 2.5 .8zM2.2 118l2.4-.3 2.1-2 .7-2.2-.8-1.5-2.7-.7-1.5 .5-1 1-.9 2.9 .6 1.5 1.1 .8zM76.9 117.2l1.1 .6 .8-.3 1.5-1 .5-1.5-2-1-2.3 1-.4 .7 .8 1.5zM86.9 114.3l4.1 .6 6.5-1.3 3.5-1.6 .7-.7 .2-1.5-1.7-3-2-2-1.5-.6-2.1 .3-4.3 2.6-4.6 4.2-.3 1.5 1.5 1.5zM143.6 112l4.3 .5 2.8-.7 2.7-2 .4-1.5-.2-.7-2.1-1.5-7.8-3-.2-.9 2.2-.4 .2-.9-.3-.7-1.7-.8-.5-1.5-.6-.4-.7 .3-.2 .9 .6 1.5-.1 1.4-.3 .7-.7 .3-2.9-.6-1.8-1.1-4-4.8-.7-.2-1.3 .5-1.2 2.3-.2 2.9 1.3 4.5 1.6 3 2.7 1.6 8.7 1.3zM170.1 112l2.2 .5 2.2-.2 1.8-1-.1-.8-2.4-.9-3.6 0-1.5 .9 .3 .8 1.1 .7zM72 111.3l1.7 .3 .3-.3-.9-3.7-1.5-.9-1.5 .1-.6 .8 .3 1.5 2.2 2.2zM80.9 111.3l.7 0 .6-2.2-1.1-6.7 .7-4.5-.4-1.5 .3-5.2-.9-2.2-2.4-3-2.5-5.9-.7-.8-.8 .3 0 1.2 2.8 6 1.4 1.5 .9 2.9 .8 5.2-.4 6-.7 3 .3 .8 1.7 1.4-1.1 2.2 .1 .8 .7 .7zM246.2 106.1l1.7 .7 2.2-.5 1.4-.9 .4-1.5-1.1-.9-2.5 .1-2 1.5-.1 1.5zM234.9 103.1l.3 0-.2-.9-.1 .9zM216.2 100.9l.8 .1 .7-.9-1.5-.4-.3 .5 .3 .7zM237.7 98.7l.9 .1 .5-.9-.5-1.9-.8-.3-.5 1.5 .4 1.5zM150.9 97.9l.6 .8 1.2-.8-.2-1.5 2-2.2 0-2.2-.9-1.1-3.6 2.3-.7 1 .2 .8 1.8 1.4-.4 1.5zM218.9 94.2l.9-.1 .9-1.4-.7-2.2-.9-.2-.7 .9-.2 1.5 .7 1.5zM106.4 93.5l1.1-.1 .9-.7 3.4-6.7 .3-2.2-.9-.7-2.3 .7-2.8 4-.9 3.4 .3 1.5 .9 .8zM149.9 91.2l.5-.7-1.1-.2 0 .7 .6 .2zM152.1 75.7l.8 .7 2.2-.7 3.6-2 .5-1-1.4-1.5-.3-3-1-2.2-.2-3-2.7-1.2-1.1 .5-.7 2.2 .4 .6 1.9 .2-.1 .7-1.8 1.3-1.1 1.7 .7 1.5-1.1 2.2 1.4 3zM146.7 63.8l1.2 .4 .5-.4 .5-1.5-1-.4-1 .4-.4 .7 .2 .8zM119.8 58.6l.8 0-.1-1.3-.9 .5 .2 .8zM192.5 54.1l2.9 0 1.1-1.5-.4-.6-4.3-1.6-2.9 1.1-3.6-.1-1 .5-.2 .7 1.2 .9 2.9 .4 2.1-.3 2.2 .5zM189 48.2l1.3 .4 1.5-.1 1.4-.7 .8-1.1-1.5-1.2-3.6-.1-1 1.3 .1 .7 1 .8zM185.5 43.7l1.9 .4 1.5-.5 1.1-1.4-.1-1.4-1.7-1-2.9 .2-1 1.5 .3 1.2 .9 1zM103.9 40l2.2 .3 2.2-.9 1.3-1.6-.2-1.5-1.1-.9-1.5-.5-1.4 0-1.9 .7-.7 .7-.4 1.5 .6 1.5 .9 .7zM2.8 28.1l2.5 .3 1.7-.3 .9-.7 .1-1.5-1.2-3-2.1-2.9-2.2-1.5-2.2-.5 0 9.4 2.5 .7zM257.1 26.6l1.6 .6 0-9.1-4.3 .6-6.4 2-2.9 1.5-1.1 1.5 .2 1.5 1.6 1 7.2-.3 4.1 .7zM154.9 14.8l3 .2 6.5-1.5 1.5-1 .1-1.4-1.4-1.5-3.1-1.6-5-1.5-2.7 .1-1.4 1.5-.1 2.2 .9 3 1.7 1.5zM82 14l1.1 .2 .7-.7-.1-1-.6-.4-.7-.1-.8 .5-.1 .8 .5 .7zM111.1 11.1l.8 .3 1.4-.3 .3-.8-.3-.7-.7-.4-1.2 .4-.5 .7 .2 .8zM111.6 2.9l2.4 .4 1.3-.4-3.7 0z" fill="#92d2dc"/>
<path d="M2.2 145.4l11.8 .6 21.6-.3 10.8 .4 5-.4 3.1-1-.1-.7-2.1-.8-5.2-.5-11.5 .3-17.3-.2-18 .8 0 1.6 1.9 .2zM256.9 144.7l1.8 .4 0-1.4-1.9 .3 .1 .7zM65.9 144l4.2 .5 2.4-.5 .2-.8-1.9-.7-2.6 0-2.5 .7 .2 .8zM101.4 144l55.1 .2 9.4-.6 2.4-.4 .6-.7-5.9-1-10.8-.4-45.4 .1-9.9 .5-4 .8 1.1 .7 7.4 .8zM246.3 139.5l.9 .2 1.4-.5 1.4-2.7-.2-2.2-1.9-1.6-1.4 .3-1.4 2.1 .1 2.9 1.1 1.5zM174.3 137.3l4.5 .6 4.3-.9 2.6-1.9 1.8-3.8 .7-.6 1.4-.5 15.1 .7 24.5 .3 11.5-.8 2.9-.7 1.6-1.3-.9-1.3-2.1-.8-8-1.2-36-.3-5.7 .7-8.7 2.6-37.4 1.4-8.4 1.1-.3 .7 3.6 .8 5.8 .4 19.5 .4 2.9 1 4.8 3.4zM51.9 133.6l12.5-.1 4.8-.7 .1-.7-5.6-.8-6.5-.2-6.1 .2-4.5 .8 0 .7 5.3 .8zM78.6 115.7l1 0-1 0zM90.4 112l2.7 .5 3.6-1 1.5-1.4-.2-1.8-2-1.4-2.1 .4-3.3 2.5-.7 1.5 .5 .7zM139 108.3l4.5 .5 1.3-.5-1.1-1.5-2.1-1.4-3.1-.6-1.4 .3-.7 1 .2 .7 .6 .8 1.8 .7zM79.8 106.1l1.1 .6 .4-.6-.4-2.9-.7-.7-.8 2.1 .4 1.5zM80.8 100.9l.1-1.1-.1 1.1zM142.7 99.4l.1-1.2-.4 .5 .3 .7zM80.8 98.7l.1 .6 0-2.1-.1 1.5zM80.7 95l.2 .4 .5-1.9 0-2.3-1-2.2-.9-.7-.2 1.5 .9 4.5 .5 .7zM150.8 95l1.4 .6 1.4-1.1 .5-1-.5-1.6-3.1 1.6-.3 .7 .6 .8zM77.3 85.3l0 .5 0-1.5 0 1zM76.5 83.8l.1 .3 .3-.3-.3-.7-.1 .7zM74.9 80.8l.3 .6 .4-.6-.4-.9-.3 .9zM152.5 74.9l1.1 .4 1.5-.3 1.6-.8 1.5-1.5-1-1.5 0-3-1.4-2.1-.7 0-.8 .5-2.2 2.4 2.2 .7-2.3 3 .5 2.2zM152.7 63.8l.9 .5 1.5 .1 .7-.6-.3-.8-1.9-.5-.8 .5-.1 .8zM147.4 63l.5 .4 .3-.4-.3-.4-.5 .4zM187.4 53.4l2.9-.2 2.9 .5 2-.3 .4-.8-3.1-1.8-3.6 1-3.6 .3 0 .7 2.1 .6zM189.4 48.2l.9 .3 2.2-.5 1.2-1.3-1.2-1.1-2.9-.2-.7 .2-.8 1.1 .2 .7 1.1 .8zM185.9 43.7l1.5 .2 1.5-.6 .8-1.1-.1-1.4-2.2-1-2.1 .4-.7 .7-.1 1.3 1.4 1.5z" fill="#6ab4d0"/>
<path d="M5.9 145.4l13.8 .5 16.6-.6 10.1 .5 4-.4 2.5-.7-.1-.7-.7-.3-4.3-.7-12.2 .4-14.4-.5-17.3 .7-3.3 .4-.1 .7 5.4 .7zM68.8 144l.7 0 .8-.8-2.3 0 .8 .8zM100.7 143.2l12.6 .5 18.7-.7 22.3 .8 9.1-.6 .9-.7-5.3-.8-6.1-.1-22.3 .7-21.6-.6-9.8 .8 1.5 .7zM246.5 138.8l1.4 .1 .7-.5 1-1.9-.2-2-1.5-1.1-1.4 .3-.9 1.4-.1 2.2 1 1.5zM176.9 137.3l4.1-.2 3.1-1.3 1.3-1.5 .5-1.5 0-1.5-.6-1.3-2.2-.8-4.3-.3-10.1 .6-15.8 0-11.5 1.1-.1 .7 6.4 .8 19.6 .3 2.2 .7 4.3 3.3 3.1 .9zM52.3 132.8l9.2 .1 1-.1 .3-.7-10.8 0 .3 .7zM221.4 130.6l7.8 .1 7.9-.5 3.6-.7 1.5-1.1-.3-.8-1.6-.7-7.5-1.2-32.4-.2-6.6 .6-2.3 .8-1.3 .7-.2 .8 2.5 .9 7.2 .8 21.7 .5zM80.1 106.1l.8-.2 .1-.5-.1-1.1-.7-.9-.5 1.2 .4 1.5zM151.1 94.2l1.1 .6 .7-.3 .7-1.5-.7-.4-1.4 .9-.4 .7zM80.6 93.5l.3 .4 .2-1.9-.9-2.7-.4 .5 .8 3.7zM153.4 74.2l2.4-.1 1-.7 .2-.7-.4-1.5 .3-2.2-.4-.9-1.4-.9-.3 .3 .5 2.2-2.3 3-.2 .7 .6 .8zM187 52.6l1.2 0-1.2 0zM190.1 52.6l2.4 .7 1.4-.7-.7-1.1-1.4-.4-1.5 .8-.2 .7zM190 48.2l2.5-.4 1-1.1-1-.9-2.9-.2-1.3 1.1 .3 .7 1.4 .8zM185.1 43l1.6 .7 1.5-.2 1.3-1.3 .1-.7-.3-.7-1.1-.7-2.2 0-1.2 .7-.2 .6 .5 1.6z" fill="#5a9cc8"/>
<path d="M9.7 145.4l12.9 .2 13.7-.7 10.1 .6 4.9-.8-.1-.7-4.1-.7-10.8 .5-15.9-.7-15.1 .6-2.1 .3-.3 .7 6.8 .7zM150.3 143.2l4.8 0 3.2-.7-11.9 0 3.9 .7zM108.4 142.5l4.2 .3 3.8-.3-8 0zM246.5 138l1.4 .3 1.3-1.8-.1-1.4-1.2-1.1-1.3 .3-.6 .8-.2 1.4 .7 1.5zM175.5 136.5l4 .4 3.6-1.1 1.8-2.2-.2-2.3-2.3-1.4-3.6-.5-10.1 .9-12.9-.5-9.2 .8 .4 .7 5.9 .5 15.1-.1 2.2 .9 2.9 2.7 2.4 1.2zM218.9 129.9l13.9 .1 5-.8 1.4-.8-.5-.8-2.3-.7-7.9-.7-28.1 0-4.3 .5-2.2 .9 .3 .8 1.2 .4 5 .7 18.5 .4zM80.1 105.4l.1-1.1-.1 1.1zM154.1 72.7l1 .6 .9-.6-.2-.6-.7-.2-1 .8zM191.4 52.6l1.6 0-.1-.7-1.1-.3-.5 .3 .1 .7zM188.8 47.4l2.2 .6 1.5-.4 .8-.9-.9-.7-2.1-.4-1.4 .6-.3 .5 .2 .7zM185.3 43l1.4 .5 1.5-.2 1-1.1 .1-.7-1.1-1.2-2.2-.1-1 .6-.3 .7 .6 1.5z" fill="#4b96c8"/>
<path d="M16.6 145.4l16-.7-.3-.7-12.6-.7-14 .7-.5 .7 11.4 .7zM39.9 144.7l5.7 .4 4-.4-.2-.7-3.8-.4-5.3 .4-.4 .7zM246.5 137.3l1.4 .4 .7-.8 .3-1.1-1-1.2-1.4 .5 0 2.2zM174.8 135.8l3.3 .7 3.6-.5 2.2-1.7 .2-2.2-1.7-1.5-3.6-.7-5 .4-3 1 1.9 3 2.1 1.5zM154.1 130.6l2.4 .4 3-.4-5.4 0zM220 129.1l9.9 .4 3.8-.4 1.8-.7-1.3-.9-5.7-.6-13 .6-12.9-.5-4.1 .6 .7 .8 4.1 .5 10.8-.3 5.9 .5zM189.1 47.4l1.9 .5 1.4-.5 .6-.7-1.1-.7-1.6-.2-1.4 .7 .2 .9zM185.6 43l1.1 .3 1.5-.3 .9-1.5-.9-1-2.2-.1-1.1 1.1 .7 1.5z" fill="#2f76b8"/>
<path d="M7.7 144.7l10.6 .5 11.1-.5-.3-.7-10.1-.5-10.7 .5-.6 .7zM43.8 144.7l3.2 0-1.4-.7-.9 0-.9 .7zM246.8 136.5l.4 .5 .7-.1 .3-1.1-.3-.5-.7 0-.4 1.2zM176 135.8l2.8 .3 2.9-.7 1.8-1.8-.3-1.5-1.5-1.2-2.9-.5-3.6 .1-2.5 .8-.3 .8 .5 1.5 1.5 1.5 1.6 .7zM189.4 47.4l1.6 .3 1.7-1-.9-.6-1.6-.1-1.2 .7 .4 .7zM185.9 43l1.9 0 .9-.8 .1-.7-1.4-1.1-1.9 .4-.4 .7 .1 .7 .7 .8z" fill="#2a70b4"/>
<path d="M10.4 144.7l7.9 .3 8-.3-.3-.7-7-.3-7.8 .3-.8 .7zM175.3 135.1l2.8 .6 2.1-.2 2.2-1.2 .3-1.5-1-1.2-1.5-.6-2.1-.2-2.9 .3-1.4 .7-.3 1 .8 1.5 1 .8zM189.6 47.4l1.4 .2 1.4-.9-2.1-.6-1 .6 .3 .7zM186.7 43l1.7-.8 .2-.7-.7-.7-1.9-.1-.7 .7 .1 .8 1.3 .8z" fill="#2167ad"/>
<path d="M14.1 144.7l8.4 0-.9-.7-3.3-.1-2.9 .1-1.3 .7zM176.6 135.1l3.7 0 1.2-.8 .4-1.5-.6-.7-1.8-.8-3.6 .2-1.2 .6-.3 .7 .8 1.5 1.4 .8zM190.1 47.4l1 0 .9-.7-1.7-.3-.7 .3 .5 .7zM185.6 42.2l1.8 .5 .7-.5 .2-.7-.8-.7-1.2 0-.8 .7 .1 .7z" fill="#2b3a7a"/>
<path d="M176.2 134.3l1.9 .5 1.4-.1 1.5-.9 0-1-1.5-.9-2.9 0-1.2 .9 .1 .8 .7 .7zM190.1 46.7l.2 .3 1.2-.3-1.4 0zM185.9 42.2l1.5 .2 .6-.9-1.3-.6-1 .6 .2 .7z" fill="#1f2152"/>
<path d="M176.7 133.6l1.4 .6 1.8-.6-.2-.8-1.6-.4-1.3 .4-.1 .8zM186.4 42.2l.8 0 .4-.7-.9-.3-.7 .3 .4 .7z" fill="#1f2152"/>
<path d="M60.4 9.9L63.3 10.3L66.9 8.7L64.8 7.4L61.2 7.8L60.4 9.9M56.8 14.9L59.7 15.3L60.4 13.6L58.3 13.2L56.8 14.9M58.3 17.7L60.4 17.5L60.4 16.7L58.3 16.9L58.3 17.7M56.8 12.0L59.7 12.0L59.7 11.1L57.6 10.9L56.8 12.0M41.7 11.6L45.3 11.1L44.6 10.3L41.7 10.7L41.7 11.6M71.9 14.0L74.8 14.2L74.1 13.4L71.9 13.6L71.9 14.0M69.8 22.9L71.2 22.4L70.5 22.3L69.4 22.6L69.8 22.9M0.0 15.7L1.4 15.2L2.9 15.4L1.4 15.8L0.0 15.7M149.3 39.6L149.6 37.5L151.1 36.7L153.2 36.3L155.0 37.0L156.5 35.5L157.6 35.3L156.8 36.7L157.9 37.9L159.4 40.0L156.8 40.4L154.7 39.6L153.2 39.7L151.8 40.3L150.4 40.3L149.3 39.6M163.1 37.4L163.7 36.5L164.8 35.9L166.6 35.5L167.6 35.8L167.8 37.0L166.4 37.6L165.7 37.8L166.6 38.8L167.4 39.8L167.6 41.2L168.3 40.8L168.3 42.2L168.3 43.5L166.6 43.9L165.7 43.4L164.8 42.9L165.1 41.1L164.5 39.8L163.7 38.8L163.1 37.4M171.4 36.1L172.7 35.8L173.7 36.1L173.4 37.5L172.7 38.3L171.6 37.9L171.4 36.1M182.4 36.1L183.5 35.6L184.9 35.7L186.3 36.0L186.3 36.5L184.9 36.1L183.5 36.1L182.4 36.4L182.4 36.1M204.2 31.7L205.0 31.2L206.5 30.4L207.6 29.3L208.3 28.2L208.5 28.5L207.7 29.9L206.5 30.9L205.0 31.7L204.2 31.7M63.3 35.7L65.5 34.4L67.6 34.0L68.7 35.6L66.9 35.9L63.3 35.7M66.3 39.8L66.5 37.9L67.3 36.5L68.3 36.3L67.5 37.9L67.3 39.4L66.3 39.8M69.1 36.3L70.1 38.8L70.7 37.5L71.9 37.5L71.2 36.4L69.1 36.3M69.4 39.8L71.2 39.4L72.7 38.9L71.9 39.2L69.8 39.6L69.4 39.8M72.1 38.5L74.7 38.4L74.5 37.8L72.7 38.1L72.1 38.5M39.6 20.5L42.4 19.0L44.6 19.4L43.2 20.2L41.0 20.6L39.6 20.5M45.3 23.8L47.5 22.7L50.0 22.5L48.2 23.3L46.0 24.0L45.3 23.8M59.7 32.6L59.4 31.4L58.6 29.9L59.0 30.1L60.1 31.4L60.1 32.5L59.7 32.6M49.3 25.8L51.1 25.2L52.9 25.4L51.1 25.6L49.3 25.8M152.4 74.7L153.2 74.0L154.0 74.2L154.3 75.1L153.6 76.4L152.5 76.3L152.3 75.5L152.4 74.7M150.5 77.0L150.8 78.8L151.4 80.4L151.8 81.4L151.4 81.1L150.6 79.6L150.4 78.0L150.5 77.0M154.0 82.1L154.4 83.3L154.7 85.0L154.9 86.0L154.5 85.4L154.2 84.1L154.0 82.1M163.3 7.8L166.9 7.5L171.2 7.4L174.8 7.8L171.2 8.1L165.5 8.2L163.3 7.8M85.3 116.5L87.9 116.7L87.4 117.4L85.6 117.3L85.3 116.5M17.3 57.6L18.0 57.8L18.1 58.3L17.4 58.7L17.3 57.6M102.2 118.8L103.6 119.0L103.2 119.3L102.2 118.8M8.6 20.1L11.2 19.4L13.0 19.7L11.9 18.6L9.7 17.9L12.2 16.7L16.5 15.8L16.9 15.4L20.1 15.8L23.0 16.3L28.1 16.7L31.7 17.3L33.1 16.8L36.0 16.5L38.1 16.3L40.3 17.0L43.2 17.3L46.8 17.7L50.4 18.1L53.2 17.7L56.8 18.3L59.0 18.3L60.4 17.7L61.2 15.0L63.3 16.5L65.5 17.5L68.3 16.7L70.5 19.0L67.6 19.4L66.9 21.0L64.4 21.9L61.9 23.9L61.5 25.6L63.0 27.2L66.2 28.1L68.3 28.6L70.3 30.7L71.9 31.8L72.7 29.3L74.1 27.6L73.7 26.0L73.4 24.3L73.7 22.7L77.0 23.1L79.1 23.9L80.6 26.0L82.7 24.8L83.1 24.5L84.9 26.8L86.3 28.5L88.5 30.1L89.2 31.4L86.3 32.8L82.7 32.9L80.6 33.8L78.4 35.6L82.7 34.4L83.1 33.8L83.3 34.6L83.1 36.1L85.6 36.6L86.3 36.3L84.2 37.5L82.0 38.4L82.0 37.1L81.3 37.5L79.1 38.2L78.8 39.8L78.4 40.0L76.3 40.8L76.3 42.1L75.2 42.5L74.8 43.7L75.2 45.2L74.1 45.8L72.7 46.6L71.2 48.3L71.1 49.9L71.9 52.1L71.6 53.5L70.6 52.4L69.9 51.1L69.8 49.9L68.7 49.5L67.6 49.2L65.5 49.3L65.1 50.3L64.0 50.1L61.9 49.8L59.6 51.3L59.4 53.2L59.1 55.7L60.4 58.2L61.5 59.2L63.7 58.9L64.4 56.9L66.9 56.5L66.4 59.0L66.0 61.0L68.3 61.1L69.6 61.9L69.3 65.2L70.5 66.8L72.3 66.4L73.7 67.1L74.8 66.4L75.2 65.6L76.3 65.0L77.7 64.4L78.1 65.3L79.1 64.4L80.6 65.5L83.5 65.5L84.9 65.4L85.6 66.8L87.1 67.7L88.5 69.3L91.4 69.6L92.8 71.0L93.5 73.0L94.2 74.2L95.0 75.1L97.8 76.3L100.0 76.6L101.8 77.4L104.2 78.8L104.5 80.4L104.2 81.7L102.9 83.3L101.6 85.0L101.4 88.7L100.7 90.8L100.0 92.4L98.6 93.2L97.1 93.7L95.0 95.3L94.5 97.3L93.5 99.0L92.1 100.7L91.0 102.3L89.9 103.1L88.5 103.1L88.1 104.4L88.1 105.6L84.9 106.4L84.5 108.1L82.7 108.1L83.5 109.3L82.7 111.4L80.9 112.6L82.0 113.9L80.6 115.5L80.2 117.4L79.1 118.0L80.2 119.2L82.4 119.6L80.6 120.0L78.4 119.2L76.6 118.0L75.5 115.5L75.2 113.0L76.3 110.5L76.6 108.1L76.6 104.8L77.7 102.3L78.1 99.0L78.4 96.5L78.8 93.2L79.0 89.5L77.7 88.3L75.5 87.0L74.6 85.4L73.4 82.5L72.3 80.0L71.0 78.4L71.6 76.7L71.9 75.9L71.6 74.7L71.9 73.4L72.8 73.0L73.7 71.4L73.9 68.9L73.4 68.1L72.3 67.2L71.6 68.1L70.1 67.5L67.8 66.0L67.8 65.0L66.5 63.5L63.7 62.7L61.9 61.0L60.1 61.3L57.6 60.2L54.7 58.6L53.6 57.3L53.7 55.7L51.8 53.2L49.6 51.1L48.3 48.3L47.1 48.3L47.3 49.5L48.2 50.7L50.0 54.0L50.7 55.3L50.0 54.9L48.9 53.6L47.5 51.1L46.4 49.1L45.3 47.4L44.2 46.2L42.7 45.7L41.7 43.7L41.4 42.9L40.5 41.7L40.1 40.8L40.3 38.8L40.3 36.3L39.8 34.3L41.0 34.5L40.6 33.4L38.1 32.2L37.4 30.9L36.0 29.3L33.8 27.2L32.0 26.0L30.6 25.7L28.8 25.0L26.3 24.8L24.1 24.2L22.7 24.8L21.6 25.2L20.5 25.4L19.1 26.6L17.3 27.2L15.5 28.1L13.7 28.5L11.5 29.0L13.7 27.6L15.8 26.0L13.3 25.9L13.0 24.8L10.8 24.2L11.2 22.3L13.7 21.0L10.8 21.0L8.6 20.1M77.0 9.9L80.6 11.4L87.8 12.0L89.9 14.9L91.4 17.3L90.6 19.8L92.8 21.9L95.0 23.9L97.8 24.9L99.3 23.9L100.7 20.6L102.9 20.2L106.5 18.1L111.5 16.5L113.7 14.9L115.1 12.4L116.5 10.7L115.8 8.2L118.7 7.0L111.5 5.8L104.3 5.4L93.5 6.2L86.3 6.6L82.7 7.4L79.1 8.7L77.0 9.9M84.9 19.4L83.5 21.4L82.4 22.7L80.6 22.3L77.7 21.4L75.5 21.0L73.4 21.0L77.0 19.0L77.7 17.7L74.1 16.9L71.9 16.5L68.3 16.3L65.5 15.7L69.1 13.6L73.4 14.4L75.5 14.4L78.4 15.7L81.3 16.9L84.2 18.6L84.9 19.4M44.6 15.7L45.3 14.0L50.4 14.0L56.1 14.4L56.8 16.5L54.0 17.3L46.8 17.3L44.6 15.7M39.6 14.9L40.6 12.8L44.6 13.2L44.6 14.9L39.6 15.3L39.6 14.9M71.9 10.7L77.0 9.1L82.7 7.4L84.9 6.2L77.7 5.8L64.8 7.0L63.3 9.1L66.2 10.7L71.9 10.7M71.9 12.8L64.8 12.8L62.6 11.6L68.3 10.7L71.9 11.6L71.9 12.8M46.0 12.4L54.0 12.0L54.0 11.1L48.9 11.1L45.3 11.6L46.0 12.4M63.3 14.9L61.2 14.4L61.2 13.2L64.0 13.2L63.3 14.9M67.6 21.9L71.6 21.6L69.8 20.2L67.3 20.0L67.6 21.9M86.7 35.0L89.6 31.7L89.6 33.4L91.4 34.2L91.4 35.7L89.2 35.0L86.7 35.0M0.0 17.4L4.3 19.0L7.4 19.7L6.5 20.3L5.0 21.2L2.9 20.4L0.0 20.6M259.0 20.6L256.8 20.8L257.9 21.0L258.3 22.7L256.8 22.7L254.7 23.3L253.6 23.9L251.8 24.8L249.3 24.4L247.8 24.9L247.0 26.4L246.4 28.1L244.6 29.3L243.5 30.5L242.2 32.2L241.7 28.1L242.8 26.4L244.6 23.9L243.2 23.1L241.0 23.5L241.0 25.3L238.9 25.6L236.3 25.3L233.8 25.3L230.9 26.0L228.4 27.6L226.8 29.1L228.4 29.7L231.3 30.5L230.6 31.8L230.6 34.2L228.8 36.3L227.0 38.0L225.2 38.9L223.5 39.4L222.8 40.4L221.8 42.5L222.7 44.1L222.5 45.2L221.2 45.8L220.4 45.4L220.5 43.3L219.6 42.9L218.9 41.2L217.3 41.7L216.7 42.1L216.6 40.6L214.4 41.9L214.4 42.5L215.1 43.6L216.6 43.1L217.6 43.7L216.2 44.4L215.3 45.4L216.2 46.2L216.6 47.9L217.1 48.8L216.2 51.1L215.5 52.8L214.8 54.0L213.3 55.4L211.2 55.9L209.4 56.5L208.5 56.5L207.2 56.5L206.1 57.3L205.5 58.7L206.5 60.2L207.8 61.5L208.1 63.1L207.9 64.8L206.1 66.4L205.0 67.2L204.7 65.7L203.6 65.2L203.2 64.4L202.2 63.9L201.4 63.3L200.9 66.0L201.8 67.7L203.0 69.1L204.0 70.5L204.5 73.0L204.0 73.2L201.8 71.1L200.2 67.7L200.4 66.4L200.4 63.1L199.6 60.6L197.3 61.0L197.3 59.4L195.9 57.2L195.5 55.9L194.6 55.7L193.5 56.1L192.1 56.5L190.7 58.2L188.7 60.2L187.2 61.5L187.3 63.1L186.9 65.8L185.8 66.8L185.3 67.6L184.2 66.0L183.1 63.1L182.4 61.0L181.9 58.6L181.7 56.5L180.2 57.1L179.1 55.9L179.9 55.6L178.8 54.9L177.3 53.3L173.7 53.5L170.9 53.0L170.5 52.0L168.7 52.4L166.6 51.3L165.5 49.3L164.0 49.5L164.4 50.7L165.5 52.4L166.6 52.8L166.6 54.0L168.3 54.4L169.8 53.8L170.1 52.6L171.6 54.7L172.5 55.8L171.6 57.3L170.5 58.7L169.1 60.2L166.9 61.4L164.4 62.7L161.9 63.7L160.7 63.8L160.3 61.9L159.0 59.0L157.6 56.1L156.1 53.2L154.7 51.1L154.5 49.9L154.0 51.1L152.9 49.5L153.6 51.6L155.0 54.6L156.0 56.1L156.5 59.0L157.9 61.5L160.7 64.5L161.2 65.6L164.0 65.0L166.3 64.5L166.3 65.6L164.4 69.7L162.6 72.4L160.4 74.2L159.0 75.9L157.7 78.4L157.8 80.8L158.6 83.3L158.6 86.6L156.1 88.7L154.5 90.8L154.9 92.4L155.0 94.0L153.1 95.7L152.9 97.8L151.1 99.8L149.3 101.5L147.8 102.3L145.7 102.3L143.9 103.0L142.8 102.5L142.7 101.1L141.7 98.6L140.4 96.5L139.9 92.8L138.0 88.3L138.1 85.4L139.0 81.7L138.3 79.2L137.8 77.1L136.0 75.1L136.3 73.4L136.3 71.8L135.6 70.5L133.8 70.7L132.7 69.1L130.9 69.1L128.8 70.1L126.6 70.0L124.1 70.6L121.6 68.6L120.1 66.8L118.7 65.2L117.4 63.9L116.9 62.1L118.0 59.4L117.3 56.9L118.0 54.9L120.1 51.6L122.3 50.3L122.7 47.9L124.8 46.2L125.5 44.7L128.1 45.2L129.5 44.7L133.1 43.9L136.3 43.5L137.4 43.7L136.7 45.8L137.4 46.9L140.7 48.3L143.2 49.1L143.9 47.9L147.5 48.0L151.1 48.4L152.7 48.5L154.1 48.4L154.7 47.0L155.4 45.4L155.4 44.1L152.9 44.5L151.1 44.4L149.3 43.7L148.6 42.9L148.6 41.2L148.2 40.6L146.0 41.0L146.8 42.7L146.0 42.9L145.7 44.1L144.6 42.9L143.5 41.2L143.5 39.6L142.1 38.8L140.3 37.5L139.4 36.6L138.3 36.9L139.2 38.4L141.0 40.0L142.8 41.2L141.7 42.1L141.0 42.9L140.8 41.2L138.5 40.0L137.1 38.8L136.0 37.7L134.9 38.1L133.1 38.5L131.7 38.5L131.7 39.6L129.9 40.8L129.1 41.7L129.5 42.4L128.1 43.9L125.5 44.5L125.2 44.1L123.2 43.7L122.7 42.1L123.2 40.4L122.8 38.8L123.7 38.2L126.6 38.4L128.4 38.4L128.6 36.3L127.7 35.2L126.3 34.2L128.1 34.2L128.8 33.4L130.6 33.0L130.9 32.2L132.4 31.6L133.1 30.5L134.5 30.3L135.6 30.1L135.3 28.5L135.6 27.1L136.7 26.8L137.1 28.1L137.4 29.7L139.6 29.7L143.5 29.4L144.6 28.5L144.6 27.2L145.7 26.4L146.8 25.2L149.6 25.2L151.1 24.8L149.6 24.3L146.0 24.8L145.0 24.3L145.0 23.1L147.5 20.6L145.7 20.0L144.6 21.4L142.1 23.9L142.5 25.6L141.0 27.6L139.6 28.5L138.5 28.1L137.8 26.4L136.7 25.6L135.3 26.4L133.8 26.4L133.1 25.6L133.1 23.1L136.7 21.9L138.1 20.6L138.9 19.0L141.0 17.3L143.9 16.5L147.5 15.7L151.1 16.5L154.7 17.2L159.0 18.6L156.8 19.5L154.0 19.8L156.1 21.4L158.3 21.0L159.0 19.6L161.2 19.4L161.9 17.7L165.5 18.4L169.1 18.0L172.7 17.5L177.7 17.7L178.4 16.5L179.9 14.0L183.5 14.4L187.1 13.6L187.8 14.4L191.4 13.2L192.8 12.2L197.8 11.6L201.4 11.1L204.3 10.1L205.0 10.3L210.1 11.6L210.8 13.4L215.8 14.0L219.4 13.6L221.6 14.4L223.0 15.7L226.6 15.3L230.2 14.4L233.8 14.6L237.4 15.3L241.0 15.7L244.6 16.1L248.2 16.8L251.8 16.5L256.1 16.7L259.0 17.3M125.5 33.0L130.6 32.2L130.7 30.8L129.5 30.1L128.4 28.9L128.1 27.2L127.0 25.9L125.9 25.9L125.2 27.2L125.5 28.5L127.3 29.3L127.3 30.2L126.3 30.3L125.9 31.6L127.3 31.9L125.5 33.0M125.2 31.4L125.2 29.7L124.1 28.6L122.3 29.7L122.3 31.4L123.7 31.8L125.2 31.4M113.7 21.4L112.2 20.2L113.7 19.5L118.0 19.4L119.8 20.6L118.7 21.3L115.8 21.9L113.7 21.4M137.4 9.5L141.0 8.2L148.9 8.2L145.3 10.3L140.3 10.7L137.4 9.5M166.9 15.3L169.8 13.6L171.9 12.0L178.4 10.9L175.5 12.4L170.5 14.9L169.1 15.9L166.9 15.3M198.6 9.5L201.4 8.7L204.3 9.1L201.4 7.4L198.6 8.2L198.6 9.5M228.1 13.2L231.7 13.6L236.7 12.4L233.8 11.6L230.2 11.6L228.1 13.2M223.7 46.2L224.8 45.0L227.0 45.0L227.7 43.6L229.1 43.0L230.2 41.2L230.2 40.1L231.3 40.2L231.7 42.1L230.9 42.9L230.7 44.5L230.1 45.4L229.1 45.6L227.9 45.8L226.6 46.6L224.8 46.2L223.7 46.2M223.0 46.6L224.1 46.8L224.1 48.3L223.4 48.7L222.9 47.4L223.0 46.6M230.2 39.6L231.3 36.9L234.2 38.5L232.7 39.6L230.9 40.0L230.2 39.6M231.7 36.3L232.7 35.9L232.4 33.8L233.5 33.8L232.4 29.5L232.0 30.1L231.7 32.2L231.5 34.6L231.7 36.3M216.0 55.7L216.6 53.4L217.3 53.6L216.4 56.2L216.0 55.7M207.6 58.4L209.0 57.8L209.4 58.1L208.3 59.2L207.6 58.4M215.8 62.3L216.2 59.0L217.4 59.0L217.3 61.0L218.7 63.5L217.3 62.9L216.2 62.7L215.8 62.3M217.3 68.5L218.4 67.7L219.8 66.4L220.5 68.5L219.8 69.5L218.7 68.9L217.3 68.5M207.9 73.0L208.6 75.5L209.4 76.7L211.9 77.5L213.3 76.3L213.0 74.2L214.4 73.4L215.1 70.1L213.7 68.5L213.0 68.9L212.2 70.1L211.2 71.0L209.4 72.6L208.3 72.6L207.9 73.0M198.2 69.7L199.6 70.0L201.8 72.6L203.6 74.2L204.7 75.5L205.8 76.9L205.8 79.0L204.7 79.0L202.9 77.6L201.8 75.1L200.4 72.8L198.6 71.0L198.2 69.7M205.4 79.9L207.2 79.4L209.4 79.6L211.9 80.6L211.9 81.4L208.6 81.0L205.8 80.3L205.4 79.9M215.5 78.8L215.1 76.7L215.5 74.2L215.8 73.6L218.0 73.4L219.4 73.0L218.0 73.9L216.6 73.8L216.9 75.1L218.4 75.1L216.9 75.9L217.6 78.0L216.6 78.4L216.2 76.7L216.2 78.8L215.5 78.8M223.7 75.5L225.9 74.9L227.0 77.0L228.8 75.7L230.9 76.4L233.8 78.0L234.9 79.2L236.0 80.8L237.4 82.7L235.3 82.5L233.8 80.8L232.7 81.7L230.9 81.8L229.5 80.8L228.8 81.2L228.6 78.4L225.9 77.4L224.5 76.6L223.7 75.5M211.2 92.4L211.5 95.7L212.2 98.6L212.7 101.9L212.2 102.5L214.3 103.1L216.6 102.1L218.7 101.5L220.2 100.9L222.3 100.4L224.1 100.2L225.9 101.3L227.2 103.0L228.4 101.5L228.6 103.6L230.2 105.2L232.7 106.3L234.8 106.5L236.0 105.4L237.4 105.1L238.1 102.3L239.6 99.8L239.9 97.3L239.6 94.9L238.1 93.6L237.1 92.6L234.8 89.9L234.1 87.5L232.7 85.8L232.0 83.1L231.4 85.0L231.3 87.9L230.2 88.9L228.4 87.5L227.0 86.6L227.9 84.3L224.8 83.7L223.7 84.3L222.7 86.5L221.2 85.8L219.8 86.2L218.4 87.9L217.4 89.1L216.6 90.4L214.8 91.0L213.3 91.3L211.9 92.2L211.2 92.4M233.8 107.9L236.2 108.0L236.0 109.7L234.9 110.2L234.0 109.1L233.8 107.9M253.7 102.7L255.0 104.4L255.8 104.8L257.9 105.4L256.8 106.7L256.1 108.3L255.3 108.3L255.0 106.8L254.5 106.6L255.0 105.6L253.7 102.7M253.7 107.7L254.9 108.5L254.0 110.1L252.5 111.4L251.1 112.7L249.3 112.2L250.4 110.5L252.2 109.7L253.2 108.5L253.7 107.7M165.0 84.1L165.8 87.0L165.1 88.3L164.0 92.4L163.4 94.8L161.9 95.3L160.8 93.6L160.7 92.0L161.4 89.1L161.2 87.9L163.0 87.0L163.7 86.2L165.0 84.1M186.9 68.5L187.1 66.2L188.1 67.2L188.4 68.9L187.4 69.3L186.9 68.5M68.3 56.3L70.5 55.1L71.9 55.3L74.1 56.5L76.1 57.6L73.7 57.9L73.4 57.2L71.2 56.3L69.8 56.5L68.3 56.3M75.9 59.2L77.1 57.8L79.1 58.0L80.3 58.9L78.4 59.4L76.0 59.2M0.0 143.7L14.4 144.0L23.0 143.8L24.1 141.9L22.3 140.7L18.0 139.6L12.2 138.8L15.8 138.4L21.6 138.0L25.2 137.2L28.8 136.5L32.4 135.8L36.0 135.5L39.6 135.1L43.2 135.1L46.8 135.3L50.4 135.7L54.0 135.5L57.6 134.9L61.2 134.3L64.8 134.3L68.3 134.5L71.9 134.6L74.8 134.3L77.7 133.2L80.6 130.3L82.0 128.7L84.2 127.5L88.5 126.4L86.3 127.5L84.9 128.7L84.2 130.8L84.9 132.4L84.2 134.5L82.7 136.5L84.2 137.8L89.9 139.3L97.1 139.1L102.2 138.2L105.8 137.0L110.1 136.0L115.1 134.5L118.7 133.7L122.3 132.8L125.9 132.6L129.5 132.4L133.1 132.2L136.7 132.0L140.3 131.8L143.9 131.8L147.5 132.0L151.1 131.6L154.7 131.2L158.3 131.0L161.9 130.1L165.5 129.1L169.1 128.7L172.7 129.5L176.3 129.9L179.9 130.3L181.3 132.0L183.5 131.6L187.1 129.9L190.7 129.4L194.2 129.1L197.8 128.7L201.4 128.7L205.0 128.9L208.6 128.7L212.2 129.4L215.8 129.3L219.4 129.1L223.0 128.9L226.6 128.7L230.2 129.4L233.8 129.9L237.4 130.8L241.0 131.2L244.6 132.0L248.2 132.8L251.8 133.7L251.1 134.9L247.5 136.5L246.8 137.8L249.6 138.6L251.8 140.2L254.0 142.3L259.0 143.7" fill="none" stroke="#000" stroke-width="0.85" stroke-linejoin="round"/>
</g>
<path d="M0.00 0V-5M0.00 148.5V153.5M43.17 0V-5M43.17 148.5V153.5M86.33 0V-5M86.33 148.5V153.5M129.50 0V-5M129.50 148.5V153.5M172.67 0V-5M172.67 148.5V153.5M215.83 0V-5M215.83 148.5V153.5M259.00 0V-5M259.00 148.5V153.5M0 148.50H-5M259.0 148.50H264.0M0 123.75H-5M259.0 123.75H264.0M0 99.00H-5M259.0 99.00H264.0M0 74.25H-5M259.0 74.25H264.0M0 49.50H-5M259.0 49.50H264.0M0 24.75H-5M259.0 24.75H264.0M0 0.00H-5M259.0 0.00H264.0" stroke="#222" stroke-width="1.1" fill="none"/>
<path d="M7.19 0V-2.6M7.19 148.5V151.1M14.39 0V-2.6M14.39 148.5V151.1M21.58 0V-2.6M21.58 148.5V151.1M28.78 0V-2.6M28.78 148.5V151.1M35.97 0V-2.6M35.97 148.5V151.1M50.36 0V-2.6M50.36 148.5V151.1M57.56 0V-2.6M57.56 148.5V151.1M64.75 0V-2.6M64.75 148.5V151.1M71.94 0V-2.6M71.94 148.5V151.1M79.14 0V-2.6M79.14 148.5V151.1M93.53 0V-2.6M93.53 148.5V151.1M100.72 0V-2.6M100.72 148.5V151.1M107.92 0V-2.6M107.92 148.5V151.1M115.11 0V-2.6M115.11 148.5V151.1M122.31 0V-2.6M122.31 148.5V151.1M136.69 0V-2.6M136.69 148.5V151.1M143.89 0V-2.6M143.89 148.5V151.1M151.08 0V-2.6M151.08 148.5V151.1M158.28 0V-2.6M158.28 148.5V151.1M165.47 0V-2.6M165.47 148.5V151.1M179.86 0V-2.6M179.86 148.5V151.1M187.06 0V-2.6M187.06 148.5V151.1M194.25 0V-2.6M194.25 148.5V151.1M201.44 0V-2.6M201.44 148.5V151.1M208.64 0V-2.6M208.64 148.5V151.1M223.03 0V-2.6M223.03 148.5V151.1M230.22 0V-2.6M230.22 148.5V151.1M237.42 0V-2.6M237.42 148.5V151.1M244.61 0V-2.6M244.61 148.5V151.1M251.81 0V-2.6M251.81 148.5V151.1M0 140.25H-2.6M259.0 140.25H261.6M0 132.00H-2.6M259.0 132.00H261.6M0 115.50H-2.6M259.0 115.50H261.6M0 107.25H-2.6M259.0 107.25H261.6M0 90.75H-2.6M259.0 90.75H261.6M0 82.50H-2.6M259.0 82.50H261.6M0 66.00H-2.6M259.0 66.00H261.6M0 57.75H-2.6M259.0 57.75H261.6M0 41.25H-2.6M259.0 41.25H261.6M0 33.00H-2.6M259.0 33.00H261.6M0 16.50H-2.6M259.0 16.50H261.6M0 8.25H-2.6M259.0 8.25H261.6" stroke="#333" stroke-width="0.85" fill="none"/>
<rect x="0" y="0" width="259.0" height="148.5" fill="none" stroke="#222" stroke-width="1.15"/>
<g font-size="11.5" fill="#000"><text transform="translate(-11.40,4.20) scale(0.835,1)" text-anchor="end">90N</text><text transform="translate(-11.40,28.95) scale(0.835,1)" text-anchor="end">60N</text><text transform="translate(-11.40,53.70) scale(0.835,1)" text-anchor="end">30N</text><text transform="translate(-11.40,78.45) scale(0.835,1)" text-anchor="end">0</text><text transform="translate(-11.40,103.20) scale(0.835,1)" text-anchor="end">30S</text><text transform="translate(-11.40,127.95) scale(0.835,1)" text-anchor="end">60S</text><text transform="translate(-11.40,152.70) scale(0.835,1)" text-anchor="end">90S</text><text transform="translate(0.00,168.50) scale(0.835,1)" text-anchor="middle">180</text><text transform="translate(43.17,168.50) scale(0.835,1)" text-anchor="middle">120W</text><text transform="translate(86.33,168.50) scale(0.835,1)" text-anchor="middle">60W</text><text transform="translate(129.50,168.50) scale(0.835,1)" text-anchor="middle">0</text><text transform="translate(172.67,168.50) scale(0.835,1)" text-anchor="middle">60E</text><text transform="translate(215.83,168.50) scale(0.835,1)" text-anchor="middle">120E</text><text transform="translate(259.00,168.50) scale(0.835,1)" text-anchor="middle">180</text></g>
</g>
<text x="2.3" y="205.7" font-size="14" fill="#000">(b)</text>
<g transform="translate(50.0,406.56)">
<clipPath id="clipc"><rect x="0" y="0" width="259.0" height="148.9"/></clipPath>
<g clip-path="url(#clipc)">
<path d="M13.1 141.4l1.6 .3 15.1-4.2 29.7-6.6 1.3-.6 .7-1 0-2.8-1.2-1.5-1.7-.4-29 6.3-15.6 4.5-1.5 .8-.8 1.4 .1 2.3 1.3 1.5zM90.1 140.6l1.6 .5 1.4-.1 1-.4 .1-.7-1.8-.6-1.4 .1-1 .5 .1 .7zM94.5 92.2l1.5 .2 2-.9 .5-1.5-.9-1.5-2.3-.6-1.4 .5-.8 .8-.1 1.5 1.5 1.5zM192.7 47.6l1.2 .2 .9-1-.2-1.4-.7-.6-1.4 .5-.3 1.5 .5 .8zM190.7 29l1.8 .4 2.1-.5 1.5-1.2 .8-1.7 .2-2.3-.4-1.4-1.3-1.9-1.5-.8-33.1-10-20.1-4.9-6.5 .8-12.3-1.3-1.4 .9-.4 .8-.1 2.2 .5 .9 1.4 .9 11.6 1.4 5.7 3.5 19.5 4.5 32 9.7zM257.5 22.3l1.2-.1 0-3.6-1.4 .4-.8 1 .2 1.5 .8 .8zM.3 21.5l1.4-1.7 2.9 1.4 3.5-.4 1.6-1.5-.1-1.5-2.1-1.6-3.6 .1-1.4 .7-1.5 2-.7-.3 0 2.8zM79.6 18.5l4.9 .8 2.2-.7 1.2-2.3-.5-2.7-1.1-1-1.1-.4-17.2-2.5-13-.4-1.4 .7-1.2 1.8-.1 1.5 .5 1.5 .8 .9 1.4 .7 13 .4 11.6 1.7zM77.5 6.6l37.2 .3 1.5-.4 .6-1.4-.6-1.7-1.5-.4-45.1-.1-.6 .7-.1 1.5 1.2 1.4 7.4 .1z" fill="#fcd8d8"/>
<path d="M138.8 12.6l2.6 .1 1.9-1.6 .4-1.5-.2-1.5-1.1-1.5-1-.6-2.2-.2-2.1 .3-1.4 .5-1.2 1.5-.1 1.5 .4 .7 2 1.5 2 .8z" fill="#fcb4a8"/>
<path d="M137.7 11.1l2.2 .4 1.5-.2 1-1.7-.3-1.7-1.4-1-2.2 0-1.1 .5-.9 2.2 .3 .7 .9 .8z" fill="#f88c78"/>
<path d="M60.4 9.9L63.3 10.3L66.9 8.7L64.8 7.4L61.2 7.9L60.4 9.9M56.8 14.9L59.7 15.3L60.4 13.6L58.3 13.2L56.8 14.9M58.3 17.8L60.4 17.5L60.4 16.7L58.3 17.0L58.3 17.8M56.8 12.0L59.7 12.0L59.7 11.2L57.6 10.9L56.8 12.0M41.7 11.6L45.3 11.2L44.6 10.3L41.7 10.8L41.7 11.6M71.9 14.1L74.8 14.2L74.1 13.4L71.9 13.6L71.9 14.1M69.8 23.0L71.2 22.5L70.5 22.3L69.4 22.7L69.8 23.0M0.0 15.7L1.4 15.2L2.9 15.5L1.4 15.8L0.0 15.7M149.3 39.7L149.6 37.6L151.1 36.8L153.2 36.4L155.0 37.1L156.5 35.6L157.6 35.4L156.8 36.8L157.9 38.1L159.4 40.1L156.8 40.5L154.7 39.7L153.2 39.8L151.8 40.4L150.4 40.4L149.3 39.7M163.1 37.5L163.7 36.6L164.8 36.0L166.6 35.6L167.6 35.9L167.8 37.1L166.4 37.7L165.7 37.9L166.6 38.9L167.4 39.9L167.6 41.4L168.3 40.9L168.3 42.3L168.3 43.6L166.6 44.0L165.7 43.5L164.8 43.0L165.1 41.2L164.5 39.9L163.7 38.9L163.1 37.5M171.4 36.1L172.7 35.9L173.7 36.2L173.4 37.6L172.7 38.4L171.6 38.1L171.4 36.1M182.4 36.2L183.5 35.7L184.9 35.8L186.3 36.1L186.3 36.6L184.9 36.2L183.5 36.1L182.4 36.5L182.4 36.2M204.2 31.8L205.0 31.3L206.5 30.4L207.6 29.4L208.3 28.3L208.5 28.5L207.7 29.9L206.5 31.0L205.0 31.8L204.2 31.8M63.3 35.8L65.5 34.5L67.6 34.1L68.7 35.7L66.9 36.0L63.3 35.8M66.3 40.0L66.5 38.1L67.3 36.6L68.3 36.4L67.5 38.1L67.3 39.5L66.3 40.0M69.1 36.4L70.1 38.9L70.7 37.6L71.9 37.6L71.2 36.5L69.1 36.4M69.4 40.0L71.2 39.5L72.7 39.0L71.9 39.3L69.8 39.7L69.4 40.0M72.1 38.6L74.7 38.5L74.5 37.9L72.7 38.2L72.1 38.6M39.6 20.5L42.4 19.0L44.6 19.4L43.2 20.3L41.0 20.7L39.6 20.5M45.3 23.8L47.5 22.7L50.0 22.6L48.2 23.3L46.0 24.1L45.3 23.8M59.7 32.7L59.4 31.4L58.6 29.9L59.0 30.2L60.1 31.4L60.1 32.6L59.7 32.7M49.3 25.9L51.1 25.2L52.9 25.5L51.1 25.6L49.3 25.9M152.4 74.9L153.2 74.2L154.0 74.5L154.3 75.3L153.6 76.6L152.5 76.5L152.3 75.7L152.4 74.9M150.5 77.2L150.8 79.0L151.4 80.7L151.8 81.6L151.4 81.3L150.6 79.8L150.4 78.2L150.5 77.2M154.0 82.3L154.4 83.5L154.7 85.2L154.9 86.3L154.5 85.6L154.2 84.4L154.0 82.3M163.3 7.9L166.9 7.5L171.2 7.4L174.8 7.8L171.2 8.1L165.5 8.2L163.3 7.9M85.3 116.8L87.9 117.1L87.4 117.7L85.6 117.6L85.3 116.8M17.3 57.7L18.0 57.9L18.1 58.5L17.4 58.8L17.3 57.7M102.2 119.1L103.6 119.3L103.2 119.6L102.2 119.1M8.6 20.2L11.2 19.4L13.0 19.8L11.9 18.6L9.7 18.0L12.2 16.7L16.5 15.8L16.9 15.5L20.1 15.9L23.0 16.3L28.1 16.8L31.7 17.4L33.1 16.9L36.0 16.5L38.1 16.3L40.3 17.0L43.2 17.4L46.8 17.8L50.4 18.2L53.2 17.7L56.8 18.4L59.0 18.4L60.4 17.8L61.2 15.1L63.3 16.5L65.5 17.5L68.3 16.7L70.5 19.0L67.6 19.4L66.9 21.1L64.4 21.9L61.9 24.0L61.5 25.6L63.0 27.3L66.2 28.1L68.3 28.7L70.3 30.8L71.9 31.8L72.7 29.4L74.1 27.7L73.7 26.1L73.4 24.4L73.7 22.7L77.0 23.2L79.1 24.0L80.6 26.1L82.7 24.8L83.1 24.6L84.9 26.9L86.3 28.5L88.5 30.2L89.2 31.4L86.3 32.9L82.7 33.0L80.6 33.9L78.4 35.7L82.7 34.5L83.1 33.9L83.3 34.7L83.1 36.2L85.6 36.7L86.3 36.4L84.2 37.6L82.0 38.5L82.0 37.2L81.3 37.6L79.1 38.3L78.8 39.9L78.4 40.1L76.3 40.9L76.3 42.2L75.2 42.6L74.8 43.8L75.2 45.3L74.1 45.9L72.7 46.7L71.2 48.4L71.1 50.0L71.9 52.3L71.6 53.6L70.6 52.5L69.9 51.3L69.8 50.0L68.7 49.6L67.6 49.3L65.5 49.4L65.1 50.5L64.0 50.2L61.9 50.0L59.6 51.5L59.4 53.4L59.1 55.8L60.4 58.3L61.5 59.4L63.7 59.1L64.4 57.1L66.9 56.7L66.4 59.1L66.0 61.2L68.3 61.3L69.6 62.0L69.3 65.4L70.5 67.0L72.3 66.6L73.7 67.3L74.8 66.6L75.2 65.8L76.3 65.2L77.7 64.5L78.1 65.5L79.1 64.5L80.6 65.7L83.5 65.7L84.9 65.6L85.6 67.0L87.1 67.8L88.5 69.5L91.4 69.8L92.8 71.1L93.5 73.2L94.2 74.5L95.0 75.3L97.8 76.5L100.0 76.8L101.8 77.6L104.2 79.0L104.5 80.7L104.2 81.9L102.9 83.5L101.6 85.2L101.4 88.9L100.7 91.0L100.0 92.6L98.6 93.5L97.1 94.0L95.0 95.5L94.5 97.6L93.5 99.3L92.1 100.9L91.0 102.6L89.9 103.4L88.5 103.4L88.1 104.6L88.1 105.9L84.9 106.7L84.5 108.4L82.7 108.4L83.5 109.6L82.7 111.7L80.9 112.9L82.0 114.2L80.6 115.8L80.2 117.7L79.1 118.3L80.2 119.5L82.4 119.9L80.6 120.4L78.4 119.5L76.6 118.3L75.5 115.8L75.2 113.3L76.3 110.8L76.6 108.4L76.6 105.1L77.7 102.6L78.1 99.3L78.4 96.8L78.8 93.5L79.0 89.8L77.7 88.5L75.5 87.3L74.6 85.6L73.4 82.7L72.3 80.2L71.0 78.6L71.6 76.9L71.9 76.1L71.6 74.9L71.9 73.6L72.8 73.2L73.7 71.6L73.9 69.1L73.4 68.2L72.3 67.4L71.6 68.2L70.1 67.7L67.8 66.2L67.8 65.2L66.5 63.7L63.7 62.9L61.9 61.2L60.1 61.5L57.6 60.4L54.7 58.7L53.6 57.5L53.7 55.8L51.8 53.4L49.6 51.3L48.3 48.4L47.1 48.4L47.3 49.6L48.2 50.9L50.0 54.2L50.7 55.4L50.0 55.0L48.9 53.8L47.5 51.3L46.4 49.2L45.3 47.6L44.2 46.3L42.7 45.8L41.7 43.8L41.4 43.0L40.5 41.8L40.1 40.9L40.3 38.9L40.3 36.4L39.8 34.4L41.0 34.6L40.6 33.5L38.1 32.3L37.4 31.0L36.0 29.4L33.8 27.3L32.0 26.1L30.6 25.8L28.8 25.1L26.3 24.8L24.1 24.2L22.7 24.8L21.6 25.2L20.5 25.5L19.1 26.6L17.3 27.3L15.5 28.1L13.7 28.5L11.5 29.1L13.7 27.7L15.8 26.1L13.3 26.0L13.0 24.8L10.8 24.2L11.2 22.3L13.7 21.1L10.8 21.1L8.6 20.2M77.0 9.9L80.6 11.4L87.8 12.0L89.9 14.9L91.4 17.4L90.6 19.9L92.8 21.9L95.0 24.0L97.8 25.0L99.3 24.0L100.7 20.7L102.9 20.3L106.5 18.2L111.5 16.5L113.7 14.9L115.1 12.4L116.5 10.8L115.8 8.3L118.7 7.0L111.5 5.8L104.3 5.4L93.5 6.2L86.3 6.6L82.7 7.4L79.1 8.7L77.0 9.9M84.9 19.4L83.5 21.5L82.4 22.7L80.6 22.3L77.7 21.5L75.5 21.1L73.4 21.1L77.0 19.0L77.7 17.8L74.1 17.0L71.9 16.5L68.3 16.4L65.5 15.7L69.1 13.6L73.4 14.5L75.5 14.5L78.4 15.7L81.3 17.0L84.2 18.6L84.9 19.4M44.6 15.7L45.3 14.1L50.4 14.1L56.1 14.5L56.8 16.5L54.0 17.4L46.8 17.4L44.6 15.7M39.6 14.9L40.6 12.8L44.6 13.2L44.6 14.9L39.6 15.3L39.6 14.9M71.9 10.8L77.0 9.1L82.7 7.4L84.9 6.2L77.7 5.8L64.8 7.0L63.3 9.1L66.2 10.8L71.9 10.8M71.9 12.8L64.8 12.8L62.6 11.6L68.3 10.8L71.9 11.6L71.9 12.8M46.0 12.4L54.0 12.0L54.0 11.2L48.9 11.2L45.3 11.6L46.0 12.4M63.3 14.9L61.2 14.5L61.2 13.2L64.0 13.2L63.3 14.9M67.6 21.9L71.6 21.7L69.8 20.3L67.3 20.1L67.6 21.9M86.7 35.1L89.6 31.8L89.6 33.5L91.4 34.3L91.4 35.8L89.2 35.1L86.7 35.1M0.0 17.5L4.3 19.0L7.4 19.8L6.5 20.3L5.0 21.3L2.9 20.4L0.0 20.7M259.0 20.7L256.8 20.8L257.9 21.1L258.3 22.7L256.8 22.7L254.7 23.3L253.6 24.0L251.8 24.8L249.3 24.5L247.8 25.0L247.0 26.5L246.4 28.1L244.6 29.4L243.5 30.6L242.2 32.3L241.7 28.1L242.8 26.5L244.6 24.0L243.2 23.2L241.0 23.6L241.0 25.4L238.9 25.6L236.3 25.4L233.8 25.4L230.9 26.1L228.4 27.7L226.8 29.2L228.4 29.8L231.3 30.6L230.6 31.8L230.6 34.3L228.8 36.4L227.0 38.1L225.2 39.0L223.5 39.5L222.8 40.5L221.8 42.6L222.7 44.3L222.5 45.3L221.2 45.9L220.4 45.5L220.5 43.4L219.6 43.0L218.9 41.4L217.3 41.8L216.7 42.2L216.6 40.7L214.4 42.0L214.4 42.6L215.1 43.7L216.6 43.3L217.6 43.8L216.2 44.5L215.3 45.5L216.2 46.3L216.6 48.0L217.1 49.0L216.2 51.3L215.5 52.9L214.8 54.2L213.3 55.5L211.2 56.1L209.4 56.7L208.5 56.7L207.2 56.7L206.1 57.5L205.5 58.9L206.5 60.4L207.8 61.6L208.1 63.3L207.9 64.9L206.1 66.6L205.0 67.3L204.7 65.8L203.6 65.4L203.2 64.5L202.2 64.0L201.4 63.4L200.9 66.2L201.8 67.8L203.0 69.3L204.0 70.7L204.5 73.2L204.0 73.4L201.8 71.3L200.2 67.8L200.4 66.6L200.4 63.3L199.6 60.8L197.3 61.2L197.3 59.6L195.9 57.3L195.5 56.0L194.6 55.8L193.5 56.3L192.1 56.7L190.7 58.3L188.7 60.4L187.2 61.6L187.3 63.3L186.9 65.9L185.8 67.0L185.3 67.7L184.2 66.2L183.1 63.3L182.4 61.2L181.9 58.7L181.7 56.7L180.2 57.2L179.1 56.0L179.9 55.8L178.8 55.0L177.3 53.4L173.7 53.6L170.9 53.2L170.5 52.1L168.7 52.5L166.6 51.5L165.5 49.5L164.0 49.6L164.4 50.9L165.5 52.5L166.6 52.9L166.6 54.2L168.3 54.5L169.8 53.9L170.1 52.7L171.6 54.8L172.5 55.9L171.6 57.5L170.5 58.9L169.1 60.4L166.9 61.5L164.4 62.9L161.9 63.9L160.7 63.9L160.3 62.0L159.0 59.1L157.6 56.3L156.1 53.4L154.7 51.3L154.5 50.0L154.0 51.3L152.9 49.6L153.6 51.7L155.0 54.8L156.0 56.3L156.5 59.1L157.9 61.6L160.7 64.7L161.2 65.8L164.0 65.2L166.3 64.7L166.3 65.8L164.4 69.9L162.6 72.5L160.4 74.5L159.0 76.1L157.7 78.6L157.8 81.1L158.6 83.5L158.6 86.9L156.1 88.9L154.5 91.0L154.9 92.6L155.0 94.3L153.1 96.0L152.9 98.0L151.1 100.1L149.3 101.7L147.8 102.6L145.7 102.6L143.9 103.2L142.8 102.7L142.7 101.3L141.7 98.9L140.4 96.8L139.9 93.1L138.0 88.5L138.1 85.6L139.0 81.9L138.3 79.4L137.8 77.3L136.0 75.3L136.3 73.6L136.3 72.0L135.6 70.7L133.8 70.9L132.7 69.3L130.9 69.2L128.8 70.3L126.6 70.1L124.1 70.8L121.6 68.8L120.1 67.0L118.7 65.4L117.4 64.1L116.9 62.3L118.0 59.6L117.3 57.1L118.0 55.0L120.1 51.7L122.3 50.5L122.7 48.0L124.8 46.3L125.5 44.8L128.1 45.3L129.5 44.8L133.1 44.0L136.3 43.6L137.4 43.8L136.7 45.9L137.4 47.0L140.7 48.4L143.2 49.2L143.9 48.0L147.5 48.1L151.1 48.6L152.7 48.6L154.1 48.6L154.7 47.2L155.4 45.5L155.4 44.3L152.9 44.6L151.1 44.5L149.3 43.8L148.6 43.0L148.6 41.4L148.2 40.7L146.0 41.1L146.8 42.9L146.0 43.0L145.7 44.3L144.6 43.0L143.5 41.4L143.5 39.7L142.1 38.9L140.3 37.6L139.4 36.7L138.3 37.0L139.2 38.5L141.0 40.1L142.8 41.4L141.7 42.2L141.0 43.0L140.8 41.4L138.5 40.1L137.1 38.9L136.0 37.8L134.9 38.2L133.1 38.6L131.7 38.6L131.7 39.7L129.9 40.9L129.1 41.8L129.5 42.5L128.1 44.0L125.5 44.7L125.2 44.3L123.2 43.8L122.7 42.2L123.2 40.5L122.8 38.9L123.7 38.3L126.6 38.5L128.4 38.5L128.6 36.4L127.7 35.3L126.3 34.3L128.1 34.2L128.8 33.5L130.6 33.1L130.9 32.3L132.4 31.7L133.1 30.6L134.5 30.4L135.6 30.2L135.3 28.5L135.6 27.1L136.7 26.9L137.1 28.1L137.4 29.8L139.6 29.8L143.5 29.4L144.6 28.5L144.6 27.3L145.7 26.5L146.8 25.3L149.6 25.2L151.1 24.8L149.6 24.4L146.0 24.8L145.0 24.4L145.0 23.2L147.5 20.7L145.7 20.0L144.6 21.5L142.1 24.0L142.5 25.6L141.0 27.7L139.6 28.6L138.5 28.1L137.8 26.5L136.7 25.6L135.3 26.5L133.8 26.5L133.1 25.6L133.1 23.2L136.7 21.9L138.1 20.7L138.9 19.0L141.0 17.4L143.9 16.5L147.5 15.7L151.1 16.5L154.7 17.2L159.0 18.6L156.8 19.5L154.0 19.9L156.1 21.5L158.3 21.1L159.0 19.7L161.2 19.4L161.9 17.8L165.5 18.4L169.1 18.0L172.7 17.5L177.7 17.8L178.4 16.5L179.9 14.1L183.5 14.5L187.1 13.6L187.8 14.5L191.4 13.2L192.8 12.2L197.8 11.6L201.4 11.2L204.3 10.2L205.0 10.3L210.1 11.6L210.8 13.5L215.8 14.1L219.4 13.6L221.6 14.5L223.0 15.7L226.6 15.3L230.2 14.5L233.8 14.6L237.4 15.3L241.0 15.7L244.6 16.1L248.2 16.9L251.8 16.5L256.1 16.7L259.0 17.4M125.5 33.1L130.6 32.3L130.7 30.9L129.5 30.2L128.4 29.0L128.1 27.3L127.0 26.0L125.9 26.0L125.2 27.3L125.5 28.5L127.3 29.4L127.3 30.3L126.3 30.4L125.9 31.7L127.3 32.0L125.5 33.1M125.2 31.4L125.2 29.8L124.1 28.7L122.3 29.8L122.3 31.4L123.7 31.8L125.2 31.4M113.7 21.5L112.2 20.3L113.7 19.5L118.0 19.4L119.8 20.7L118.7 21.3L115.8 22.0L113.7 21.5M137.4 9.5L141.0 8.3L148.9 8.3L145.3 10.3L140.3 10.8L137.4 9.5M166.9 15.3L169.8 13.6L171.9 12.0L178.4 10.9L175.5 12.4L170.5 14.9L169.1 16.0L166.9 15.3M198.6 9.5L201.4 8.7L204.3 9.1L201.4 7.4L198.6 8.3L198.6 9.5M228.1 13.2L231.7 13.6L236.7 12.4L233.8 11.6L230.2 11.6L228.1 13.2M223.7 46.3L224.8 45.1L227.0 45.1L227.7 43.7L229.1 43.1L230.2 41.4L230.2 40.2L231.3 40.3L231.7 42.2L230.9 43.0L230.7 44.7L230.1 45.5L229.1 45.7L227.9 45.9L226.6 46.7L224.8 46.3L223.7 46.3M223.0 46.7L224.1 46.9L224.1 48.4L223.4 48.8L222.9 47.6L223.0 46.7M230.2 39.7L231.3 37.0L234.2 38.6L232.7 39.7L230.9 40.1L230.2 39.7M231.7 36.4L232.7 36.0L232.4 33.9L233.5 33.9L232.4 29.5L232.0 30.2L231.7 32.3L231.5 34.7L231.7 36.4M216.0 55.8L216.6 53.5L217.3 53.8L216.4 56.3L216.0 55.8M207.6 58.6L209.0 57.9L209.4 58.2L208.3 59.4L207.6 58.6M215.8 62.5L216.2 59.1L217.4 59.1L217.3 61.2L218.7 63.7L217.3 63.1L216.2 62.9L215.8 62.5M217.3 68.7L218.4 67.8L219.8 66.6L220.5 68.7L219.8 69.7L218.7 69.1L217.3 68.7M207.9 73.2L208.6 75.7L209.4 76.9L211.9 77.7L213.3 76.5L213.0 74.5L214.4 73.6L215.1 70.3L213.7 68.7L213.0 69.1L212.2 70.3L211.2 71.1L209.4 72.8L208.3 72.8L207.9 73.2M198.2 69.9L199.6 70.1L201.8 72.8L203.6 74.5L204.7 75.7L205.8 77.1L205.8 79.2L204.7 79.2L202.9 77.8L201.8 75.3L200.4 73.0L198.6 71.1L198.2 69.9M205.4 80.1L207.2 79.6L209.4 79.8L211.9 80.8L211.9 81.6L208.6 81.2L205.8 80.5L205.4 80.1M215.5 79.0L215.1 76.9L215.5 74.5L215.8 73.8L218.0 73.6L219.4 73.2L218.0 74.1L216.6 74.0L216.9 75.3L218.4 75.3L216.9 76.1L217.6 78.2L216.6 78.6L216.2 76.9L216.2 79.0L215.5 79.0M223.7 75.7L225.9 75.1L227.0 77.2L228.8 75.9L230.9 76.6L233.8 78.2L234.9 79.4L236.0 81.1L237.4 83.0L235.3 82.7L233.8 81.1L232.7 81.9L230.9 82.1L229.5 81.1L228.8 81.4L228.6 78.6L225.9 77.6L224.5 76.8L223.7 75.7M211.2 92.6L211.5 96.0L212.2 98.9L212.7 102.2L212.2 102.8L214.3 103.4L216.6 102.4L218.7 101.7L220.2 101.2L222.3 100.7L224.1 100.5L225.9 101.6L227.2 103.2L228.4 101.7L228.6 103.9L230.2 105.5L232.7 106.5L234.8 106.8L236.0 105.7L237.4 105.4L238.1 102.6L239.6 100.1L239.9 97.6L239.6 95.1L238.1 93.9L237.1 92.9L234.8 90.2L234.1 87.7L232.7 86.0L232.0 83.3L231.4 85.2L231.3 88.1L230.2 89.1L228.4 87.7L227.0 86.9L227.9 84.5L224.8 84.0L223.7 84.5L222.7 86.7L221.2 86.0L219.8 86.4L218.4 88.1L217.4 89.3L216.6 90.7L214.8 91.2L213.3 91.6L211.9 92.5L211.2 92.6M233.8 108.2L236.2 108.3L236.0 110.0L234.9 110.5L234.0 109.4L233.8 108.2M253.7 103.0L255.0 104.6L255.8 105.1L257.9 105.6L256.8 107.0L256.1 108.6L255.3 108.6L255.0 107.1L254.5 106.9L255.0 105.9L253.7 103.0M253.7 108.0L254.9 108.8L254.0 110.4L252.5 111.7L251.1 113.0L249.3 112.5L250.4 110.8L252.2 110.0L253.2 108.8L253.7 108.0M165.0 84.4L165.8 87.3L165.1 88.5L164.0 92.6L163.4 95.0L161.9 95.5L160.8 93.9L160.7 92.2L161.4 89.3L161.2 88.1L163.0 87.3L163.7 86.4L165.0 84.4M186.9 68.7L187.1 66.3L188.1 67.4L188.4 69.1L187.4 69.5L186.9 68.7M68.3 56.4L70.5 55.3L71.9 55.4L74.1 56.7L76.1 57.7L73.7 58.1L73.4 57.3L71.2 56.4L69.8 56.7L68.3 56.4M75.9 59.3L77.1 58.0L79.1 58.2L80.3 59.1L78.4 59.6L76.0 59.3M0.0 144.1L14.4 144.4L23.0 144.2L24.1 142.3L22.3 141.0L18.0 140.0L12.2 139.2L15.8 138.8L21.6 138.4L25.2 137.6L28.8 136.9L32.4 136.2L36.0 135.9L39.6 135.4L43.2 135.5L46.8 135.7L50.4 136.1L54.0 135.9L57.6 135.3L61.2 134.7L64.8 134.7L68.3 134.8L71.9 135.0L74.8 134.7L77.7 133.6L80.6 130.7L82.0 129.0L84.2 127.8L88.5 126.7L86.3 127.8L84.9 129.0L84.2 131.1L84.9 132.8L84.2 134.8L82.7 136.9L84.2 138.1L89.9 139.6L97.1 139.5L102.2 138.6L105.8 137.3L110.1 136.3L115.1 134.8L118.7 134.0L122.3 133.2L125.9 132.9L129.5 132.8L133.1 132.5L136.7 132.4L140.3 132.2L143.9 132.2L147.5 132.4L151.1 131.9L154.7 131.5L158.3 131.4L161.9 130.5L165.5 129.5L169.1 129.0L172.7 129.9L176.3 130.3L179.9 130.7L181.3 132.4L183.5 131.9L187.1 130.3L190.7 129.7L194.2 129.5L197.8 129.0L201.4 129.0L205.0 129.2L208.6 129.0L212.2 129.7L215.8 129.6L219.4 129.5L223.0 129.3L226.6 129.0L230.2 129.7L233.8 130.3L237.4 131.1L241.0 131.5L244.6 132.4L248.2 133.2L251.8 134.0L251.1 135.3L247.5 136.9L246.8 138.1L249.6 139.0L251.8 140.6L254.0 142.7L259.0 144.1" fill="none" stroke="#000" stroke-width="0.85" stroke-linejoin="round"/>
</g>
<path d="M0.00 0V-5M0.00 148.9V153.9M43.17 0V-5M43.17 148.9V153.9M86.33 0V-5M86.33 148.9V153.9M129.50 0V-5M129.50 148.9V153.9M172.67 0V-5M172.67 148.9V153.9M215.83 0V-5M215.83 148.9V153.9M259.00 0V-5M259.00 148.9V153.9M0 148.90H-5M259.0 148.90H264.0M0 124.08H-5M259.0 124.08H264.0M0 99.27H-5M259.0 99.27H264.0M0 74.45H-5M259.0 74.45H264.0M0 49.63H-5M259.0 49.63H264.0M0 24.82H-5M259.0 24.82H264.0M0 0.00H-5M259.0 0.00H264.0" stroke="#222" stroke-width="1.1" fill="none"/>
<path d="M7.19 0V-2.6M7.19 148.9V151.5M14.39 0V-2.6M14.39 148.9V151.5M21.58 0V-2.6M21.58 148.9V151.5M28.78 0V-2.6M28.78 148.9V151.5M35.97 0V-2.6M35.97 148.9V151.5M50.36 0V-2.6M50.36 148.9V151.5M57.56 0V-2.6M57.56 148.9V151.5M64.75 0V-2.6M64.75 148.9V151.5M71.94 0V-2.6M71.94 148.9V151.5M79.14 0V-2.6M79.14 148.9V151.5M93.53 0V-2.6M93.53 148.9V151.5M100.72 0V-2.6M100.72 148.9V151.5M107.92 0V-2.6M107.92 148.9V151.5M115.11 0V-2.6M115.11 148.9V151.5M122.31 0V-2.6M122.31 148.9V151.5M136.69 0V-2.6M136.69 148.9V151.5M143.89 0V-2.6M143.89 148.9V151.5M151.08 0V-2.6M151.08 148.9V151.5M158.28 0V-2.6M158.28 148.9V151.5M165.47 0V-2.6M165.47 148.9V151.5M179.86 0V-2.6M179.86 148.9V151.5M187.06 0V-2.6M187.06 148.9V151.5M194.25 0V-2.6M194.25 148.9V151.5M201.44 0V-2.6M201.44 148.9V151.5M208.64 0V-2.6M208.64 148.9V151.5M223.03 0V-2.6M223.03 148.9V151.5M230.22 0V-2.6M230.22 148.9V151.5M237.42 0V-2.6M237.42 148.9V151.5M244.61 0V-2.6M244.61 148.9V151.5M251.81 0V-2.6M251.81 148.9V151.5M0 140.63H-2.6M259.0 140.63H261.6M0 132.36H-2.6M259.0 132.36H261.6M0 115.81H-2.6M259.0 115.81H261.6M0 107.54H-2.6M259.0 107.54H261.6M0 90.99H-2.6M259.0 90.99H261.6M0 82.72H-2.6M259.0 82.72H261.6M0 66.18H-2.6M259.0 66.18H261.6M0 57.91H-2.6M259.0 57.91H261.6M0 41.36H-2.6M259.0 41.36H261.6M0 33.09H-2.6M259.0 33.09H261.6M0 16.54H-2.6M259.0 16.54H261.6M0 8.27H-2.6M259.0 8.27H261.6" stroke="#333" stroke-width="0.85" fill="none"/>
<rect x="0" y="0" width="259.0" height="148.9" fill="none" stroke="#222" stroke-width="1.15"/>
<g font-size="11.5" fill="#000"><text transform="translate(-11.40,4.20) scale(0.835,1)" text-anchor="end">90N</text><text transform="translate(-11.40,29.02) scale(0.835,1)" text-anchor="end">60N</text><text transform="translate(-11.40,53.83) scale(0.835,1)" text-anchor="end">30N</text><text transform="translate(-11.40,78.65) scale(0.835,1)" text-anchor="end">0</text><text transform="translate(-11.40,103.47) scale(0.835,1)" text-anchor="end">30S</text><text transform="translate(-11.40,128.28) scale(0.835,1)" text-anchor="end">60S</text><text transform="translate(-11.40,153.10) scale(0.835,1)" text-anchor="end">90S</text><text transform="translate(0.00,168.90) scale(0.835,1)" text-anchor="middle">180</text><text transform="translate(43.17,168.90) scale(0.835,1)" text-anchor="middle">120W</text><text transform="translate(86.33,168.90) scale(0.835,1)" text-anchor="middle">60W</text><text transform="translate(129.50,168.90) scale(0.835,1)" text-anchor="middle">0</text><text transform="translate(172.67,168.90) scale(0.835,1)" text-anchor="middle">60E</text><text transform="translate(215.83,168.90) scale(0.835,1)" text-anchor="middle">120E</text><text transform="translate(259.00,168.90) scale(0.835,1)" text-anchor="middle">180</text></g>
</g>
<text x="3.5" y="398.7" font-size="14" fill="#000">(c)</text>
<g>
<path d="M62.5 596.0L52.5 601.1L62.5 606.2Z" fill="#1f2152" stroke="#222" stroke-width="0.8"/>
<rect x="62.5" y="596.0" width="10" height="10.2" fill="#2b3a7a" stroke="#222" stroke-width="0.8"/>
<rect x="72.5" y="596.0" width="10" height="10.2" fill="#2167ad" stroke="#222" stroke-width="0.8"/>
<rect x="82.5" y="596.0" width="10" height="10.2" fill="#2a70b4" stroke="#222" stroke-width="0.8"/>
<rect x="92.5" y="596.0" width="10" height="10.2" fill="#2f76b8" stroke="#222" stroke-width="0.8"/>
<rect x="102.5" y="596.0" width="10" height="10.2" fill="#4b96c8" stroke="#222" stroke-width="0.8"/>
<rect x="112.5" y="596.0" width="10" height="10.2" fill="#5a9cc8" stroke="#222" stroke-width="0.8"/>
<rect x="122.5" y="596.0" width="10" height="10.2" fill="#6ab4d0" stroke="#222" stroke-width="0.8"/>
<rect x="132.5" y="596.0" width="10" height="10.2" fill="#92d2dc" stroke="#222" stroke-width="0.8"/>
<rect x="142.5" y="596.0" width="10" height="10.2" fill="#cdeef8" stroke="#222" stroke-width="0.8"/>
<rect x="152.5" y="596.0" width="10" height="10.2" fill="#ffffff" stroke="#222" stroke-width="0.8"/>
<rect x="162.5" y="596.0" width="10" height="10.2" fill="#ffffff" stroke="#222" stroke-width="0.8"/>
<rect x="172.5" y="596.0" width="10" height="10.2" fill="#fcd8d8" stroke="#222" stroke-width="0.8"/>
<rect x="182.5" y="596.0" width="10" height="10.2" fill="#fcb4a8" stroke="#222" stroke-width="0.8"/>
<rect x="192.5" y="596.0" width="10" height="10.2" fill="#f88c78" stroke="#222" stroke-width="0.8"/>
<rect x="202.5" y="596.0" width="10" height="10.2" fill="#f46a58" stroke="#222" stroke-width="0.8"/>
<rect x="212.5" y="596.0" width="10" height="10.2" fill="#e8473c" stroke="#222" stroke-width="0.8"/>
<rect x="222.5" y="596.0" width="10" height="10.2" fill="#d0292d" stroke="#222" stroke-width="0.8"/>
<rect x="232.5" y="596.0" width="10" height="10.2" fill="#c6282c" stroke="#222" stroke-width="0.8"/>
<rect x="242.5" y="596.0" width="10" height="10.2" fill="#a5282e" stroke="#222" stroke-width="0.8"/>
<rect x="252.5" y="596.0" width="10" height="10.2" fill="#781b20" stroke="#222" stroke-width="0.8"/>
<path d="M262.5 596.0L271.5 601.1L262.5 606.2Z" fill="#5a1418" stroke="#222" stroke-width="0.8"/>
<g font-size="11.5" fill="#000"><text transform="translate(62.50,618.60) scale(0.835,1)" text-anchor="middle">-10</text><text transform="translate(82.50,618.60) scale(0.835,1)" text-anchor="middle">-8</text><text transform="translate(102.50,618.60) scale(0.835,1)" text-anchor="middle">-6</text><text transform="translate(122.50,618.60) scale(0.835,1)" text-anchor="middle">-4</text><text transform="translate(142.50,618.60) scale(0.835,1)" text-anchor="middle">-2</text><text transform="translate(162.50,618.60) scale(0.835,1)" text-anchor="middle">0</text><text transform="translate(182.50,618.60) scale(0.835,1)" text-anchor="middle">2</text><text transform="translate(202.50,618.60) scale(0.835,1)" text-anchor="middle">4</text><text transform="translate(222.50,618.60) scale(0.835,1)" text-anchor="middle">6</text><text transform="translate(242.50,618.60) scale(0.835,1)" text-anchor="middle">8</text><text transform="translate(262.50,618.60) scale(0.835,1)" text-anchor="middle">10</text></g>
<text transform="translate(293.4,612.4) scale(1,1)" font-size="11.6" fill="#000"><tspan font-size="7.2" dy="-4.8">o</tspan><tspan dy="4.8">C</tspan></text>
</g>
</svg></body></html>
